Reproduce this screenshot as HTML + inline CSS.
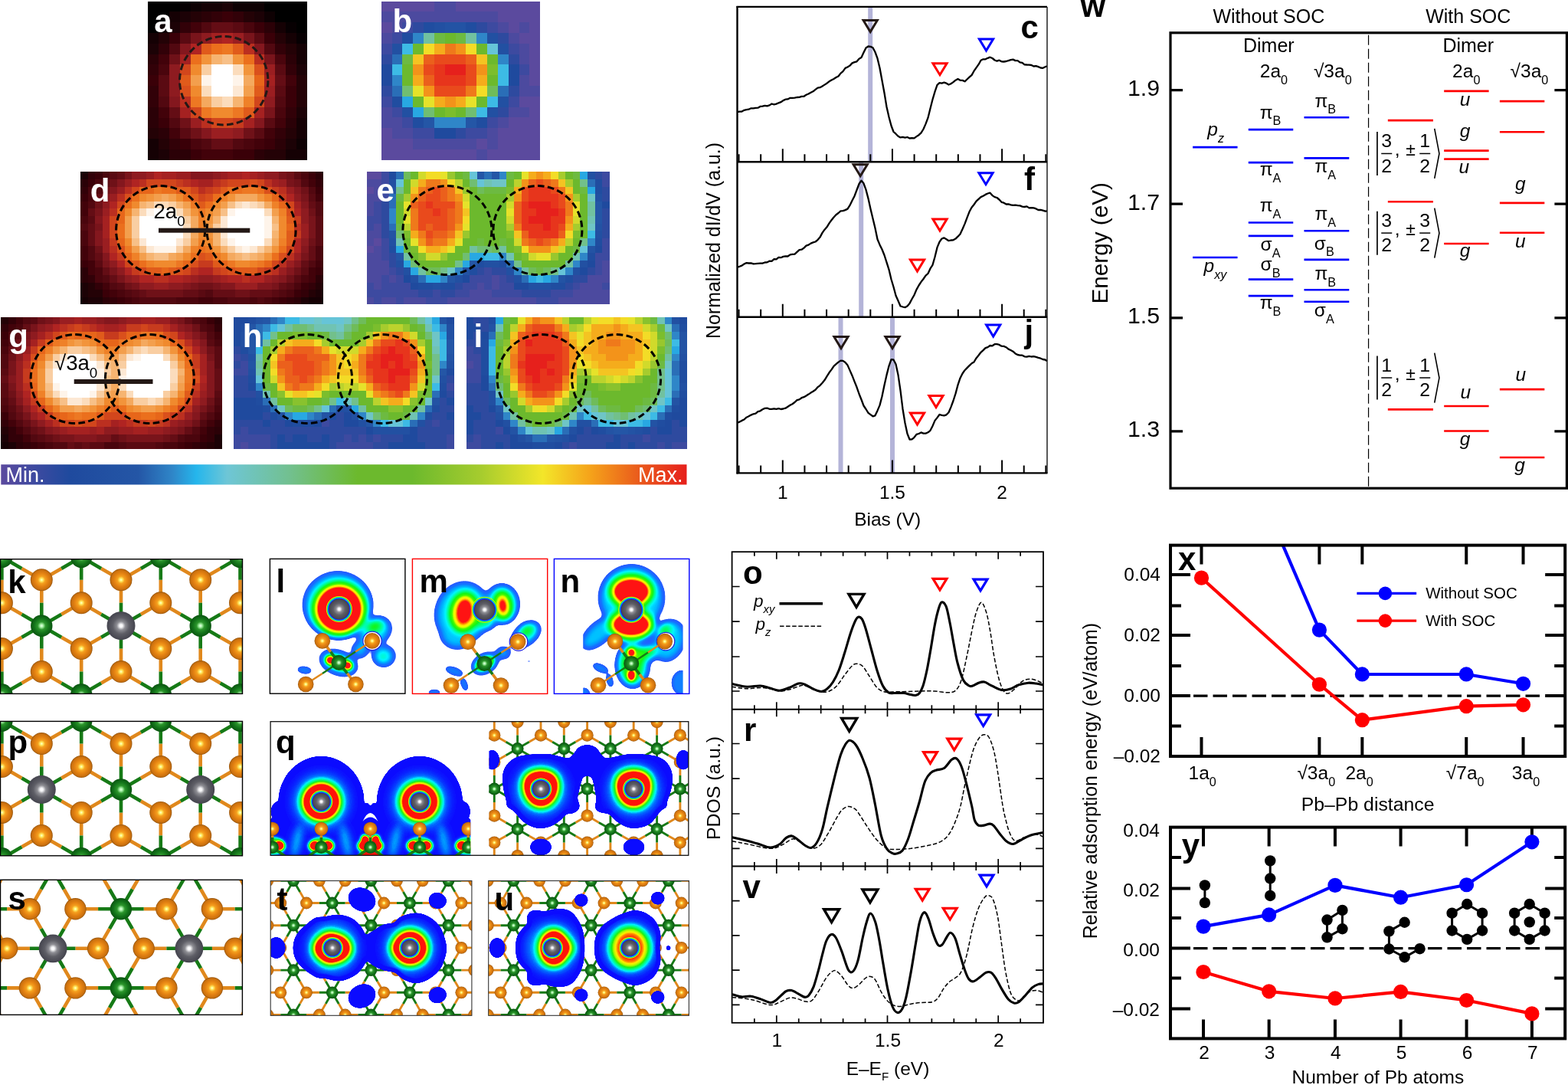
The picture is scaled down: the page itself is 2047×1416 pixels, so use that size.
<!DOCTYPE html>
<html lang="en"><head><meta charset="utf-8"><title>Figure</title>
<style>
html,body{margin:0;padding:0;background:#fff}
body{width:2047px;height:1416px;overflow:hidden}
svg{display:block;font-family:"Liberation Sans",Arial,Helvetica,sans-serif}
</style></head><body>
<svg width="2047" height="1416" viewBox="0 0 2047 1416">
<rect width="2047" height="1416" fill="#fff"/>
<g id="heat">
<g transform="translate(193.4 1.6) scale(13.8267 13.8133)" shape-rendering="crispEdges"><path fill="#000000" d="M0 0h3v1h-3zM11 0h4v1h-4zM0 1h2v1h-2zM12 1h3v1h-3zM0 2h1v1h-1zM14 2h1v1h-1z"/><path fill="#070002" d="M3 0h1v1h-1zM13 2h1v1h-1zM14 3h1v1h-1z"/><path fill="#0e0103" d="M4 0h1v1h-1zM8 0h3v1h-3zM11 1h1v1h-1zM1 2h1v1h-1zM14 13h1v1h-1z"/><path fill="#150104" d="M5 0h2v1h-2zM2 1h1v1h-1zM12 2h1v1h-1zM0 3h1v1h-1zM13 3h1v1h-1zM14 4h1v1h-1zM14 5h1v1h-1zM14 11h1v1h-1zM14 12h1v1h-1zM0 13h1v1h-1zM0 14h1v1h-1zM13 14h2v1h-2z"/><path fill="#1c0206" d="M7 0h1v1h-1zM3 1h1v1h-1zM10 1h1v1h-1zM2 2h1v1h-1zM0 4h1v1h-1zM14 6h1v1h-1zM14 10h1v1h-1zM13 13h1v1h-1zM1 14h1v1h-1z"/><path fill="#240206" d="M4 1h1v1h-1zM9 1h1v1h-1zM1 3h1v1h-1zM12 3h1v1h-1zM13 4h1v1h-1zM14 7h1v1h-1zM14 8h1v1h-1zM14 9h1v1h-1zM0 12h1v1h-1zM13 12h1v1h-1zM1 13h1v1h-1zM11 14h2v1h-2z"/><path fill="#2b0107" d="M5 1h1v1h-1zM11 2h1v1h-1zM0 5h1v1h-1zM13 5h1v1h-1zM0 10h1v1h-1zM0 11h1v1h-1zM13 11h1v1h-1zM1 12h1v1h-1zM12 13h1v1h-1zM2 14h2v1h-2zM10 14h1v1h-1z"/><path fill="#320108" d="M6 1h1v1h-1zM8 1h1v1h-1zM3 2h1v1h-1zM1 4h1v1h-1zM12 4h1v1h-1zM0 6h1v1h-1zM13 6h1v1h-1zM0 8h1v1h-1zM0 9h1v1h-1zM13 10h1v1h-1zM12 12h1v1h-1zM2 13h1v1h-1z"/><path fill="#3a0008" d="M7 1h1v1h-1zM10 2h1v1h-1zM2 3h1v1h-1zM11 3h1v1h-1zM0 7h1v1h-1zM13 8h1v1h-1zM13 9h1v1h-1zM1 11h1v1h-1zM3 13h1v1h-1zM11 13h1v1h-1zM4 14h1v1h-1zM8 14h2v1h-2z"/><path fill="#42020a" d="M4 2h1v1h-1zM1 5h1v1h-1zM13 7h1v1h-1zM1 10h1v1h-1zM12 11h1v1h-1zM2 12h1v1h-1zM11 12h1v1h-1zM10 13h1v1h-1zM5 14h3v1h-3z"/><path fill="#520810" d="M5 2h1v1h-1zM2 4h1v1h-1zM11 4h1v1h-1zM1 9h1v1h-1zM12 9h1v1h-1zM2 11h1v1h-1zM5 13h1v1h-1zM8 13h1v1h-1z"/><path fill="#640d15" d="M6 2h2v1h-2zM12 7h1v1h-1zM2 10h1v1h-1zM6 13h2v1h-2z"/><path fill="#5a0a12" d="M8 2h1v1h-1zM3 3h1v1h-1zM10 3h1v1h-1zM12 6h1v1h-1zM1 7h1v1h-1zM1 8h1v1h-1zM12 8h1v1h-1zM11 11h1v1h-1zM3 12h1v1h-1zM10 12h1v1h-1z"/><path fill="#4a050d" d="M9 2h1v1h-1zM12 5h1v1h-1zM1 6h1v1h-1zM12 10h1v1h-1zM4 13h1v1h-1zM9 13h1v1h-1z"/><path fill="#79141b" d="M4 3h1v1h-1zM9 3h1v1h-1zM11 5h1v1h-1zM11 10h1v1h-1z"/><path fill="#8e1b20" d="M5 3h1v1h-1zM2 6h1v1h-1zM2 7h1v1h-1zM2 8h1v1h-1zM11 9h1v1h-1zM8 12h1v1h-1z"/><path fill="#a52121" d="M6 3h1v1h-1zM3 5h1v1h-1zM11 7h1v1h-1zM3 10h1v1h-1zM10 10h1v1h-1zM9 11h1v1h-1z"/><path fill="#b02422" d="M7 3h1v1h-1zM4 4h1v1h-1z"/><path fill="#9a1e21" d="M8 3h1v1h-1zM11 6h1v1h-1zM11 8h1v1h-1zM4 11h1v1h-1zM6 12h2v1h-2z"/><path fill="#84171e" d="M3 4h1v1h-1zM10 4h1v1h-1zM2 9h1v1h-1zM10 11h1v1h-1zM5 12h1v1h-1z"/><path fill="#e05b1b" d="M5 4h1v1h-1zM8 4h1v1h-1zM3 7h1v1h-1zM10 8h1v1h-1zM9 10h1v1h-1z"/><path fill="#eb6f1d" d="M6 4h1v1h-1zM4 5h1v1h-1zM9 5h1v1h-1z"/><path fill="#ed7823" d="M7 4h1v1h-1zM4 9h1v1h-1zM5 10h1v1h-1zM8 10h1v1h-1z"/><path fill="#bb2f20" d="M9 4h1v1h-1zM10 5h1v1h-1zM3 9h1v1h-1zM5 11h1v1h-1z"/><path fill="#6f1118" d="M2 5h1v1h-1zM3 11h1v1h-1zM4 12h1v1h-1zM9 12h1v1h-1z"/><path fill="#f2943b" d="M5 5h1v1h-1zM8 5h1v1h-1zM9 6h1v1h-1z"/><path fill="#f6b471" d="M6 5h1v1h-1zM8 9h1v1h-1z"/><path fill="#f7c088" d="M7 5h1v1h-1z"/><path fill="#d2461c" d="M3 6h1v1h-1zM10 9h1v1h-1zM4 10h1v1h-1zM6 11h2v1h-2z"/><path fill="#f08a2e" d="M4 6h1v1h-1zM4 8h1v1h-1zM6 10h2v1h-2z"/><path fill="#f9cea2" d="M5 6h1v1h-1zM6 9h1v1h-1z"/><path fill="#ffffff" d="M6 6h2v1h-2zM6 7h2v1h-2zM6 8h2v1h-2z"/><path fill="#fbdcbc" d="M8 6h1v1h-1zM5 8h1v1h-1zM7 9h1v1h-1z"/><path fill="#da501c" d="M10 6h1v1h-1zM3 8h1v1h-1z"/><path fill="#f39f4d" d="M4 7h1v1h-1zM9 8h1v1h-1z"/><path fill="#fef4ea" d="M5 7h1v1h-1zM8 7h1v1h-1z"/><path fill="#f4a95f" d="M9 7h1v1h-1zM5 9h1v1h-1z"/><path fill="#e7661a" d="M10 7h1v1h-1z"/><path fill="#fce8d4" d="M8 8h1v1h-1z"/><path fill="#ef8128" d="M9 9h1v1h-1z"/><path fill="#c73b1e" d="M8 11h1v1h-1z"/></g>
<g transform="translate(497.8 1.6) scale(13.8267 13.8)" shape-rendering="crispEdges"><path fill="#5b4a9e" d="M0 0h5v1h-5zM7 0h8v1h-8zM11 1h4v1h-4zM0 2h1v1h-1zM12 2h1v1h-1zM14 2h1v1h-1zM13 3h2v1h-2zM14 4h1v1h-1zM14 5h1v1h-1zM14 6h1v1h-1zM14 7h1v1h-1zM13 9h2v1h-2zM14 10h1v1h-1zM12 11h3v1h-3zM0 12h1v1h-1zM11 12h4v1h-4zM0 13h3v1h-3zM9 13h1v1h-1zM11 13h4v1h-4zM0 14h9v1h-9zM10 14h5v1h-5z"/><path fill="#4c4a9f" d="M5 0h2v1h-2zM0 1h11v1h-11zM1 2h1v1h-1zM11 2h1v1h-1zM13 2h1v1h-1zM0 3h1v1h-1zM12 3h1v1h-1zM13 4h1v1h-1zM13 5h1v1h-1zM13 7h1v1h-1zM13 8h2v1h-2zM0 10h1v1h-1zM12 10h2v1h-2zM0 11h2v1h-2zM11 11h1v1h-1zM1 12h2v1h-2zM10 12h1v1h-1zM3 13h6v1h-6zM10 13h1v1h-1zM9 14h1v1h-1z"/><path fill="#3d4aa0" d="M2 2h1v1h-1zM10 2h1v1h-1zM1 3h1v1h-1zM0 4h1v1h-1zM12 4h1v1h-1zM13 6h1v1h-1zM0 9h1v1h-1zM12 9h1v1h-1zM1 10h1v1h-1zM2 11h1v1h-1zM10 11h1v1h-1zM3 12h2v1h-2zM8 12h2v1h-2z"/><path fill="#2e4a9f" d="M3 2h1v1h-1zM9 2h1v1h-1zM11 3h1v1h-1zM0 5h1v1h-1zM12 5h1v1h-1zM0 8h1v1h-1zM12 8h1v1h-1zM11 10h1v1h-1zM7 12h1v1h-1z"/><path fill="#204da0" d="M4 2h1v1h-1zM8 2h1v1h-1zM2 3h1v1h-1zM1 9h1v1h-1zM3 11h1v1h-1zM9 11h1v1h-1z"/><path fill="#2250a2" d="M5 2h1v1h-1zM10 3h1v1h-1zM1 4h1v1h-1zM11 4h1v1h-1zM11 9h1v1h-1zM2 10h1v1h-1zM10 10h1v1h-1z"/><path fill="#2353a4" d="M6 2h2v1h-2z"/><path fill="#2f86c8" d="M3 3h1v1h-1zM9 3h1v1h-1zM11 5h1v1h-1zM1 7h1v1h-1zM5 11h3v1h-3z"/><path fill="#71c1a0" d="M4 3h1v1h-1zM8 3h1v1h-1z"/><path fill="#6dba41" d="M5 3h1v1h-1zM7 3h1v1h-1zM2 5h1v1h-1z"/><path fill="#6cb92d" d="M6 3h1v1h-1zM3 4h1v1h-1zM9 4h1v1h-1zM10 5h1v1h-1zM2 6h1v1h-1zM2 7h1v1h-1zM10 7h1v1h-1zM3 9h1v1h-1zM9 9h1v1h-1zM5 10h1v1h-1zM7 10h1v1h-1z"/><path fill="#3dbbe5" d="M2 4h1v1h-1zM1 6h1v1h-1zM11 6h1v1h-1zM11 7h1v1h-1zM10 9h1v1h-1zM9 10h1v1h-1z"/><path fill="#f3dc27" d="M4 4h1v1h-1zM8 4h1v1h-1zM9 8h1v1h-1z"/><path fill="#f5ac1c" d="M5 4h1v1h-1zM3 7h1v1h-1zM9 7h1v1h-1zM5 9h1v1h-1zM7 9h1v1h-1z"/><path fill="#ef791b" d="M6 4h1v1h-1zM8 8h1v1h-1z"/><path fill="#f3931a" d="M7 4h1v1h-1zM3 6h1v1h-1zM9 6h1v1h-1zM4 8h1v1h-1zM6 9h1v1h-1z"/><path fill="#66c4d8" d="M10 4h1v1h-1z"/><path fill="#2a6eb7" d="M1 5h1v1h-1zM1 8h1v1h-1zM11 8h1v1h-1z"/><path fill="#f4c422" d="M3 5h1v1h-1zM9 5h1v1h-1z"/><path fill="#eb601c" d="M4 5h1v1h-1zM8 5h1v1h-1zM4 7h1v1h-1z"/><path fill="#e94a1c" d="M5 5h3v1h-3zM4 6h1v1h-1zM8 6h1v1h-1zM8 7h1v1h-1zM5 8h3v1h-3z"/><path fill="#1f4a9e" d="M0 6h1v1h-1zM12 6h1v1h-1zM0 7h1v1h-1zM12 7h1v1h-1zM5 12h2v1h-2z"/><path fill="#e7351c" d="M5 6h1v1h-1zM5 7h3v1h-3z"/><path fill="#e6201c" d="M6 6h2v1h-2z"/><path fill="#7bbe2d" d="M10 6h1v1h-1zM6 10h1v1h-1z"/><path fill="#70be72" d="M2 8h1v1h-1zM4 10h1v1h-1zM8 10h1v1h-1z"/><path fill="#e6e22a" d="M3 8h1v1h-1zM4 9h1v1h-1zM8 9h1v1h-1z"/><path fill="#6fbc5a" d="M10 8h1v1h-1z"/><path fill="#28a8e2" d="M2 9h1v1h-1zM3 10h1v1h-1z"/><path fill="#2456a6" d="M4 11h1v1h-1zM8 11h1v1h-1z"/></g>
<g transform="translate(105 224.3) scale(9.6061 9.6222)" shape-rendering="crispEdges"><path fill="#1c0206" d="M0 0h1v1h-1zM0 15h1v1h-1zM0 16h1v1h-1zM32 16h1v1h-1zM1 17h2v1h-2zM30 17h1v1h-1z"/><path fill="#320108" d="M1 0h1v1h-1zM32 1h1v1h-1zM0 2h1v1h-1zM1 14h1v1h-1zM2 15h1v1h-1zM31 15h1v1h-1zM30 16h1v1h-1zM4 17h1v1h-1zM28 17h1v1h-1z"/><path fill="#3a0008" d="M2 0h1v1h-1zM31 0h1v1h-1zM1 1h1v1h-1zM32 2h1v1h-1zM0 3h1v1h-1zM0 12h1v1h-1zM32 13h1v1h-1zM30 15h1v1h-1zM3 16h1v1h-1zM29 16h1v1h-1zM5 17h1v1h-1zM27 17h1v1h-1z"/><path fill="#4a050d" d="M3 0h1v1h-1zM30 0h1v1h-1zM2 1h1v1h-1zM1 2h1v1h-1zM1 3h1v1h-1zM0 6h1v1h-1zM0 8h1v1h-1zM0 9h1v1h-1zM32 10h1v1h-1zM32 11h1v1h-1zM2 13h1v1h-1zM2 14h1v1h-1zM30 14h1v1h-1zM29 15h1v1h-1zM5 16h1v1h-1zM28 16h1v1h-1zM7 17h1v1h-1zM13 17h3v1h-3zM18 17h2v1h-2zM23 17h1v1h-1zM25 17h1v1h-1z"/><path fill="#5a0a12" d="M4 0h1v1h-1zM29 0h1v1h-1zM3 1h1v1h-1zM31 3h1v1h-1zM1 6h1v1h-1zM32 6h1v1h-1zM32 7h1v1h-1zM32 8h1v1h-1zM32 9h1v1h-1zM2 12h1v1h-1zM30 13h1v1h-1zM29 14h1v1h-1zM5 15h1v1h-1zM28 15h1v1h-1zM7 16h1v1h-1zM16 16h1v1h-1zM26 16h1v1h-1z"/><path fill="#640d15" d="M5 0h1v1h-1zM2 3h1v1h-1zM31 4h1v1h-1zM1 5h1v1h-1zM1 7h1v1h-1zM1 8h1v1h-1zM1 9h1v1h-1zM31 10h1v1h-1zM2 11h1v1h-1zM31 11h1v1h-1zM30 12h1v1h-1zM3 13h1v1h-1zM4 14h1v1h-1zM27 15h1v1h-1zM8 16h1v1h-1zM14 16h2v1h-2zM18 16h3v1h-3zM23 16h3v1h-3z"/><path fill="#79141b" d="M6 0h1v1h-1zM27 0h1v1h-1zM28 1h1v1h-1zM30 3h1v1h-1zM2 5h1v1h-1zM31 6h1v1h-1zM2 7h1v1h-1zM31 7h1v1h-1zM31 8h1v1h-1zM30 11h1v1h-1zM3 12h1v1h-1zM4 13h1v1h-1zM5 14h1v1h-1zM7 15h1v1h-1zM15 15h1v1h-1zM18 15h1v1h-1zM26 15h1v1h-1z"/><path fill="#8e1b20" d="M7 0h2v1h-2zM18 0h1v1h-1zM25 0h2v1h-2zM29 3h1v1h-1zM3 4h1v1h-1zM30 5h1v1h-1zM30 6h1v1h-1zM30 9h1v1h-1zM4 12h1v1h-1zM5 13h1v1h-1zM6 14h1v1h-1zM16 14h2v1h-2zM26 14h1v1h-1zM8 15h2v1h-2zM12 15h2v1h-2z"/><path fill="#9a1e21" d="M9 0h1v1h-1zM13 0h2v1h-2zM19 0h1v1h-1zM24 0h1v1h-1zM6 1h1v1h-1zM27 1h1v1h-1zM5 2h1v1h-1zM28 2h1v1h-1zM4 3h1v1h-1zM3 5h1v1h-1zM30 7h1v1h-1zM30 8h1v1h-1zM3 9h1v1h-1zM3 10h1v1h-1zM29 11h1v1h-1zM28 12h1v1h-1zM27 13h1v1h-1zM7 14h1v1h-1zM15 14h1v1h-1zM18 14h1v1h-1zM25 14h1v1h-1zM10 15h2v1h-2zM21 15h3v1h-3z"/><path fill="#b02422" d="M10 0h1v1h-1zM22 0h1v1h-1zM7 1h1v1h-1zM15 1h1v1h-1zM28 3h1v1h-1zM4 4h1v1h-1zM29 5h1v1h-1zM29 9h1v1h-1zM29 10h1v1h-1zM4 11h1v1h-1zM5 12h1v1h-1zM6 13h1v1h-1zM16 13h2v1h-2zM8 14h2v1h-2zM12 14h2v1h-2zM20 14h2v1h-2zM23 14h2v1h-2z"/><path fill="#a52121" d="M11 0h2v1h-2zM20 0h2v1h-2zM23 0h1v1h-1zM16 1h2v1h-2zM26 1h1v1h-1zM29 4h1v1h-1zM3 6h1v1h-1zM3 7h1v1h-1zM3 8h1v1h-1zM14 14h1v1h-1zM19 14h1v1h-1z"/><path fill="#84171e" d="M15 0h3v1h-3zM5 1h1v1h-1zM4 2h1v1h-1zM29 2h1v1h-1zM3 3h1v1h-1zM30 4h1v1h-1zM2 6h1v1h-1zM2 8h1v1h-1zM2 9h1v1h-1zM30 10h1v1h-1zM3 11h1v1h-1zM29 12h1v1h-1zM28 13h1v1h-1zM27 14h1v1h-1zM14 15h1v1h-1zM19 15h2v1h-2zM24 15h2v1h-2z"/><path fill="#6f1118" d="M28 0h1v1h-1zM4 1h1v1h-1zM29 1h1v1h-1zM3 2h1v1h-1zM30 2h1v1h-1zM2 4h1v1h-1zM31 5h1v1h-1zM31 9h1v1h-1zM2 10h1v1h-1zM29 13h1v1h-1zM28 14h1v1h-1zM6 15h1v1h-1zM16 15h2v1h-2zM9 16h5v1h-5zM21 16h2v1h-2z"/><path fill="#2b0107" d="M32 0h1v1h-1zM0 1h1v1h-1zM0 13h1v1h-1zM0 14h1v1h-1zM32 14h1v1h-1zM3 17h1v1h-1zM29 17h1v1h-1z"/><path fill="#bb2f20" d="M8 1h1v1h-1zM14 1h1v1h-1zM18 1h1v1h-1zM25 1h1v1h-1zM6 2h1v1h-1zM16 2h1v1h-1zM27 2h1v1h-1zM5 3h1v1h-1zM4 5h1v1h-1zM29 7h1v1h-1zM4 10h1v1h-1zM28 11h1v1h-1zM27 12h1v1h-1zM15 13h1v1h-1zM26 13h1v1h-1zM10 14h2v1h-2zM22 14h1v1h-1z"/><path fill="#d2461c" d="M9 1h4v1h-4zM20 1h3v1h-3zM24 1h1v1h-1zM7 2h1v1h-1zM15 2h1v1h-1zM18 2h1v1h-1zM16 3h1v1h-1zM5 4h1v1h-1zM28 4h1v1h-1zM4 6h1v1h-1zM4 7h1v1h-1zM4 8h1v1h-1zM28 10h1v1h-1zM6 12h1v1h-1zM26 12h1v1h-1zM8 13h1v1h-1zM14 13h1v1h-1zM19 13h1v1h-1zM24 13h1v1h-1z"/><path fill="#c73b1e" d="M13 1h1v1h-1zM19 1h1v1h-1zM17 2h1v1h-1zM26 2h1v1h-1zM27 3h1v1h-1zM29 6h1v1h-1zM29 8h1v1h-1zM4 9h1v1h-1zM5 11h1v1h-1zM16 12h2v1h-2zM7 13h1v1h-1zM18 13h1v1h-1zM25 13h1v1h-1z"/><path fill="#da501c" d="M23 1h1v1h-1zM25 2h1v1h-1zM6 3h1v1h-1zM17 3h1v1h-1zM28 5h1v1h-1zM5 10h1v1h-1zM16 11h1v1h-1zM27 11h1v1h-1zM15 12h1v1h-1zM13 13h1v1h-1zM20 13h1v1h-1z"/><path fill="#520810" d="M30 1h1v1h-1zM2 2h1v1h-1zM31 2h1v1h-1zM1 4h1v1h-1zM32 4h1v1h-1zM32 5h1v1h-1zM0 7h1v1h-1zM1 10h1v1h-1zM1 11h1v1h-1zM31 12h1v1h-1zM3 14h1v1h-1zM4 15h1v1h-1zM6 16h1v1h-1zM17 16h1v1h-1zM27 16h1v1h-1zM8 17h5v1h-5zM20 17h3v1h-3zM24 17h1v1h-1z"/><path fill="#42020a" d="M31 1h1v1h-1zM32 3h1v1h-1zM0 4h1v1h-1zM0 5h1v1h-1zM0 10h1v1h-1zM0 11h1v1h-1zM1 12h1v1h-1zM32 12h1v1h-1zM1 13h1v1h-1zM31 13h1v1h-1zM31 14h1v1h-1zM3 15h1v1h-1zM4 16h1v1h-1zM6 17h1v1h-1zM16 17h2v1h-2zM26 17h1v1h-1z"/><path fill="#e7661a" d="M8 2h2v1h-2zM26 3h1v1h-1zM27 4h1v1h-1zM5 5h1v1h-1zM5 6h1v1h-1zM28 7h1v1h-1zM5 9h1v1h-1zM6 11h1v1h-1zM14 12h1v1h-1zM19 12h1v1h-1zM25 12h1v1h-1zM11 13h1v1h-1z"/><path fill="#ed7823" d="M10 2h1v1h-1zM22 2h2v1h-2zM15 4h1v1h-1zM16 5h1v1h-1zM6 10h1v1h-1zM17 10h1v1h-1zM18 11h1v1h-1zM13 12h1v1h-1zM20 12h1v1h-1zM24 12h1v1h-1z"/><path fill="#eb6f1d" d="M11 2h2v1h-2zM20 2h2v1h-2zM24 2h1v1h-1zM7 3h1v1h-1zM14 3h1v1h-1zM18 3h1v1h-1zM6 4h1v1h-1zM17 4h1v1h-1zM5 7h1v1h-1zM5 8h1v1h-1zM16 10h1v1h-1zM27 10h1v1h-1zM15 11h1v1h-1zM26 11h1v1h-1zM8 12h1v1h-1z"/><path fill="#e05b1b" d="M13 2h2v1h-2zM19 2h1v1h-1zM15 3h1v1h-1zM16 4h1v1h-1zM28 6h1v1h-1zM28 8h1v1h-1zM28 9h1v1h-1zM17 11h1v1h-1zM7 12h1v1h-1zM18 12h1v1h-1zM9 13h2v1h-2zM12 13h1v1h-1zM21 13h3v1h-3z"/><path fill="#f08a2e" d="M8 3h1v1h-1zM13 3h1v1h-1zM7 4h1v1h-1zM18 4h1v1h-1zM6 5h1v1h-1zM17 5h1v1h-1zM27 6h1v1h-1zM27 7h1v1h-1zM16 8h1v1h-1zM27 8h1v1h-1zM6 9h1v1h-1zM17 9h1v1h-1zM14 11h1v1h-1zM19 11h1v1h-1zM10 12h3v1h-3zM21 12h2v1h-2z"/><path fill="#f2943b" d="M9 3h1v1h-1zM20 3h1v1h-1zM24 3h1v1h-1zM15 5h1v1h-1zM17 6h1v1h-1zM17 8h1v1h-1zM18 10h1v1h-1zM26 10h1v1h-1zM25 11h1v1h-1z"/><path fill="#f39f4d" d="M10 3h1v1h-1zM12 3h1v1h-1zM14 4h1v1h-1zM19 4h1v1h-1zM18 5h1v1h-1zM26 5h1v1h-1zM6 6h1v1h-1zM6 7h1v1h-1zM17 7h1v1h-1zM6 8h1v1h-1zM15 9h1v1h-1zM7 10h1v1h-1zM8 11h1v1h-1zM13 11h1v1h-1z"/><path fill="#f4a95f" d="M11 3h1v1h-1zM21 3h3v1h-3zM25 4h1v1h-1zM15 6h1v1h-1zM15 7h1v1h-1zM15 8h1v1h-1zM26 9h1v1h-1zM14 10h1v1h-1zM12 11h1v1h-1zM20 11h1v1h-1zM24 11h1v1h-1z"/><path fill="#ef8128" d="M19 3h1v1h-1zM25 3h1v1h-1zM26 4h1v1h-1zM27 5h1v1h-1zM16 6h1v1h-1zM16 7h1v1h-1zM16 9h1v1h-1zM27 9h1v1h-1zM15 10h1v1h-1zM7 11h1v1h-1zM9 12h1v1h-1zM23 12h1v1h-1z"/><path fill="#f6b471" d="M8 4h1v1h-1zM13 4h1v1h-1zM7 5h1v1h-1zM14 5h1v1h-1zM18 6h1v1h-1zM26 6h1v1h-1zM18 8h1v1h-1zM26 8h1v1h-1zM18 9h1v1h-1zM19 10h1v1h-1zM25 10h1v1h-1zM9 11h1v1h-1zM21 11h1v1h-1zM23 11h1v1h-1z"/><path fill="#f7c088" d="M9 4h1v1h-1zM20 4h1v1h-1zM19 5h1v1h-1zM26 7h1v1h-1zM7 9h1v1h-1zM8 10h1v1h-1zM10 11h2v1h-2zM22 11h1v1h-1z"/><path fill="#fbdcbc" d="M10 4h2v1h-2zM21 4h1v1h-1zM23 4h1v1h-1zM8 5h1v1h-1zM13 5h1v1h-1zM25 5h1v1h-1zM14 7h1v1h-1zM14 8h1v1h-1zM19 9h1v1h-1zM25 9h1v1h-1z"/><path fill="#f9cea2" d="M12 4h1v1h-1zM24 4h1v1h-1zM7 6h1v1h-1zM14 6h1v1h-1zM7 7h1v1h-1zM18 7h1v1h-1zM7 8h1v1h-1zM14 9h1v1h-1zM13 10h1v1h-1zM20 10h1v1h-1zM24 10h1v1h-1z"/><path fill="#fce8d4" d="M22 4h1v1h-1zM19 6h1v1h-1zM19 7h1v1h-1zM19 8h1v1h-1zM8 9h1v1h-1zM13 9h1v1h-1zM9 10h1v1h-1zM21 10h1v1h-1zM23 10h1v1h-1z"/><path fill="#fef4ea" d="M9 5h1v1h-1zM12 5h1v1h-1zM20 5h1v1h-1zM25 6h1v1h-1zM25 7h1v1h-1zM25 8h1v1h-1zM20 9h1v1h-1zM10 10h3v1h-3zM22 10h1v1h-1z"/><path fill="#ffffff" d="M10 5h2v1h-2zM21 5h4v1h-4zM8 6h6v1h-6zM20 6h5v1h-5zM8 7h6v1h-6zM20 7h5v1h-5zM8 8h6v1h-6zM20 8h5v1h-5zM9 9h4v1h-4zM21 9h4v1h-4z"/><path fill="#240206" d="M1 15h1v1h-1zM32 15h1v1h-1zM1 16h2v1h-2zM31 16h1v1h-1z"/><path fill="#150104" d="M0 17h1v1h-1zM31 17h2v1h-2z"/></g>
<g transform="translate(478.8 224.3) scale(9.6061 9.6222)" shape-rendering="crispEdges"><path fill="#5b4a9e" d="M0 0h2v1h-2zM0 2h1v1h-1zM1 9h1v1h-1zM0 10h1v1h-1z"/><path fill="#3d4aa0" d="M2 0h1v1h-1zM32 0h1v1h-1zM2 1h1v1h-1zM32 1h1v1h-1zM2 3h1v1h-1zM1 4h1v1h-1zM1 5h1v1h-1zM0 6h2v1h-2zM0 7h1v1h-1zM2 9h1v1h-1zM32 9h1v1h-1zM2 10h1v1h-1zM32 10h1v1h-1zM2 11h1v1h-1zM31 11h2v1h-2zM31 12h1v1h-1zM3 13h1v1h-1zM16 13h1v1h-1zM31 13h1v1h-1zM2 14h1v1h-1zM4 14h1v1h-1zM14 14h3v1h-3zM18 14h1v1h-1zM0 15h1v1h-1zM2 15h4v1h-4zM13 15h2v1h-2zM16 15h1v1h-1zM18 15h2v1h-2zM28 15h1v1h-1zM32 15h1v1h-1zM0 16h7v1h-7zM9 16h1v1h-1zM12 16h2v1h-2zM17 16h4v1h-4zM25 16h3v1h-3zM1 17h1v1h-1zM4 17h1v1h-1zM8 17h3v1h-3zM23 17h3v1h-3z"/><path fill="#1f4a9e" d="M3 0h1v1h-1zM32 4h1v1h-1zM31 10h1v1h-1zM30 12h1v1h-1zM29 13h1v1h-1zM5 14h1v1h-1zM13 14h1v1h-1zM6 15h1v1h-1zM20 15h2v1h-2z"/><path fill="#2a6eb7" d="M4 0h1v1h-1zM16 0h1v1h-1zM30 1h1v1h-1zM3 3h1v1h-1zM3 4h1v1h-1zM3 7h1v1h-1zM19 12h1v1h-1zM7 14h1v1h-1zM21 14h1v1h-1z"/><path fill="#6fbc5a" d="M5 0h1v1h-1zM15 2h1v1h-1zM17 10h1v1h-1zM8 13h2v1h-2zM22 13h1v1h-1zM24 13h1v1h-1z"/><path fill="#6cb92d" d="M6 0h1v1h-1zM12 0h1v1h-1zM20 0h1v1h-1zM27 0h1v1h-1zM5 1h1v1h-1zM13 1h1v1h-1zM19 1h1v1h-1zM28 1h1v1h-1zM5 2h1v1h-1zM14 2h1v1h-1zM28 2h1v1h-1zM14 3h5v1h-5zM29 3h1v1h-1zM4 4h1v1h-1zM14 4h5v1h-5zM29 4h1v1h-1zM4 5h1v1h-1zM14 5h5v1h-5zM29 5h1v1h-1zM4 6h1v1h-1zM14 6h5v1h-5zM29 6h1v1h-1zM14 7h5v1h-5zM29 7h1v1h-1zM14 8h5v1h-5zM29 8h1v1h-1zM5 9h1v1h-1zM13 9h2v1h-2zM16 9h2v1h-2zM19 9h1v1h-1zM28 9h1v1h-1zM12 10h2v1h-2zM19 10h1v1h-1zM27 10h1v1h-1zM6 11h1v1h-1zM11 11h2v1h-2zM20 11h1v1h-1zM26 11h2v1h-2zM7 12h5v1h-5zM21 12h6v1h-6z"/><path fill="#d1da2b" d="M7 0h1v1h-1zM6 1h1v1h-1zM13 3h1v1h-1zM19 4h1v1h-1zM5 5h1v1h-1zM19 6h1v1h-1zM28 6h1v1h-1zM20 9h1v1h-1zM26 10h1v1h-1zM8 11h2v1h-2zM22 11h1v1h-1z"/><path fill="#f3dc27" d="M8 0h2v1h-2zM25 0h1v1h-1zM11 1h1v1h-1zM13 6h1v1h-1zM27 8h1v1h-1zM7 10h1v1h-1zM21 10h1v1h-1z"/><path fill="#e6e22a" d="M10 0h1v1h-1zM21 0h1v1h-1zM5 4h1v1h-1zM13 4h1v1h-1zM28 4h1v1h-1zM19 5h1v1h-1zM28 5h1v1h-1zM5 6h1v1h-1zM13 7h1v1h-1zM6 9h1v1h-1zM12 9h1v1h-1zM11 10h1v1h-1zM23 11h2v1h-2z"/><path fill="#98c72e" d="M11 0h1v1h-1zM13 2h1v1h-1zM13 8h1v1h-1zM10 11h1v1h-1zM25 11h1v1h-1z"/><path fill="#6dba41" d="M13 0h1v1h-1zM19 0h1v1h-1zM28 0h1v1h-1zM16 2h3v1h-3zM29 2h1v1h-1zM4 3h1v1h-1zM4 7h1v1h-1zM15 9h1v1h-1zM18 9h1v1h-1zM5 10h1v1h-1zM28 10h1v1h-1zM23 13h1v1h-1z"/><path fill="#66c4d8" d="M14 0h1v1h-1zM4 1h1v1h-1zM15 1h1v1h-1zM29 10h1v1h-1zM26 13h1v1h-1z"/><path fill="#2456a6" d="M15 0h1v1h-1zM17 0h1v1h-1zM31 4h1v1h-1zM31 5h1v1h-1zM31 6h1v1h-1zM4 11h1v1h-1zM14 12h1v1h-1zM11 14h1v1h-1z"/><path fill="#2f86c8" d="M18 0h1v1h-1zM3 5h1v1h-1zM3 6h1v1h-1zM30 9h1v1h-1zM18 11h1v1h-1zM29 11h1v1h-1zM28 12h1v1h-1zM12 13h1v1h-1zM20 13h1v1h-1zM27 13h1v1h-1zM10 14h1v1h-1zM25 14h1v1h-1z"/><path fill="#f5ac1c" d="M22 0h1v1h-1zM24 0h1v1h-1zM7 1h1v1h-1zM20 2h1v1h-1zM27 7h1v1h-1zM6 8h1v1h-1zM11 9h1v1h-1zM26 9h1v1h-1zM8 10h2v1h-2z"/><path fill="#f3931a" d="M23 0h1v1h-1zM10 1h1v1h-1zM21 1h1v1h-1zM6 3h1v1h-1zM12 3h1v1h-1zM20 3h1v1h-1zM27 3h1v1h-1zM27 6h1v1h-1zM12 7h1v1h-1zM7 9h1v1h-1zM22 10h3v1h-3z"/><path fill="#a6cc2e" d="M26 0h1v1h-1zM27 1h1v1h-1zM5 3h1v1h-1zM19 3h1v1h-1zM28 3h1v1h-1zM19 7h1v1h-1zM28 7h1v1h-1z"/><path fill="#28a8e2" d="M29 0h1v1h-1zM30 2h1v1h-1zM4 10h1v1h-1zM14 11h2v1h-2zM5 12h1v1h-1zM13 12h1v1h-1zM6 13h1v1h-1zM8 14h2v1h-2zM22 14h1v1h-1zM24 14h1v1h-1z"/><path fill="#2250a2" d="M30 0h1v1h-1zM3 1h1v1h-1zM31 3h1v1h-1zM31 8h1v1h-1zM3 9h1v1h-1zM4 12h1v1h-1zM16 12h2v1h-2zM29 12h1v1h-1zM5 13h1v1h-1zM19 13h1v1h-1zM28 13h1v1h-1zM6 14h1v1h-1zM12 14h1v1h-1zM20 14h1v1h-1zM9 15h1v1h-1zM22 15h3v1h-3z"/><path fill="#2e4a9f" d="M31 0h1v1h-1zM2 2h1v1h-1zM32 2h1v1h-1zM32 3h1v1h-1zM2 4h1v1h-1zM2 5h1v1h-1zM32 5h1v1h-1zM2 6h1v1h-1zM32 6h1v1h-1zM2 7h1v1h-1zM32 7h1v1h-1zM2 8h1v1h-1zM32 8h1v1h-1zM3 11h1v1h-1zM3 12h1v1h-1zM4 13h1v1h-1zM15 13h1v1h-1zM17 13h2v1h-2zM30 13h1v1h-1zM19 14h1v1h-1zM28 14h2v1h-2zM12 15h1v1h-1zM27 15h1v1h-1zM7 16h2v1h-2zM10 16h2v1h-2zM21 16h4v1h-4z"/><path fill="#4c4a9f" d="M0 1h2v1h-2zM1 2h1v1h-1zM0 3h2v1h-2zM0 4h1v1h-1zM0 5h1v1h-1zM1 7h1v1h-1zM0 8h2v1h-2zM0 9h1v1h-1zM1 10h1v1h-1zM0 11h2v1h-2zM0 12h3v1h-3zM32 12h1v1h-1zM0 13h3v1h-3zM32 13h1v1h-1zM0 14h2v1h-2zM3 14h1v1h-1zM17 14h1v1h-1zM30 14h3v1h-3zM1 15h1v1h-1zM15 15h1v1h-1zM17 15h1v1h-1zM29 15h3v1h-3zM14 16h3v1h-3zM28 16h5v1h-5zM0 17h1v1h-1zM2 17h2v1h-2zM5 17h3v1h-3zM11 17h12v1h-12zM26 17h7v1h-7z"/><path fill="#ef791b" d="M8 1h2v1h-2zM25 1h1v1h-1zM7 2h1v1h-1zM11 2h1v1h-1zM26 2h1v1h-1zM11 3h1v1h-1zM12 4h1v1h-1zM27 4h1v1h-1zM6 5h1v1h-1zM12 5h1v1h-1zM27 5h1v1h-1zM6 6h1v1h-1zM12 6h1v1h-1zM6 7h1v1h-1zM20 7h1v1h-1zM7 8h1v1h-1zM11 8h1v1h-1zM9 9h2v1h-2zM21 9h1v1h-1zM25 9h1v1h-1z"/><path fill="#bbd32d" d="M12 1h1v1h-1zM20 1h1v1h-1zM5 7h1v1h-1zM27 9h1v1h-1z"/><path fill="#70be72" d="M14 1h1v1h-1zM4 8h1v1h-1zM15 10h2v1h-2zM13 11h1v1h-1zM6 12h1v1h-1z"/><path fill="#70c3b3" d="M16 1h1v1h-1zM30 6h1v1h-1zM4 9h1v1h-1zM19 11h1v1h-1zM28 11h1v1h-1z"/><path fill="#6fc5c6" d="M17 1h2v1h-2zM30 3h1v1h-1zM30 7h1v1h-1zM11 13h1v1h-1z"/><path fill="#eb601c" d="M22 1h1v1h-1zM24 1h1v1h-1zM8 2h1v1h-1zM10 2h1v1h-1zM7 3h1v1h-1zM10 3h1v1h-1zM6 4h1v1h-1zM20 4h1v1h-1zM11 5h1v1h-1zM20 5h1v1h-1zM11 6h1v1h-1zM20 6h1v1h-1zM8 7h1v1h-1zM11 7h1v1h-1zM9 8h2v1h-2zM21 8h1v1h-1zM26 8h1v1h-1zM8 9h1v1h-1zM22 9h1v1h-1zM24 9h1v1h-1z"/><path fill="#e94a1c" d="M23 1h1v1h-1zM9 2h1v1h-1zM21 2h1v1h-1zM25 2h1v1h-1zM8 3h2v1h-2zM21 3h1v1h-1zM26 3h1v1h-1zM7 4h1v1h-1zM9 4h3v1h-3zM26 4h1v1h-1zM7 5h2v1h-2zM10 5h1v1h-1zM7 6h4v1h-4zM7 7h1v1h-1zM9 7h2v1h-2zM26 7h1v1h-1zM8 8h1v1h-1zM23 9h1v1h-1z"/><path fill="#f4c422" d="M26 1h1v1h-1zM6 2h1v1h-1zM12 2h1v1h-1zM27 2h1v1h-1zM13 5h1v1h-1zM12 8h1v1h-1zM20 8h1v1h-1zM10 10h1v1h-1zM25 10h1v1h-1z"/><path fill="#72c08b" d="M29 1h1v1h-1zM4 2h1v1h-1zM29 9h1v1h-1zM12 12h1v1h-1zM20 12h1v1h-1zM10 13h1v1h-1zM25 13h1v1h-1z"/><path fill="#204da0" d="M31 1h1v1h-1zM31 2h1v1h-1zM31 9h1v1h-1zM3 10h1v1h-1zM30 11h1v1h-1zM15 12h1v1h-1zM18 12h1v1h-1zM14 13h1v1h-1zM27 14h1v1h-1zM7 15h2v1h-2zM10 15h2v1h-2zM25 15h2v1h-2z"/><path fill="#2353a4" d="M3 2h1v1h-1zM31 7h1v1h-1zM3 8h1v1h-1zM30 10h1v1h-1zM13 13h1v1h-1zM26 14h1v1h-1z"/><path fill="#7bbe2d" d="M19 2h1v1h-1zM5 8h1v1h-1zM19 8h1v1h-1zM28 8h1v1h-1zM6 10h1v1h-1zM20 10h1v1h-1zM21 11h1v1h-1z"/><path fill="#e7351c" d="M22 2h3v1h-3zM22 3h4v1h-4zM8 4h1v1h-1zM21 4h1v1h-1zM25 4h1v1h-1zM9 5h1v1h-1zM21 5h2v1h-2zM26 5h1v1h-1zM21 6h1v1h-1zM25 6h2v1h-2zM21 7h3v1h-3zM25 7h1v1h-1zM22 8h4v1h-4z"/><path fill="#e6201c" d="M22 4h3v1h-3zM23 5h3v1h-3zM22 6h3v1h-3zM24 7h1v1h-1z"/><path fill="#71c1a0" d="M30 4h1v1h-1zM30 5h1v1h-1zM14 10h1v1h-1zM18 10h1v1h-1zM5 11h1v1h-1zM27 12h1v1h-1zM7 13h1v1h-1zM21 13h1v1h-1z"/><path fill="#3dbbe5" d="M30 8h1v1h-1zM16 11h2v1h-2zM23 14h1v1h-1z"/><path fill="#89c22e" d="M7 11h1v1h-1z"/></g>
<g transform="translate(1.3 413.8) scale(9.6067 9.5778)" shape-rendering="crispEdges"><path fill="#240206" d="M0 0h1v1h-1zM0 15h1v1h-1zM28 17h1v1h-1z"/><path fill="#320108" d="M1 0h1v1h-1zM0 1h1v1h-1zM29 1h1v1h-1zM0 14h1v1h-1zM29 14h1v1h-1zM1 15h1v1h-1zM28 15h1v1h-1zM1 16h2v1h-2zM28 16h1v1h-1zM3 17h1v1h-1zM26 17h1v1h-1z"/><path fill="#42020a" d="M2 0h1v1h-1zM1 1h1v1h-1zM29 2h1v1h-1zM0 3h1v1h-1zM29 13h1v1h-1zM1 14h1v1h-1zM28 14h1v1h-1zM2 15h1v1h-1zM27 15h1v1h-1zM3 16h1v1h-1zM5 17h1v1h-1zM24 17h1v1h-1z"/><path fill="#520810" d="M3 0h1v1h-1zM26 0h1v1h-1zM27 1h1v1h-1zM1 2h1v1h-1zM28 2h1v1h-1zM1 3h1v1h-1zM0 5h1v1h-1zM0 6h1v1h-1zM0 11h1v1h-1zM29 11h1v1h-1zM1 13h1v1h-1zM28 13h1v1h-1zM2 14h1v1h-1zM27 14h1v1h-1zM3 15h1v1h-1zM26 15h1v1h-1zM4 16h1v1h-1zM24 16h1v1h-1zM7 17h2v1h-2zM16 17h1v1h-1zM21 17h1v1h-1z"/><path fill="#5a0a12" d="M4 0h1v1h-1zM2 2h1v1h-1zM28 3h1v1h-1zM29 4h1v1h-1zM29 5h1v1h-1zM29 6h1v1h-1zM0 7h1v1h-1zM0 9h1v1h-1zM0 10h1v1h-1zM29 10h1v1h-1zM1 12h1v1h-1zM5 16h1v1h-1zM10 17h1v1h-1zM12 17h2v1h-2zM17 17h4v1h-4z"/><path fill="#6f1118" d="M5 0h1v1h-1zM26 1h1v1h-1zM27 2h1v1h-1zM2 3h1v1h-1zM28 4h1v1h-1zM1 5h1v1h-1zM1 10h1v1h-1zM28 11h1v1h-1zM2 12h1v1h-1zM26 14h1v1h-1zM5 15h1v1h-1zM7 16h1v1h-1zM16 16h1v1h-1zM22 16h1v1h-1z"/><path fill="#79141b" d="M6 0h1v1h-1zM24 0h1v1h-1zM4 1h1v1h-1zM3 2h1v1h-1zM2 4h1v1h-1zM28 5h1v1h-1zM1 6h1v1h-1zM1 7h1v1h-1zM1 9h1v1h-1zM27 12h1v1h-1zM3 13h1v1h-1zM4 14h1v1h-1zM24 15h1v1h-1zM8 16h2v1h-2zM13 16h2v1h-2zM17 16h5v1h-5z"/><path fill="#84171e" d="M7 0h1v1h-1zM14 0h2v1h-2zM23 0h1v1h-1zM25 1h1v1h-1zM26 2h1v1h-1zM3 3h1v1h-1zM27 3h1v1h-1zM28 6h1v1h-1zM28 7h1v1h-1zM1 8h1v1h-1zM28 8h1v1h-1zM28 9h1v1h-1zM28 10h1v1h-1zM2 11h1v1h-1zM26 13h1v1h-1zM25 14h1v1h-1zM6 15h1v1h-1zM23 15h1v1h-1zM10 16h3v1h-3z"/><path fill="#9a1e21" d="M8 0h2v1h-2zM11 0h2v1h-2zM17 0h2v1h-2zM21 0h2v1h-2zM6 1h1v1h-1zM25 2h1v1h-1zM26 3h1v1h-1zM3 4h1v1h-1zM2 6h1v1h-1zM2 7h1v1h-1zM2 8h1v1h-1zM2 9h1v1h-1zM27 10h1v1h-1zM4 13h1v1h-1zM25 13h1v1h-1zM23 14h1v1h-1zM8 15h1v1h-1zM12 15h1v1h-1zM16 15h2v1h-2zM20 15h2v1h-2z"/><path fill="#a52121" d="M10 0h1v1h-1zM19 0h2v1h-2zM14 1h2v1h-2zM23 1h1v1h-1zM5 2h1v1h-1zM4 3h1v1h-1zM27 5h1v1h-1zM27 6h1v1h-1zM27 7h1v1h-1zM27 9h1v1h-1zM3 11h1v1h-1zM26 11h1v1h-1zM6 14h1v1h-1zM15 14h1v1h-1zM9 15h3v1h-3zM13 15h1v1h-1zM18 15h2v1h-2z"/><path fill="#8e1b20" d="M13 0h1v1h-1zM16 0h1v1h-1zM5 1h1v1h-1zM24 1h1v1h-1zM4 2h1v1h-1zM27 4h1v1h-1zM2 5h1v1h-1zM2 10h1v1h-1zM27 11h1v1h-1zM3 12h1v1h-1zM26 12h1v1h-1zM5 14h1v1h-1zM24 14h1v1h-1zM7 15h1v1h-1zM14 15h2v1h-2zM22 15h1v1h-1z"/><path fill="#640d15" d="M25 0h1v1h-1zM3 1h1v1h-1zM1 4h1v1h-1zM29 7h1v1h-1zM0 8h1v1h-1zM29 8h1v1h-1zM29 9h1v1h-1zM1 11h1v1h-1zM28 12h1v1h-1zM2 13h1v1h-1zM27 13h1v1h-1zM3 14h1v1h-1zM4 15h1v1h-1zM25 15h1v1h-1zM6 16h1v1h-1zM15 16h1v1h-1zM23 16h1v1h-1zM9 17h1v1h-1zM11 17h1v1h-1z"/><path fill="#4a050d" d="M27 0h1v1h-1zM2 1h1v1h-1zM28 1h1v1h-1zM29 3h1v1h-1zM0 4h1v1h-1zM0 12h1v1h-1zM29 12h1v1h-1zM25 16h2v1h-2zM6 17h1v1h-1zM14 17h2v1h-2zM22 17h2v1h-2z"/><path fill="#3a0008" d="M28 0h1v1h-1zM0 2h1v1h-1zM0 13h1v1h-1zM27 16h1v1h-1zM4 17h1v1h-1zM25 17h1v1h-1z"/><path fill="#2b0107" d="M29 0h1v1h-1zM29 15h1v1h-1zM2 17h1v1h-1zM27 17h1v1h-1z"/><path fill="#b02422" d="M7 1h1v1h-1zM13 1h1v1h-1zM16 1h1v1h-1zM24 2h1v1h-1zM26 4h1v1h-1zM3 5h1v1h-1zM27 8h1v1h-1zM3 10h1v1h-1zM4 12h1v1h-1zM5 13h1v1h-1zM16 14h1v1h-1z"/><path fill="#bb2f20" d="M8 1h1v1h-1zM12 1h1v1h-1zM22 1h1v1h-1zM6 2h1v1h-1zM25 3h1v1h-1zM3 6h1v1h-1zM3 9h1v1h-1zM26 10h1v1h-1zM25 12h1v1h-1zM24 13h1v1h-1zM7 14h1v1h-1zM13 14h2v1h-2zM17 14h1v1h-1zM22 14h1v1h-1z"/><path fill="#c73b1e" d="M9 1h1v1h-1zM11 1h1v1h-1zM17 1h2v1h-2zM20 1h2v1h-2zM14 2h2v1h-2zM5 3h1v1h-1zM4 4h1v1h-1zM26 5h1v1h-1zM26 6h1v1h-1zM3 7h1v1h-1zM3 8h1v1h-1zM26 9h1v1h-1zM4 11h1v1h-1zM5 12h1v1h-1zM6 13h1v1h-1zM23 13h1v1h-1zM18 14h2v1h-2zM21 14h1v1h-1z"/><path fill="#d2461c" d="M10 1h1v1h-1zM19 1h1v1h-1zM7 2h1v1h-1zM23 2h1v1h-1zM25 4h1v1h-1zM26 7h1v1h-1zM25 11h1v1h-1zM24 12h1v1h-1zM14 13h3v1h-3zM8 14h2v1h-2zM11 14h2v1h-2zM20 14h1v1h-1z"/><path fill="#e05b1b" d="M8 2h1v1h-1zM13 2h1v1h-1zM6 3h1v1h-1zM25 10h1v1h-1zM15 12h1v1h-1zM7 13h1v1h-1zM13 13h1v1h-1z"/><path fill="#eb6f1d" d="M9 2h1v1h-1zM21 2h1v1h-1zM13 3h1v1h-1zM24 4h1v1h-1zM25 6h1v1h-1zM4 7h1v1h-1zM4 8h1v1h-1zM25 9h1v1h-1zM24 11h1v1h-1zM14 12h1v1h-1zM16 12h1v1h-1zM23 12h1v1h-1zM9 13h1v1h-1zM11 13h2v1h-2zM19 13h2v1h-2z"/><path fill="#e7661a" d="M10 2h3v1h-3zM17 2h2v1h-2zM14 3h2v1h-2zM23 3h1v1h-1zM5 4h1v1h-1zM25 5h1v1h-1zM4 6h1v1h-1zM4 9h1v1h-1zM5 11h1v1h-1zM6 12h1v1h-1zM8 13h1v1h-1zM17 13h2v1h-2zM21 13h1v1h-1z"/><path fill="#da501c" d="M16 2h1v1h-1zM22 2h1v1h-1zM24 3h1v1h-1zM4 5h1v1h-1zM26 8h1v1h-1zM4 10h1v1h-1zM22 13h1v1h-1zM10 14h1v1h-1z"/><path fill="#ed7823" d="M19 2h2v1h-2zM7 3h1v1h-1zM16 3h1v1h-1zM5 5h1v1h-1zM25 7h1v1h-1zM25 8h1v1h-1zM10 13h1v1h-1z"/><path fill="#ef8128" d="M8 3h1v1h-1zM6 4h1v1h-1zM14 4h2v1h-2zM5 10h1v1h-1zM15 11h1v1h-1zM7 12h1v1h-1zM13 12h1v1h-1zM22 12h1v1h-1z"/><path fill="#f2943b" d="M9 3h1v1h-1zM11 3h1v1h-1zM18 3h1v1h-1zM21 3h1v1h-1zM13 4h1v1h-1zM23 4h1v1h-1zM5 7h1v1h-1zM5 8h1v1h-1zM5 9h1v1h-1zM16 11h1v1h-1zM12 12h1v1h-1zM18 12h1v1h-1zM21 12h1v1h-1z"/><path fill="#f39f4d" d="M10 3h1v1h-1zM20 3h1v1h-1zM7 4h1v1h-1zM16 4h1v1h-1zM6 5h1v1h-1zM14 5h2v1h-2zM24 6h1v1h-1zM24 9h1v1h-1zM15 10h1v1h-1zM8 12h2v1h-2zM11 12h1v1h-1zM19 12h2v1h-2z"/><path fill="#f08a2e" d="M12 3h1v1h-1zM17 3h1v1h-1zM22 3h1v1h-1zM24 5h1v1h-1zM5 6h1v1h-1zM24 10h1v1h-1zM6 11h1v1h-1zM14 11h1v1h-1zM23 11h1v1h-1zM17 12h1v1h-1z"/><path fill="#f4a95f" d="M19 3h1v1h-1zM24 8h1v1h-1zM15 9h1v1h-1zM14 10h1v1h-1zM7 11h1v1h-1zM13 11h1v1h-1zM17 11h1v1h-1zM10 12h1v1h-1z"/><path fill="#f6b471" d="M8 4h1v1h-1zM12 4h1v1h-1zM17 4h1v1h-1zM22 4h1v1h-1zM23 5h1v1h-1zM15 6h1v1h-1zM15 7h1v1h-1zM24 7h1v1h-1zM15 8h1v1h-1zM6 10h1v1h-1zM16 10h1v1h-1zM23 10h1v1h-1zM22 11h1v1h-1z"/><path fill="#f9cea2" d="M9 4h2v1h-2zM18 4h1v1h-1zM20 4h2v1h-2zM7 5h1v1h-1zM16 6h1v1h-1zM23 6h1v1h-1zM6 7h1v1h-1zM14 7h1v1h-1zM6 8h1v1h-1zM23 9h1v1h-1zM13 10h1v1h-1zM22 10h1v1h-1zM18 11h2v1h-2zM21 11h1v1h-1z"/><path fill="#f7c088" d="M11 4h1v1h-1zM13 5h1v1h-1zM16 5h1v1h-1zM6 6h1v1h-1zM14 6h1v1h-1zM14 8h1v1h-1zM6 9h1v1h-1zM14 9h1v1h-1zM8 11h1v1h-1zM12 11h1v1h-1z"/><path fill="#fbdcbc" d="M19 4h1v1h-1zM12 5h1v1h-1zM22 5h1v1h-1zM23 7h1v1h-1zM23 8h1v1h-1zM16 9h1v1h-1zM7 10h1v1h-1zM17 10h1v1h-1zM11 11h1v1h-1zM20 11h1v1h-1z"/><path fill="#fce8d4" d="M8 5h1v1h-1zM17 5h1v1h-1zM7 6h1v1h-1zM13 6h1v1h-1zM16 7h1v1h-1zM13 9h1v1h-1zM9 11h2v1h-2z"/><path fill="#ffffff" d="M9 5h3v1h-3zM19 5h3v1h-3zM8 6h5v1h-5zM17 6h6v1h-6zM7 7h6v1h-6zM17 7h6v1h-6zM7 8h6v1h-6zM17 8h6v1h-6zM8 9h5v1h-5zM17 9h6v1h-6zM9 10h3v1h-3zM18 10h4v1h-4z"/><path fill="#fef4ea" d="M18 5h1v1h-1zM13 7h1v1h-1zM13 8h1v1h-1zM16 8h1v1h-1zM7 9h1v1h-1zM8 10h1v1h-1zM12 10h1v1h-1z"/><path fill="#1c0206" d="M0 16h1v1h-1zM29 16h1v1h-1zM1 17h1v1h-1zM29 17h1v1h-1z"/><path fill="#150104" d="M0 17h1v1h-1z"/></g>
<g transform="translate(304.8 413.8) scale(9.6067 9.5778)" shape-rendering="crispEdges"><path fill="#1f4a9e" d="M0 0h2v1h-2zM29 0h1v1h-1zM0 1h1v1h-1zM0 2h1v1h-1zM0 3h1v1h-1zM29 7h1v1h-1zM2 9h1v1h-1zM28 10h1v1h-1zM0 11h3v1h-3zM29 11h1v1h-1zM0 12h4v1h-4zM0 13h4v1h-4zM15 13h1v1h-1zM29 13h1v1h-1zM4 14h1v1h-1zM7 14h1v1h-1zM11 14h1v1h-1zM15 14h2v1h-2zM18 15h1v1h-1zM24 15h1v1h-1zM6 16h1v1h-1zM8 16h2v1h-2zM12 16h1v1h-1zM23 16h2v1h-2zM6 17h7v1h-7zM21 17h5v1h-5z"/><path fill="#204da0" d="M2 0h1v1h-1zM1 1h1v1h-1zM1 4h1v1h-1zM2 8h1v1h-1zM28 9h1v1h-1zM3 11h1v1h-1zM4 12h1v1h-1zM27 12h1v1h-1zM5 13h1v1h-1zM13 13h1v1h-1zM26 13h1v1h-1zM8 14h3v1h-3z"/><path fill="#2353a4" d="M3 0h1v1h-1zM28 0h1v1h-1zM29 5h1v1h-1zM2 6h1v1h-1zM27 11h1v1h-1zM6 13h1v1h-1zM12 13h1v1h-1z"/><path fill="#2456a6" d="M4 0h1v1h-1zM2 1h1v1h-1zM2 2h1v1h-1zM2 3h1v1h-1zM29 3h1v1h-1zM2 4h1v1h-1zM29 4h1v1h-1zM28 7h1v1h-1zM18 14h1v1h-1z"/><path fill="#2a6eb7" d="M5 0h1v1h-1zM3 1h1v1h-1zM3 2h1v1h-1zM3 3h1v1h-1zM27 10h1v1h-1zM4 11h1v1h-1zM5 12h1v1h-1zM13 12h1v1h-1zM26 12h1v1h-1zM11 13h1v1h-1zM24 14h1v1h-1z"/><path fill="#2f86c8" d="M6 0h1v1h-1zM4 1h1v1h-1zM28 1h1v1h-1zM28 6h1v1h-1zM3 9h1v1h-1zM7 13h1v1h-1zM10 13h1v1h-1zM17 13h1v1h-1zM25 13h1v1h-1zM19 14h1v1h-1z"/><path fill="#3dbbe5" d="M7 0h2v1h-2zM5 1h1v1h-1zM27 1h1v1h-1zM4 2h1v1h-1zM28 3h1v1h-1zM3 4h1v1h-1zM28 4h1v1h-1zM28 5h1v1h-1zM27 9h1v1h-1zM14 11h1v1h-1zM20 14h1v1h-1zM23 14h1v1h-1z"/><path fill="#66c4d8" d="M9 0h2v1h-2zM12 0h3v1h-3zM26 0h1v1h-1zM6 1h1v1h-1zM3 8h1v1h-1zM12 12h1v1h-1zM21 14h2v1h-2z"/><path fill="#6fc5c6" d="M11 0h1v1h-1zM15 0h1v1h-1zM14 1h1v1h-1zM27 2h1v1h-1zM27 3h1v1h-1zM27 8h1v1h-1zM15 11h1v1h-1zM26 11h1v1h-1zM6 12h1v1h-1zM18 13h1v1h-1z"/><path fill="#72c08b" d="M16 0h1v1h-1zM10 1h1v1h-1zM15 1h1v1h-1zM5 2h1v1h-1zM13 2h1v1h-1zM27 5h1v1h-1zM27 6h1v1h-1zM27 7h1v1h-1zM13 11h1v1h-1zM16 11h1v1h-1zM11 12h1v1h-1z"/><path fill="#6fbc5a" d="M17 0h1v1h-1zM24 0h1v1h-1zM16 1h1v1h-1zM15 2h1v1h-1zM7 12h1v1h-1zM10 12h1v1h-1z"/><path fill="#6cb92d" d="M18 0h6v1h-6zM17 1h2v1h-2zM24 1h1v1h-1zM6 2h2v1h-2zM10 2h2v1h-2zM16 2h2v1h-2zM25 2h1v1h-1zM5 3h1v1h-1zM13 3h4v1h-4zM26 3h1v1h-1zM4 4h1v1h-1zM26 4h1v1h-1zM4 5h1v1h-1zM26 5h1v1h-1zM4 6h1v1h-1zM4 7h1v1h-1zM26 7h1v1h-1zM4 8h1v1h-1zM26 8h1v1h-1zM5 9h1v1h-1zM26 9h1v1h-1zM5 10h1v1h-1zM13 10h5v1h-5zM6 11h2v1h-2zM10 11h2v1h-2zM17 11h2v1h-2zM25 11h1v1h-1zM18 12h3v1h-3zM23 12h2v1h-2zM21 13h2v1h-2z"/><path fill="#71c1a0" d="M25 0h1v1h-1zM7 1h1v1h-1zM14 2h1v1h-1zM4 3h1v1h-1zM3 6h1v1h-1zM5 11h1v1h-1zM17 12h1v1h-1zM25 12h1v1h-1z"/><path fill="#28a8e2" d="M27 0h1v1h-1zM28 2h1v1h-1zM16 12h1v1h-1zM8 13h2v1h-2z"/><path fill="#70be72" d="M8 1h2v1h-2zM26 2h1v1h-1zM19 13h1v1h-1z"/><path fill="#70c3b3" d="M11 1h3v1h-3zM26 1h1v1h-1zM27 4h1v1h-1zM3 5h1v1h-1zM3 7h1v1h-1zM4 10h1v1h-1zM24 13h1v1h-1z"/><path fill="#7bbe2d" d="M19 1h1v1h-1zM8 2h2v1h-2zM26 6h1v1h-1zM12 10h1v1h-1zM25 10h1v1h-1z"/><path fill="#a6cc2e" d="M20 1h1v1h-1zM18 2h1v1h-1zM12 3h1v1h-1zM17 3h1v1h-1zM25 3h1v1h-1zM5 4h1v1h-1zM13 9h1v1h-1z"/><path fill="#bbd32d" d="M21 1h2v1h-2zM6 3h1v1h-1zM14 9h1v1h-1zM16 9h1v1h-1zM19 11h1v1h-1z"/><path fill="#98c72e" d="M23 1h1v1h-1z"/><path fill="#6dba41" d="M25 1h1v1h-1zM12 2h1v1h-1zM4 9h1v1h-1zM26 10h1v1h-1zM12 11h1v1h-1zM8 12h2v1h-2zM20 13h1v1h-1zM23 13h1v1h-1z"/><path fill="#2250a2" d="M29 1h1v1h-1zM1 2h1v1h-1zM29 2h1v1h-1zM1 3h1v1h-1zM2 5h1v1h-1zM29 6h1v1h-1zM2 7h1v1h-1zM28 8h1v1h-1zM3 10h1v1h-1zM14 12h2v1h-2zM16 13h1v1h-1zM17 14h1v1h-1zM25 14h1v1h-1zM19 15h5v1h-5z"/><path fill="#f4c422" d="M19 2h1v1h-1zM7 3h1v1h-1zM18 3h1v1h-1zM14 5h1v1h-1zM16 5h1v1h-1zM5 6h1v1h-1zM14 6h1v1h-1zM14 7h3v1h-3zM13 8h1v1h-1zM25 8h1v1h-1zM6 9h1v1h-1zM8 10h2v1h-2zM24 10h1v1h-1zM20 11h1v1h-1z"/><path fill="#f3931a" d="M20 2h1v1h-1zM24 3h1v1h-1zM13 5h1v1h-1zM13 6h1v1h-1zM25 6h1v1h-1zM13 7h1v1h-1zM6 8h1v1h-1zM17 8h1v1h-1zM24 9h1v1h-1zM19 10h1v1h-1z"/><path fill="#ef791b" d="M21 2h2v1h-2zM19 3h1v1h-1zM7 4h1v1h-1zM11 4h1v1h-1zM18 4h1v1h-1zM6 5h1v1h-1zM17 5h1v1h-1zM12 6h1v1h-1zM17 6h1v1h-1zM6 7h1v1h-1zM12 7h1v1h-1zM17 7h1v1h-1zM11 8h1v1h-1zM7 9h1v1h-1zM9 9h2v1h-2zM20 10h1v1h-1zM23 10h1v1h-1z"/><path fill="#f5ac1c" d="M23 2h1v1h-1zM8 3h3v1h-3zM6 4h1v1h-1zM12 4h1v1h-1zM17 4h1v1h-1zM25 5h1v1h-1zM16 6h1v1h-1zM25 7h1v1h-1zM12 8h1v1h-1zM11 9h1v1h-1zM18 9h1v1h-1zM21 11h2v1h-2z"/><path fill="#d1da2b" d="M24 2h1v1h-1zM14 4h3v1h-3zM5 8h1v1h-1zM15 9h1v1h-1zM25 9h1v1h-1z"/><path fill="#f3dc27" d="M11 3h1v1h-1zM25 4h1v1h-1zM5 5h1v1h-1zM15 5h1v1h-1zM15 6h1v1h-1zM5 7h1v1h-1zM14 8h3v1h-3zM12 9h1v1h-1zM10 10h1v1h-1zM23 11h1v1h-1z"/><path fill="#e94a1c" d="M20 3h2v1h-2zM23 3h1v1h-1zM19 4h1v1h-1zM7 5h3v1h-3zM18 5h1v1h-1zM24 5h1v1h-1zM8 6h3v1h-3zM8 7h3v1h-3zM18 7h1v1h-1zM24 7h1v1h-1zM9 8h1v1h-1zM20 9h1v1h-1zM22 10h1v1h-1z"/><path fill="#e7351c" d="M22 3h1v1h-1zM20 4h1v1h-1zM22 4h2v1h-2zM19 5h1v1h-1zM23 5h1v1h-1zM18 6h2v1h-2zM21 6h1v1h-1zM23 6h2v1h-2zM19 7h2v1h-2zM19 8h2v1h-2zM22 8h2v1h-2zM21 9h3v1h-3z"/><path fill="#2e4a9f" d="M0 4h1v1h-1zM1 5h1v1h-1zM0 6h1v1h-1zM0 8h2v1h-2zM29 8h1v1h-1zM0 9h2v1h-2zM0 10h3v1h-3zM29 10h1v1h-1zM28 11h1v1h-1zM28 12h2v1h-2zM4 13h1v1h-1zM14 13h1v1h-1zM27 13h2v1h-2zM0 14h4v1h-4zM5 14h2v1h-2zM13 14h2v1h-2zM26 14h1v1h-1zM28 14h2v1h-2zM0 15h1v1h-1zM2 15h16v1h-16zM25 15h5v1h-5zM5 16h1v1h-1zM7 16h1v1h-1zM10 16h2v1h-2zM13 16h2v1h-2zM16 16h1v1h-1zM18 16h1v1h-1zM20 16h3v1h-3zM25 16h4v1h-4zM5 17h1v1h-1zM13 17h1v1h-1zM19 17h2v1h-2zM26 17h3v1h-3z"/><path fill="#eb601c" d="M8 4h3v1h-3zM24 4h1v1h-1zM10 5h3v1h-3zM6 6h2v1h-2zM11 6h1v1h-1zM7 7h1v1h-1zM11 7h1v1h-1zM7 8h2v1h-2zM10 8h1v1h-1zM18 8h1v1h-1zM24 8h1v1h-1zM8 9h1v1h-1zM19 9h1v1h-1zM21 10h1v1h-1z"/><path fill="#e6e22a" d="M13 4h1v1h-1zM17 9h1v1h-1zM7 10h1v1h-1zM11 10h1v1h-1zM18 10h1v1h-1z"/><path fill="#e6201c" d="M21 4h1v1h-1zM20 5h3v1h-3zM20 6h1v1h-1zM22 6h1v1h-1zM21 7h3v1h-3zM21 8h1v1h-1z"/><path fill="#3d4aa0" d="M0 5h1v1h-1zM1 6h1v1h-1zM0 7h2v1h-2zM29 9h1v1h-1zM12 14h1v1h-1zM27 14h1v1h-1zM1 15h1v1h-1zM0 16h5v1h-5zM15 16h1v1h-1zM17 16h1v1h-1zM19 16h1v1h-1zM29 16h1v1h-1zM0 17h1v1h-1zM2 17h3v1h-3zM14 17h5v1h-5zM29 17h1v1h-1z"/><path fill="#89c22e" d="M6 10h1v1h-1zM8 11h2v1h-2zM24 11h1v1h-1zM21 12h2v1h-2z"/><path fill="#4c4a9f" d="M1 17h1v1h-1z"/></g>
<g transform="translate(608.8 413.8) scale(9.5933 9.5778)" shape-rendering="crispEdges"><path fill="#1f4a9e" d="M0 0h1v1h-1zM29 0h1v1h-1zM0 1h2v1h-2zM0 2h1v1h-1zM2 2h1v1h-1zM2 8h1v1h-1zM2 9h1v1h-1zM29 11h1v1h-1zM0 12h1v1h-1zM3 12h1v1h-1zM29 12h1v1h-1zM0 13h2v1h-2zM28 13h2v1h-2zM0 14h1v1h-1zM4 14h1v1h-1zM27 14h1v1h-1zM29 14h1v1h-1zM0 15h1v1h-1zM5 15h1v1h-1zM15 15h1v1h-1zM17 15h1v1h-1zM26 15h2v1h-2zM6 16h1v1h-1zM14 16h1v1h-1zM20 16h1v1h-1zM4 17h1v1h-1zM6 17h3v1h-3zM12 17h1v1h-1zM19 17h2v1h-2zM22 17h1v1h-1z"/><path fill="#2e4a9f" d="M1 0h2v1h-2zM2 1h1v1h-1zM1 2h1v1h-1zM0 3h2v1h-2zM1 4h1v1h-1zM0 9h2v1h-2zM0 10h3v1h-3zM0 11h3v1h-3zM1 12h2v1h-2zM2 13h2v1h-2zM1 14h3v1h-3zM28 14h1v1h-1zM1 15h3v1h-3zM16 15h1v1h-1zM25 15h1v1h-1zM28 15h2v1h-2zM0 16h1v1h-1zM2 16h4v1h-4zM15 16h5v1h-5zM21 16h3v1h-3zM25 16h5v1h-5zM2 17h2v1h-2zM5 17h1v1h-1zM13 17h1v1h-1zM15 17h4v1h-4zM21 17h1v1h-1zM23 17h3v1h-3zM27 17h1v1h-1z"/><path fill="#204da0" d="M3 0h1v1h-1zM29 1h1v1h-1zM2 3h1v1h-1zM2 4h1v1h-1zM2 5h1v1h-1zM2 6h1v1h-1zM29 6h1v1h-1zM2 7h1v1h-1zM29 7h1v1h-1zM29 8h1v1h-1zM29 10h1v1h-1zM28 12h1v1h-1zM27 13h1v1h-1zM26 14h1v1h-1zM18 15h1v1h-1zM24 15h1v1h-1zM9 17h3v1h-3z"/><path fill="#28a8e2" d="M4 0h1v1h-1zM3 3h1v1h-1zM28 4h1v1h-1zM24 14h1v1h-1zM12 15h1v1h-1z"/><path fill="#6dba41" d="M5 0h1v1h-1zM25 0h1v1h-1zM26 1h1v1h-1zM4 3h1v1h-1zM26 6h1v1h-1zM4 8h1v1h-1zM25 9h1v1h-1zM25 10h1v1h-1zM24 11h1v1h-1zM14 12h1v1h-1zM19 12h2v1h-2zM13 13h1v1h-1zM11 14h1v1h-1z"/><path fill="#6cb92d" d="M6 0h1v1h-1zM14 0h2v1h-2zM5 1h1v1h-1zM5 2h1v1h-1zM4 4h1v1h-1zM4 5h1v1h-1zM26 5h1v1h-1zM4 6h1v1h-1zM4 7h1v1h-1zM25 7h1v1h-1zM16 8h1v1h-1zM24 8h2v1h-2zM5 9h1v1h-1zM15 9h3v1h-3zM21 9h4v1h-4zM5 10h1v1h-1zM15 10h1v1h-1zM17 10h8v1h-8zM6 11h1v1h-1zM14 11h1v1h-1zM18 11h6v1h-6zM6 12h2v1h-2zM13 12h1v1h-1zM21 12h2v1h-2zM7 13h6v1h-6zM9 14h2v1h-2z"/><path fill="#e6e22a" d="M7 0h1v1h-1zM17 0h1v1h-1zM22 0h1v1h-1zM15 2h1v1h-1zM15 6h1v1h-1zM17 7h1v1h-1zM23 7h1v1h-1zM20 8h1v1h-1zM14 9h1v1h-1zM9 12h1v1h-1z"/><path fill="#f5ac1c" d="M8 0h1v1h-1zM7 1h1v1h-1zM13 1h1v1h-1zM17 1h3v1h-3zM21 1h1v1h-1zM17 2h2v1h-2zM21 2h3v1h-3zM6 3h1v1h-1zM14 3h1v1h-1zM17 3h1v1h-1zM23 3h1v1h-1zM16 4h2v1h-2zM23 4h1v1h-1zM17 5h2v1h-2zM22 5h2v1h-2zM18 6h5v1h-5zM14 7h1v1h-1zM6 8h1v1h-1zM7 10h1v1h-1zM8 11h1v1h-1z"/><path fill="#ef791b" d="M9 0h1v1h-1zM12 1h1v1h-1zM13 2h1v1h-1zM19 3h2v1h-2zM6 5h1v1h-1zM6 6h1v1h-1zM13 8h1v1h-1zM7 9h1v1h-1zM8 10h1v1h-1z"/><path fill="#f3931a" d="M10 0h2v1h-2zM20 1h1v1h-1zM19 2h2v1h-2zM18 3h1v1h-1zM21 3h2v1h-2zM6 4h1v1h-1zM14 4h1v1h-1zM18 4h5v1h-5zM14 5h1v1h-1zM19 5h3v1h-3zM14 6h1v1h-1zM6 7h1v1h-1zM13 9h1v1h-1zM12 10h1v1h-1zM9 11h3v1h-3z"/><path fill="#f4c422" d="M12 0h1v1h-1zM20 0h1v1h-1zM22 1h2v1h-2zM6 2h1v1h-1zM14 2h1v1h-1zM16 2h1v1h-1zM16 3h1v1h-1zM24 3h1v1h-1zM15 4h1v1h-1zM16 5h1v1h-1zM17 6h1v1h-1zM18 7h4v1h-4zM14 8h1v1h-1z"/><path fill="#bbd32d" d="M13 0h1v1h-1zM16 0h1v1h-1zM23 0h1v1h-1zM6 1h1v1h-1zM15 1h1v1h-1zM5 5h1v1h-1zM25 5h1v1h-1zM5 6h1v1h-1zM16 7h1v1h-1zM17 8h2v1h-2zM22 8h1v1h-1z"/><path fill="#f3dc27" d="M18 0h2v1h-2zM21 0h1v1h-1zM16 1h1v1h-1zM24 2h1v1h-1zM15 3h1v1h-1zM24 4h1v1h-1zM15 5h1v1h-1zM24 5h1v1h-1zM16 6h1v1h-1zM23 6h1v1h-1zM22 7h1v1h-1zM6 9h1v1h-1zM13 10h1v1h-1zM12 11h1v1h-1zM10 12h1v1h-1z"/><path fill="#89c22e" d="M24 0h1v1h-1zM5 3h1v1h-1zM23 8h1v1h-1zM19 9h2v1h-2zM14 10h1v1h-1zM12 12h1v1h-1z"/><path fill="#70c3b3" d="M26 0h1v1h-1zM4 1h1v1h-1zM14 13h1v1h-1zM23 13h1v1h-1zM9 15h2v1h-2z"/><path fill="#2f86c8" d="M27 0h1v1h-1zM28 2h1v1h-1zM28 5h1v1h-1zM3 8h1v1h-1zM28 8h1v1h-1zM28 9h1v1h-1zM4 11h1v1h-1zM5 13h1v1h-1zM15 13h1v1h-1zM6 14h1v1h-1zM14 14h1v1h-1zM7 15h1v1h-1z"/><path fill="#2250a2" d="M28 0h1v1h-1zM29 5h1v1h-1zM29 9h1v1h-1zM3 10h1v1h-1zM3 11h1v1h-1zM4 13h1v1h-1zM5 14h1v1h-1zM15 14h2v1h-2zM14 15h1v1h-1zM23 15h1v1h-1zM7 16h1v1h-1zM13 16h1v1h-1z"/><path fill="#2353a4" d="M3 1h1v1h-1zM29 2h1v1h-1zM29 3h1v1h-1zM29 4h1v1h-1zM28 11h1v1h-1zM25 14h1v1h-1zM6 15h1v1h-1zM19 15h1v1h-1zM22 15h1v1h-1zM12 16h1v1h-1z"/><path fill="#eb601c" d="M8 1h1v1h-1zM7 2h1v1h-1zM13 3h1v1h-1zM11 10h1v1h-1z"/><path fill="#e94a1c" d="M9 1h3v1h-3zM8 2h1v1h-1zM12 2h1v1h-1zM7 3h1v1h-1zM7 4h1v1h-1zM13 4h1v1h-1zM7 5h1v1h-1zM13 5h1v1h-1zM13 6h1v1h-1zM7 7h1v1h-1zM13 7h1v1h-1zM7 8h1v1h-1zM8 9h1v1h-1zM12 9h1v1h-1zM9 10h2v1h-2z"/><path fill="#a6cc2e" d="M14 1h1v1h-1zM25 1h1v1h-1zM5 4h1v1h-1zM15 7h1v1h-1zM24 7h1v1h-1zM13 11h1v1h-1zM8 12h1v1h-1z"/><path fill="#d1da2b" d="M24 1h1v1h-1zM25 2h1v1h-1zM25 3h1v1h-1zM25 4h1v1h-1zM24 6h1v1h-1zM19 8h1v1h-1zM21 8h1v1h-1zM7 11h1v1h-1zM11 12h1v1h-1z"/><path fill="#6fc5c6" d="M27 1h1v1h-1zM27 6h1v1h-1zM4 10h1v1h-1zM26 11h1v1h-1zM5 12h1v1h-1zM15 12h1v1h-1zM25 12h1v1h-1zM18 13h1v1h-1zM13 14h1v1h-1zM11 15h1v1h-1z"/><path fill="#2a6eb7" d="M28 1h1v1h-1zM3 2h1v1h-1zM28 6h1v1h-1zM28 7h1v1h-1zM3 9h1v1h-1zM28 10h1v1h-1zM27 12h1v1h-1zM26 13h1v1h-1zM17 14h1v1h-1zM13 15h1v1h-1zM9 16h2v1h-2z"/><path fill="#6fbc5a" d="M4 2h1v1h-1zM27 3h1v1h-1zM16 10h1v1h-1zM5 11h1v1h-1zM15 11h1v1h-1zM17 11h1v1h-1zM25 11h1v1h-1zM18 12h1v1h-1zM23 12h1v1h-1zM8 14h1v1h-1z"/><path fill="#e7351c" d="M9 2h3v1h-3zM9 3h4v1h-4zM8 4h5v1h-5zM12 5h1v1h-1zM7 6h1v1h-1zM11 6h2v1h-2zM10 7h1v1h-1zM12 7h1v1h-1zM8 8h1v1h-1zM10 8h3v1h-3zM9 9h3v1h-3z"/><path fill="#7bbe2d" d="M26 2h1v1h-1zM26 4h1v1h-1zM5 8h1v1h-1zM15 8h1v1h-1zM18 9h1v1h-1z"/><path fill="#70be72" d="M27 2h1v1h-1zM27 4h1v1h-1zM4 9h1v1h-1zM24 12h1v1h-1zM21 13h1v1h-1zM12 14h1v1h-1z"/><path fill="#e6201c" d="M8 3h1v1h-1zM8 5h4v1h-4zM8 6h3v1h-3zM8 7h2v1h-2zM11 7h1v1h-1zM9 8h1v1h-1z"/><path fill="#98c72e" d="M26 3h1v1h-1zM25 6h1v1h-1zM5 7h1v1h-1zM6 10h1v1h-1z"/><path fill="#3dbbe5" d="M28 3h1v1h-1zM3 4h1v1h-1zM3 5h1v1h-1zM3 6h1v1h-1zM3 7h1v1h-1zM27 11h1v1h-1zM26 12h1v1h-1zM16 13h1v1h-1zM25 13h1v1h-1zM18 14h2v1h-2zM22 14h2v1h-2z"/><path fill="#3d4aa0" d="M0 4h1v1h-1zM0 5h2v1h-2zM1 6h1v1h-1zM0 7h2v1h-2zM0 8h2v1h-2zM4 15h1v1h-1zM1 16h1v1h-1zM24 16h1v1h-1zM0 17h2v1h-2zM14 17h1v1h-1zM26 17h1v1h-1zM28 17h2v1h-2z"/><path fill="#71c1a0" d="M27 5h1v1h-1zM26 10h1v1h-1zM17 12h1v1h-1zM6 13h1v1h-1zM19 13h1v1h-1zM22 13h1v1h-1zM7 14h1v1h-1z"/><path fill="#4c4a9f" d="M0 6h1v1h-1z"/><path fill="#72c08b" d="M26 7h1v1h-1zM26 8h1v1h-1zM26 9h1v1h-1zM16 11h1v1h-1zM20 13h1v1h-1z"/><path fill="#66c4d8" d="M27 7h1v1h-1zM27 8h1v1h-1zM27 9h1v1h-1zM27 10h1v1h-1zM16 12h1v1h-1zM17 13h1v1h-1zM24 13h1v1h-1zM20 14h2v1h-2zM8 15h1v1h-1z"/><path fill="#2456a6" d="M4 12h1v1h-1zM20 15h2v1h-2zM8 16h1v1h-1zM11 16h1v1h-1z"/></g>
<circle cx="292.2" cy="105.2" r="57.7" fill="none" stroke="#231815" stroke-width="3" stroke-dasharray="8.6 4.4"/>
<circle cx="209.6" cy="300.6" r="58" fill="none" stroke="#000" stroke-width="3" stroke-dasharray="8.6 4.4"/>
<circle cx="328.1" cy="300.6" r="58" fill="none" stroke="#000" stroke-width="3" stroke-dasharray="8.6 4.4"/>
<circle cx="583.9" cy="300.6" r="58" fill="none" stroke="#000" stroke-width="3" stroke-dasharray="8.6 4.4"/>
<circle cx="701.9" cy="300.6" r="58" fill="none" stroke="#000" stroke-width="3" stroke-dasharray="8.6 4.4"/>
<circle cx="98.1" cy="494.5" r="58" fill="none" stroke="#000" stroke-width="3" stroke-dasharray="8.6 4.4"/>
<circle cx="195.4" cy="494.5" r="58" fill="none" stroke="#000" stroke-width="3" stroke-dasharray="8.6 4.4"/>
<circle cx="401.6" cy="494.5" r="58" fill="none" stroke="#000" stroke-width="3" stroke-dasharray="8.6 4.4"/>
<circle cx="499.4" cy="494.5" r="58" fill="none" stroke="#000" stroke-width="3" stroke-dasharray="8.6 4.4"/>
<circle cx="707.1" cy="494.5" r="58" fill="none" stroke="#000" stroke-width="3" stroke-dasharray="8.6 4.4"/>
<circle cx="804.6" cy="494.5" r="58" fill="none" stroke="#000" stroke-width="3" stroke-dasharray="8.6 4.4"/>
<rect x="207" y="297.7" width="119.3" height="6" fill="#231815"/>
<rect x="96.7" y="495" width="102.8" height="6" fill="#231815"/>
<text x="200.5" y="285.2" font-size="27.6">2a<tspan dy="9.94" font-size="18.77">0</tspan><tspan dy="-9.94">​</tspan></text>
<text x="71" y="483.2" font-size="27.6">√3a<tspan dy="9.94" font-size="18.77">0</tspan><tspan dy="-9.94">​</tspan></text>
<text x="201.2" y="41.6" font-size="42" font-weight="bold" fill="#fff">a</text>
<text x="512.6" y="41.6" font-size="42" font-weight="bold" fill="#fff">b</text>
<text x="117.8" y="263.2" font-size="42" font-weight="bold" fill="#fff">d</text>
<text x="491.6" y="263.2" font-size="42" font-weight="bold" fill="#fff">e</text>
<text x="11.2" y="452.8" font-size="42" font-weight="bold" fill="#fff">g</text>
<text x="316.8" y="452.8" font-size="42" font-weight="bold" fill="#fff">h</text>
<text x="618.6" y="452.8" font-size="42" font-weight="bold" fill="#fff">i</text>
<defs><linearGradient id="cb" x1="0" x2="1" y1="0" y2="0"><stop offset="0" stop-color="#5b4a9e"/><stop offset="0.05" stop-color="#3d4aa0"/><stop offset="0.1" stop-color="#1f4a9e"/><stop offset="0.2" stop-color="#2456a6"/><stop offset="0.25" stop-color="#2f86c8"/><stop offset="0.285" stop-color="#25b6ec"/><stop offset="0.33" stop-color="#6ec6d6"/><stop offset="0.42" stop-color="#72c090"/><stop offset="0.52" stop-color="#6cb92d"/><stop offset="0.6" stop-color="#6cb92d"/><stop offset="0.7" stop-color="#a6cc2e"/><stop offset="0.79" stop-color="#f3e629"/><stop offset="0.86" stop-color="#f5a21a"/><stop offset="0.93" stop-color="#ea5b1c"/><stop offset="1" stop-color="#e6201c"/></linearGradient></defs>
<rect x="1.3" y="606.2" width="895.2" height="26.3" fill="url(#cb)"/>
<text x="7.5" y="629.3" font-size="27" fill="#fff">Min.</text>
<text x="891.5" y="629.3" font-size="27" text-anchor="end" fill="#fff">Max.</text>
</g>
<g id="spectra">
<rect x="1133.2" y="8.9" width="6" height="202.4" fill="#b4b4d8"/>
<rect x="1121.2" y="211.3" width="6" height="202.5" fill="#b4b4d8"/>
<rect x="1094.5" y="413.8" width="6" height="203.6" fill="#b4b4d8"/>
<rect x="1162" y="413.8" width="6" height="203.6" fill="#b4b4d8"/>
<path d="M964.54 211.3v-10M993.17 211.3v-10M1021.8 211.3v-17M1050.43 211.3v-10M1079.06 211.3v-10M1107.69 211.3v-10M1136.32 211.3v-10M1164.95 211.3v-17M1193.58 211.3v-10M1222.21 211.3v-10M1250.84 211.3v-10M1279.47 211.3v-10M1308.1 211.3v-17M1336.73 211.3v-10M1365.36 211.3v-10" stroke="#000" stroke-width="2" fill="none"/>
<path d="M964.54 413.8v-10M993.17 413.8v-10M1021.8 413.8v-17M1050.43 413.8v-10M1079.06 413.8v-10M1107.69 413.8v-10M1136.32 413.8v-10M1164.95 413.8v-17M1193.58 413.8v-10M1222.21 413.8v-10M1250.84 413.8v-10M1279.47 413.8v-10M1308.1 413.8v-17M1336.73 413.8v-10M1365.36 413.8v-10" stroke="#000" stroke-width="2" fill="none"/>
<path d="M964.54 617.4v-10M993.17 617.4v-10M1021.8 617.4v-17M1050.43 617.4v-10M1079.06 617.4v-10M1107.69 617.4v-10M1136.32 617.4v-10M1164.95 617.4v-17M1193.58 617.4v-10M1222.21 617.4v-10M1250.84 617.4v-10M1279.47 617.4v-10M1308.1 617.4v-17M1336.73 617.4v-10M1365.36 617.4v-10" stroke="#000" stroke-width="2" fill="none"/>
<path d="M962.5 146.2L965.5 145.6L968.5 145.5L971.5 143.8L974.5 143.1L977.5 142.7L980.5 141.3L983.5 141.3L986.5 140.9L989.5 140.7L992.5 138.9L995.5 138.7L998.5 137.8L1001.5 138.4L1004.5 137.4L1007.5 135.5L1010.5 136.4L1013.5 135.6L1016.5 134.3L1019.5 133.2L1022.5 131.1L1025.5 129.7L1028.5 129.4L1031.5 127.8L1034.5 127.9L1037.5 127.7L1040.5 127L1043.5 126.9L1046.5 125.9L1049.5 125.8L1052.5 123.8L1055.5 122.5L1058.5 120.7L1061.5 119.3L1064.5 116.9L1067.5 114.6L1070.5 114.2L1073.5 112.5L1076.5 110.6L1079.5 108.7L1082.5 106.3L1085.5 104.5L1088.5 103L1091.5 101L1094.5 99.5L1097.5 95.6L1100.5 93.1L1103.5 88.9L1106.5 87.5L1109.5 85.6L1112.5 82.4L1115.5 81.1L1118.5 80.3L1121.5 76.8L1124.5 75.1L1127.5 68.6L1130.5 62.5L1133.5 60.5L1136.5 60.9L1139.5 62.3L1142.5 68L1145.5 76.2L1148.5 88.8L1151.5 105L1154.5 121.3L1157.5 139.5L1160.5 152.8L1163.5 164L1166.5 172L1169.5 174.7L1172.5 177.7L1175.5 179.4L1178.5 178.8L1181.5 179.7L1184.5 179L1187.5 180.5L1190.5 180.2L1193.5 180.4L1196.5 178.1L1199.5 176.2L1202.5 173.3L1205.5 168.5L1208.5 161.6L1211.5 153.7L1214.5 141.5L1217.5 129.8L1220.5 119.6L1223.5 110.9L1226.5 108.2L1229.5 108.6L1232.5 107.7L1235.5 108.7L1238.5 110.5L1241.5 109.2L1244.5 107.1L1247.5 104.7L1250.5 103.1L1253.5 104.8L1256.5 104.9L1259.5 106.3L1262.5 103.5L1265.5 100.7L1268.5 98.1L1271.5 92.7L1274.5 88.4L1277.5 84.2L1280.5 78.7L1283.5 77.3L1286.5 77.3L1289.5 75.8L1292.5 74.7L1295.5 76L1298.5 78.5L1301.5 79.7L1304.5 78.7L1307.5 80.3L1310.5 80.5L1313.5 80L1316.5 79.2L1319.5 78.2L1322.5 77.6L1325.5 79.1L1328.5 79.1L1331.5 81.4L1334.5 81.9L1337.5 84.3L1340.5 84.5L1343.5 84.6L1346.5 85L1349.5 86.5L1352.5 86.1L1355.5 87.1L1358.5 88.5L1361.5 88.8L1364.5 87.3L1367 86.2" fill="none" stroke="#000" stroke-width="2.3" stroke-linejoin="round"/>
<path d="M962.5 348.7L965.5 347.8L968.5 346.6L971.5 344.5L974.5 343.1L977.5 343.5L980.5 343.3L983.5 344.3L986.5 344.1L989.5 343.8L992.5 343.6L995.5 343.6L998.5 342.5L1001.5 342.3L1004.5 340.7L1007.5 340.8L1010.5 338.2L1013.5 338.4L1016.5 335.9L1019.5 336.2L1022.5 334.9L1025.5 334.4L1028.5 334.5L1031.5 332.4L1034.5 331.8L1037.5 331.6L1040.5 328.8L1043.5 326.1L1046.5 325.7L1049.5 323.6L1052.5 320.6L1055.5 319.6L1058.5 317.6L1061.5 316.4L1064.5 315.5L1067.5 313.1L1070.5 309.6L1073.5 303.9L1076.5 299.7L1079.5 296.3L1082.5 291.4L1085.5 287.3L1088.5 283.5L1091.5 280.2L1094.5 278L1097.5 275.4L1100.5 275.2L1103.5 274.1L1106.5 272.6L1109.5 267.9L1112.5 261.8L1115.5 255.9L1118.5 248L1121.5 240L1124.5 235.6L1127.5 239.3L1130.5 247.6L1133.5 259.1L1136.5 272.7L1139.5 285.3L1142.5 297.7L1145.5 312.3L1148.5 319.4L1151.5 325.5L1154.5 333L1157.5 342.4L1160.5 351.8L1163.5 364.5L1166.5 374.5L1169.5 385.8L1172.5 392.5L1175.5 399.5L1178.5 400.5L1181.5 401.2L1184.5 399.5L1187.5 395.9L1190.5 390.3L1193.5 385L1196.5 377.9L1199.5 372.5L1202.5 367.9L1205.5 364L1208.5 359.6L1211.5 357L1214.5 350.4L1217.5 345.8L1220.5 335.3L1223.5 322.9L1226.5 315.7L1229.5 311.5L1232.5 310.4L1235.5 312.3L1238.5 314.2L1241.5 313.5L1244.5 313.3L1247.5 311.6L1250.5 308.7L1253.5 305.4L1256.5 299L1259.5 292.1L1262.5 284.2L1265.5 276.3L1268.5 270.7L1271.5 267L1274.5 262.6L1277.5 259.8L1280.5 257.1L1283.5 255.7L1286.5 253.9L1289.5 252.5L1292.5 251.7L1295.5 255.1L1298.5 257.1L1301.5 258L1304.5 260.5L1307.5 263.8L1310.5 264.7L1313.5 266.5L1316.5 266.3L1319.5 267.3L1322.5 267.9L1325.5 267.6L1328.5 268.1L1331.5 268.4L1334.5 269.6L1337.5 270L1340.5 269.4L1343.5 271.4L1346.5 271.2L1349.5 271.4L1352.5 272.4L1355.5 274L1358.5 273.8L1361.5 274.6L1364.5 275.7L1367 275.5" fill="none" stroke="#000" stroke-width="2.3" stroke-linejoin="round"/>
<path d="M962.5 551.6L965.5 550.6L968.5 548.9L971.5 547.5L974.5 544.7L977.5 543.3L980.5 541.6L983.5 540.3L986.5 539.7L989.5 537.1L992.5 536.3L995.5 534.2L998.5 532.9L1001.5 532.6L1004.5 533.8L1007.5 533.9L1010.5 533.3L1013.5 533.9L1016.5 533.2L1019.5 534L1022.5 533.5L1025.5 532.7L1028.5 530.8L1031.5 528.8L1034.5 527.2L1037.5 525L1040.5 522.1L1043.5 521.4L1046.5 519.2L1049.5 518.2L1052.5 516.4L1055.5 514.6L1058.5 512.6L1061.5 510.8L1064.5 508.7L1067.5 505.2L1070.5 503.1L1073.5 499.7L1076.5 496.1L1079.5 491.1L1082.5 486.3L1085.5 482.4L1088.5 477.8L1091.5 475.2L1094.5 472.6L1097.5 470.6L1100.5 470.9L1103.5 473L1106.5 476.6L1109.5 483.4L1112.5 490.2L1115.5 497.8L1118.5 505.3L1121.5 514L1124.5 521.5L1127.5 529.5L1130.5 534L1133.5 538.8L1136.5 541.1L1139.5 543.3L1142.5 542.3L1145.5 535.9L1148.5 528.9L1151.5 517.3L1154.5 502.7L1157.5 489.4L1160.5 477.6L1163.5 469.2L1166.5 469.4L1169.5 475.3L1172.5 489.2L1175.5 509.7L1178.5 533.7L1181.5 552L1184.5 566L1187.5 573.5L1190.5 573.4L1193.5 570.8L1196.5 566.9L1199.5 566L1202.5 564.4L1205.5 565.6L1208.5 565.6L1211.5 564.3L1214.5 561.8L1217.5 555.9L1220.5 548.9L1223.5 545.1L1226.5 541L1229.5 541.8L1232.5 542.4L1235.5 541.3L1238.5 538.2L1241.5 531.1L1244.5 523L1247.5 513.6L1250.5 502.4L1253.5 493.4L1256.5 487.5L1259.5 483.2L1262.5 480.1L1265.5 477.2L1268.5 474.2L1271.5 472.5L1274.5 467.4L1277.5 463.8L1280.5 459.8L1283.5 457.1L1286.5 454.2L1289.5 453.1L1292.5 451L1295.5 451.3L1298.5 449.2L1301.5 449.2L1304.5 449.9L1307.5 451.7L1310.5 451.9L1313.5 453.2L1316.5 455.6L1319.5 457L1322.5 458.7L1325.5 461.4L1328.5 463L1331.5 463.6L1334.5 463.7L1337.5 465.3L1340.5 465.7L1343.5 464.8L1346.5 465.5L1349.5 465.2L1352.5 465.9L1355.5 466.9L1358.5 467.7L1361.5 469L1364.5 469.5L1367 471.2" fill="none" stroke="#000" stroke-width="2.3" stroke-linejoin="round"/>
<path d="M961.5 8.9H1367" stroke="#000" stroke-width="2.2" fill="none"/>
<path d="M962.5 7.9V618.4" stroke="#000" stroke-width="2.4" fill="none"/>
<path d="M1367 8.9V617.4" stroke="#222" stroke-width="1.5" fill="none"/>
<path d="M962.5 211.3H1367" stroke="#000" stroke-width="2.6" fill="none"/>
<path d="M962.5 413.8H1367" stroke="#000" stroke-width="2.6" fill="none"/>
<path d="M961.5 617.4H1367.5" stroke="#000" stroke-width="2.2" fill="none"/>
<path d="M1127.1 26.5L1145.3 26.5L1136.2 41.5z" fill="none" stroke="#231815" stroke-width="3" stroke-linejoin="miter"/>
<path d="M1217.9 82.7L1236.1 82.7L1227 97.7z" fill="none" stroke="#ff0000" stroke-width="3" stroke-linejoin="miter"/>
<path d="M1278.4 51L1296.6 51L1287.5 66z" fill="none" stroke="#0000ff" stroke-width="3" stroke-linejoin="miter"/>
<path d="M1114.1 214.7L1132.3 214.7L1123.2 229.7z" fill="none" stroke="#231815" stroke-width="3" stroke-linejoin="miter"/>
<path d="M1277.9 225.7L1296.1 225.7L1287 240.7z" fill="none" stroke="#0000ff" stroke-width="3" stroke-linejoin="miter"/>
<path d="M1217.9 286L1236.1 286L1227 301z" fill="none" stroke="#ff0000" stroke-width="3" stroke-linejoin="miter"/>
<path d="M1188.4 339L1206.6 339L1197.5 354z" fill="none" stroke="#ff0000" stroke-width="3" stroke-linejoin="miter"/>
<path d="M1088.9 439.5L1107.1 439.5L1098 454.5z" fill="none" stroke="#231815" stroke-width="3" stroke-linejoin="miter"/>
<path d="M1155.9 439.5L1174.1 439.5L1165 454.5z" fill="none" stroke="#231815" stroke-width="3" stroke-linejoin="miter"/>
<path d="M1287.6 424L1305.8 424L1296.7 439z" fill="none" stroke="#0000ff" stroke-width="3" stroke-linejoin="miter"/>
<path d="M1212.9 516.5L1231.1 516.5L1222 531.5z" fill="none" stroke="#ff0000" stroke-width="3" stroke-linejoin="miter"/>
<path d="M1188.4 539L1206.6 539L1197.5 554z" fill="none" stroke="#ff0000" stroke-width="3" stroke-linejoin="miter"/>
<text x="1332.5" y="49.5" font-size="42" font-weight="bold">c</text>
<text x="1337" y="248" font-size="42" font-weight="bold">f</text>
<text x="1337.5" y="446.5" font-size="42" font-weight="bold">j</text>
<text x="1021.8" y="651.2" font-size="24.5" text-anchor="middle">1</text>
<text x="1164.95" y="651.2" font-size="24.5" text-anchor="middle">1.5</text>
<text x="1308.1" y="651.2" font-size="24.5" text-anchor="middle">2</text>
<text x="1158.7" y="686" font-size="24.5" text-anchor="middle">Bias (V)</text>
<text transform="translate(940.3 314) rotate(-90)" font-size="24.9" text-anchor="middle">Normalized dI/dV (a.u.)</text>
</g>
<g id="levels">
<path d="M1557.09 192.17H1615.56M1557.09 335.98H1615.56M1629.78 169.1H1688.26M1629.78 212.08H1688.26M1629.78 290.47H1688.26M1629.78 307.85H1688.26M1629.78 364.65H1688.26M1629.78 386.15H1688.26M1702.48 153.3H1761.27M1702.48 206.4H1761.27M1702.48 301.22H1761.27M1702.48 338.83H1761.27M1702.48 378.24H1761.27M1702.48 393.73H1761.27" stroke="#0000ff" stroke-width="2.6" fill="none"/>
<path d="M1811.84 157.09H1870.95M1811.84 263.29H1870.95M1811.84 534.38H1870.95M1885.17 118.84H1943.64M1885.17 196.6H1943.64M1885.17 207.66H1943.64M1885.17 317.97H1943.64M1885.17 529.96H1943.64M1885.17 562.51H1943.64M1957.87 132.12H2016.34M1957.87 172.26H2016.34M1957.87 264.87H2016.34M1957.87 303.75H2016.34M1957.87 508.15H2016.34M1957.87 596.97H2016.34" stroke="#ff0000" stroke-width="2.6" fill="none"/>
<path d="M1786.56 45.8V637.2" stroke="#000" stroke-width="1.2" stroke-dasharray="13 5" fill="none"/>
<rect x="1528" y="42.8" width="517.4" height="594.4" fill="none" stroke="#000" stroke-width="3.2"/>
<path d="M1528 117.58h16M2045.4 117.58h-16M1528 266.13h16M2045.4 266.13h-16M1528 414.91h16M2045.4 414.91h-16M1528 562.83h16M2045.4 562.83h-16" stroke="#000" stroke-width="3.2" fill="none"/>
<text x="1514" y="124.98" font-size="30.3" text-anchor="end">1.9</text>
<text x="1514" y="273.53" font-size="30.3" text-anchor="end">1.7</text>
<text x="1514" y="422.31" font-size="30.3" text-anchor="end">1.5</text>
<text x="1514" y="570.23" font-size="30.3" text-anchor="end">1.3</text>
<text transform="translate(1446 317.3) rotate(-90)" font-size="29.7" text-anchor="middle">Energy (eV)</text>
<text x="1656.33" y="29.9" font-size="25" text-anchor="middle">Without SOC</text>
<text x="1916.78" y="29.9" font-size="25" text-anchor="middle">With SOC</text>
<text x="1656.33" y="68.3" font-size="25" text-anchor="middle">Dimer</text>
<text x="1916.78" y="68.3" font-size="25" text-anchor="middle">Dimer</text>
<text x="1662.97" y="101.2" font-size="24.5" text-anchor="middle">2a<tspan dy="8.57" font-size="16.17">0</tspan><tspan dy="-8.57">​</tspan></text>
<text x="1914.25" y="101.2" font-size="24.5" text-anchor="middle">2a<tspan dy="8.57" font-size="16.17">0</tspan><tspan dy="-8.57">​</tspan></text>
<text x="1739.78" y="101.2" font-size="24.5" text-anchor="middle">√3a<tspan dy="8.57" font-size="16.17">0</tspan><tspan dy="-8.57">​</tspan></text>
<text x="1996.43" y="101.2" font-size="24.5" text-anchor="middle">√3a<tspan dy="8.57" font-size="16.17">0</tspan><tspan dy="-8.57">​</tspan></text>
<text x="1410.6" y="22.2" font-size="42" font-weight="bold">w</text>
<text x="1587.11" y="177" font-size="24.5" text-anchor="middle" font-style="italic">p<tspan dy="8.57" font-size="16.17">z</tspan><tspan dy="-8.57">​</tspan></text>
<text x="1586.48" y="355.49" font-size="24.5" text-anchor="middle" font-style="italic">p<tspan dy="8.57" font-size="16.17">xy</tspan><tspan dy="-8.57">​</tspan></text>
<text x="1658.55" y="154.88" font-size="24.5" text-anchor="middle">π<tspan dy="8.57" font-size="16.17">B</tspan><tspan dy="-8.57">​</tspan></text>
<text x="1658.55" y="229.47" font-size="24.5" text-anchor="middle">π<tspan dy="8.57" font-size="16.17">A</tspan><tspan dy="-8.57">​</tspan></text>
<text x="1658.55" y="276.25" font-size="24.5" text-anchor="middle">π<tspan dy="8.57" font-size="16.17">A</tspan><tspan dy="-8.57">​</tspan></text>
<text x="1658.55" y="327.13" font-size="24.5" text-anchor="middle">σ<tspan dy="8.57" font-size="16.17">A</tspan><tspan dy="-8.57">​</tspan></text>
<text x="1658.55" y="353.28" font-size="24.5" text-anchor="middle">σ<tspan dy="8.57" font-size="16.17">B</tspan><tspan dy="-8.57">​</tspan></text>
<text x="1658.55" y="403.21" font-size="24.5" text-anchor="middle">π<tspan dy="8.57" font-size="16.17">B</tspan><tspan dy="-8.57">​</tspan></text>
<text x="1730.3" y="139.7" font-size="24.5" text-anchor="middle">π<tspan dy="8.57" font-size="16.17">B</tspan><tspan dy="-8.57">​</tspan></text>
<text x="1730.3" y="225.36" font-size="24.5" text-anchor="middle">π<tspan dy="8.57" font-size="16.17">A</tspan><tspan dy="-8.57">​</tspan></text>
<text x="1730.3" y="286.99" font-size="24.5" text-anchor="middle">π<tspan dy="8.57" font-size="16.17">A</tspan><tspan dy="-8.57">​</tspan></text>
<text x="1728.72" y="325.55" font-size="24.5" text-anchor="middle">σ<tspan dy="8.57" font-size="16.17">B</tspan><tspan dy="-8.57">​</tspan></text>
<text x="1730.3" y="365.29" font-size="24.5" text-anchor="middle">π<tspan dy="8.57" font-size="16.17">B</tspan><tspan dy="-8.57">​</tspan></text>
<text x="1728.72" y="413.33" font-size="24.5" text-anchor="middle">σ<tspan dy="8.57" font-size="16.17">A</tspan><tspan dy="-8.57">​</tspan></text>
<text x="1912.67" y="138.44" font-size="24.5" text-anchor="middle" font-style="italic">u</text>
<text x="1912.67" y="179.21" font-size="24.5" text-anchor="middle" font-style="italic">g</text>
<text x="1911.4" y="226.31" font-size="24.5" text-anchor="middle" font-style="italic">u</text>
<text x="1912.67" y="335.04" font-size="24.5" text-anchor="middle" font-style="italic">g</text>
<text x="1913.3" y="519.53" font-size="24.5" text-anchor="middle" font-style="italic">u</text>
<text x="1912.67" y="580.85" font-size="24.5" text-anchor="middle" font-style="italic">g</text>
<text x="1984.73" y="248.12" font-size="24.5" text-anchor="middle" font-style="italic">g</text>
<text x="1984.73" y="323.03" font-size="24.5" text-anchor="middle" font-style="italic">u</text>
<text x="1985.37" y="497.4" font-size="24.5" text-anchor="middle" font-style="italic">u</text>
<text x="1984.1" y="614.98" font-size="24.5" text-anchor="middle" font-style="italic">g</text>
<path d="M1797.94 171.95V228.95" stroke="#000" stroke-width="1.7" fill="none"/><text x="1810.24" y="192.25" font-size="24.8" text-anchor="middle">3</text><path d="M1803.24 200.45H1817.24" stroke="#000" stroke-width="1.5"/><text x="1810.24" y="224.65" font-size="24.8" text-anchor="middle">2</text><text x="1820.74" y="202.95" font-size="24.8">,</text><text x="1841.44" y="203.45" font-size="23" text-anchor="middle">±</text><text x="1860.24" y="192.25" font-size="24.8" text-anchor="middle">1</text><path d="M1853.24 200.45H1867.24" stroke="#000" stroke-width="1.5"/><text x="1860.24" y="224.65" font-size="24.8" text-anchor="middle">2</text><path d="M1872.74 167.95L1878.94 200.45L1872.74 232.95" stroke="#000" stroke-width="1.6" fill="none"/>
<path d="M1797.94 275.63V332.63" stroke="#000" stroke-width="1.7" fill="none"/><text x="1810.24" y="295.93" font-size="24.8" text-anchor="middle">3</text><path d="M1803.24 304.13H1817.24" stroke="#000" stroke-width="1.5"/><text x="1810.24" y="328.33" font-size="24.8" text-anchor="middle">2</text><text x="1820.74" y="306.63" font-size="24.8">,</text><text x="1841.44" y="307.13" font-size="23" text-anchor="middle">±</text><text x="1860.24" y="295.93" font-size="24.8" text-anchor="middle">3</text><path d="M1853.24 304.13H1867.24" stroke="#000" stroke-width="1.5"/><text x="1860.24" y="328.33" font-size="24.8" text-anchor="middle">2</text><path d="M1872.74 271.63L1878.94 304.13L1872.74 336.63" stroke="#000" stroke-width="1.6" fill="none"/>
<path d="M1797.94 464.54V521.54" stroke="#000" stroke-width="1.7" fill="none"/><text x="1810.24" y="484.84" font-size="24.8" text-anchor="middle">1</text><path d="M1803.24 493.04H1817.24" stroke="#000" stroke-width="1.5"/><text x="1810.24" y="517.24" font-size="24.8" text-anchor="middle">2</text><text x="1820.74" y="495.54" font-size="24.8">,</text><text x="1841.44" y="496.04" font-size="23" text-anchor="middle">±</text><text x="1860.24" y="484.84" font-size="24.8" text-anchor="middle">1</text><path d="M1853.24 493.04H1867.24" stroke="#000" stroke-width="1.5"/><text x="1860.24" y="517.24" font-size="24.8" text-anchor="middle">2</text><path d="M1872.74 460.54L1878.94 493.04L1872.74 525.54" stroke="#000" stroke-width="1.6" fill="none"/>
</g>
<g id="atoms">
<defs><radialGradient id="gO" cx="0.5" cy="0.5" r="0.5"><stop offset="0" stop-color="#ffffe0"/><stop offset="0.12" stop-color="#fff26a"/><stop offset="0.32" stop-color="#f5a01e"/><stop offset="0.6" stop-color="#e48212"/><stop offset="0.88" stop-color="#ca700e"/><stop offset="1" stop-color="#96540c"/></radialGradient><radialGradient id="gG" cx="0.5" cy="0.5" r="0.5"><stop offset="0" stop-color="#eaffea"/><stop offset="0.13" stop-color="#aef5ae"/><stop offset="0.36" stop-color="#2c962c"/><stop offset="0.68" stop-color="#13741a"/><stop offset="1" stop-color="#0a5410"/></radialGradient><radialGradient id="gP" cx="0.5" cy="0.5" r="0.5"><stop offset="0" stop-color="#ffffff"/><stop offset="0.11" stop-color="#f4f4f6"/><stop offset="0.3" stop-color="#8e8e94"/><stop offset="0.58" stop-color="#5e5e66"/><stop offset="1" stop-color="#44444e"/></radialGradient><filter id="b2" filterUnits="userSpaceOnUse" x="330" y="700" width="600" height="660"><feGaussianBlur stdDeviation="2.2"/></filter><filter id="b3" filterUnits="userSpaceOnUse" x="330" y="700" width="600" height="660"><feGaussianBlur stdDeviation="3.2"/></filter><filter id="b4" filterUnits="userSpaceOnUse" x="330" y="700" width="600" height="660"><feGaussianBlur stdDeviation="4.2"/></filter><filter id="b5" filterUnits="userSpaceOnUse" x="330" y="700" width="600" height="660"><feGaussianBlur stdDeviation="5.5"/></filter><filter id="b6" filterUnits="userSpaceOnUse" x="330" y="700" width="600" height="660"><feGaussianBlur stdDeviation="6.3"/></filter><filter id="m1" filterUnits="userSpaceOnUse" x="330" y="700" width="600" height="660" color-interpolation-filters="sRGB"><feColorMatrix type="matrix" values="0 0 0 1 0 0 0 0 1 0 0 0 0 1 0 0 0 0 1 0"/><feComponentTransfer><feFuncR type="table" tableValues="0.157 0.157 0.157 0.157 0.157 0.157 0.157 0.157 0.157 0.157 0.157 0.149 0.141 0.133 0.125 0.118 0.11 0.102 0.094 0.086 0.078 0.069 0.059 0.049 0.039 0.029 0.02 0.01 0 0 0 0 0 0 0 0 0 0 0 0 0 0 0 0 0 0 0.008 0.016 0.024 0.031 0.039 0.047 0.055 0.063 0.071 0.078 0.098 0.118 0.137 0.157 0.176 0.196 0.216 0.235 0.255 0.275 0.344 0.414 0.484 0.553 0.623 0.693 0.763 0.832 0.902 0.918 0.935 0.951 0.967 0.984 1 1 1 1 1 1 1 1 1 1 1 1 1 1 1 1 1 1 1 1 1"/><feFuncG type="table" tableValues="0.353 0.353 0.353 0.353 0.353 0.353 0.353 0.353 0.353 0.353 0.353 0.363 0.373 0.382 0.392 0.402 0.412 0.422 0.431 0.441 0.451 0.478 0.505 0.532 0.559 0.586 0.613 0.64 0.667 0.709 0.751 0.793 0.835 0.877 0.919 0.961 0.965 0.969 0.973 0.976 0.98 0.984 0.988 0.992 0.996 1 0.996 0.992 0.988 0.984 0.98 0.976 0.973 0.969 0.965 0.961 0.963 0.965 0.967 0.969 0.971 0.973 0.975 0.976 0.978 0.98 0.983 0.985 0.987 0.989 0.991 0.993 0.996 0.998 1 0.987 0.974 0.961 0.948 0.935 0.922 0.831 0.741 0.651 0.561 0.471 0.34 0.209 0.078 0.078 0.078 0.078 0.078 0.078 0.078 0.078 0.078 0.078 0.078 0.078 0.078"/><feFuncB type="table" tableValues="1 1 1 1 1 1 1 1 1 1 1 1 1 1 1 1 1 1 1 1 1 1 1 1 1 1 1 1 1 1 1 1 1 1 1 1 0.951 0.902 0.853 0.804 0.755 0.706 0.657 0.608 0.559 0.51 0.467 0.424 0.38 0.337 0.294 0.251 0.208 0.165 0.122 0.078 0.071 0.063 0.055 0.047 0.039 0.031 0.024 0.016 0.008 0 0 0 0 0 0 0 0 0 0 0 0 0 0 0 0 0 0 0 0 0 0.026 0.052 0.078 0.078 0.078 0.078 0.078 0.078 0.078 0.078 0.078 0.078 0.078 0.078 0.078"/><feFuncA type="table" tableValues="0 0 0 0 0 0 0 0 0 0.5 1 1 1 1 1 1 1 1 1 1 1 1 1 1 1 1 1 1 1 1 1 1 1 1 1 1 1 1 1 1 1 1 1 1 1 1 1 1 1 1 1 1 1 1 1 1 1 1 1 1 1 1 1 1 1 1 1 1 1 1 1 1 1 1 1 1 1 1 1 1 1 1 1 1 1 1 1 1 1 1 1 1 1 1 1 1 1 1 1 1 1"/></feComponentTransfer></filter><filter id="m2" filterUnits="userSpaceOnUse" x="330" y="700" width="600" height="660" color-interpolation-filters="sRGB"><feColorMatrix type="matrix" values="0 0 0 1 0 0 0 0 1 0 0 0 0 1 0 0 0 0 1 0"/><feComponentTransfer><feFuncR type="table" tableValues="0.047 0.047 0.047 0.047 0.047 0.047 0.047 0.047 0.047 0.047 0.047 0.047 0.047 0.047 0.047 0.047 0.047 0.047 0.047 0.047 0.047 0.047 0.047 0.047 0.047 0.047 0.047 0.047 0.047 0.047 0.047 0.047 0.047 0.047 0.047 0.047 0.047 0.047 0.047 0.047 0.047 0.039 0.031 0.024 0.016 0.008 0.005 0.002 0 0 0 0 0 0 0 0.02 0.039 0.059 0.078 0.098 0.118 0.227 0.337 0.447 0.557 0.667 0.733 0.8 0.867 0.933 1 1 1 1 1 1 1 1 1 1 1 1 1 1 1 1 1 1 1 1 1 1 1 1 1 1 1 1 1 1 1"/><feFuncG type="table" tableValues="0.047 0.047 0.047 0.047 0.047 0.047 0.047 0.047 0.047 0.047 0.047 0.047 0.047 0.047 0.047 0.047 0.047 0.047 0.047 0.047 0.047 0.047 0.047 0.047 0.047 0.047 0.047 0.047 0.047 0.047 0.047 0.047 0.047 0.047 0.047 0.047 0.047 0.047 0.047 0.047 0.047 0.11 0.173 0.251 0.329 0.408 0.527 0.646 0.784 0.941 0.953 0.965 0.976 0.988 1 0.99 0.98 0.971 0.961 0.951 0.941 0.949 0.957 0.965 0.973 0.98 0.973 0.965 0.957 0.949 0.941 0.797 0.654 0.51 0.366 0.222 0.078 0.078 0.078 0.078 0.078 0.078 0.078 0.078 0.078 0.078 0.078 0.078 0.078 0.078 0.078 0.078 0.078 0.078 0.078 0.078 0.078 0.078 0.078 0.078 0.078"/><feFuncB type="table" tableValues="1 1 1 1 1 1 1 1 1 1 1 1 1 1 1 1 1 1 1 1 1 1 1 1 1 1 1 1 1 1 1 1 1 1 1 1 1 1 1 1 1 1 1 1 1 1 1 1 1 1 0.91 0.82 0.729 0.639 0.549 0.471 0.392 0.314 0.235 0.157 0.078 0.063 0.047 0.031 0.016 0 0 0 0 0 0 0 0 0 0.013 0.026 0.039 0.039 0.039 0.039 0.039 0.039 0.039 0.039 0.039 0.039 0.039 0.039 0.039 0.039 0.039 0.039 0.039 0.039 0.039 0.039 0.039 0.039 0.039 0.039 0.039"/><feFuncA type="table" tableValues="0 0 0 0 0 0 0 0 0 0.5 1 1 1 1 1 1 1 1 1 1 1 1 1 1 1 1 1 1 1 1 1 1 1 1 1 1 1 1 1 1 1 1 1 1 1 1 1 1 1 1 1 1 1 1 1 1 1 1 1 1 1 1 1 1 1 1 1 1 1 1 1 1 1 1 1 1 1 1 1 1 1 1 1 1 1 1 1 1 1 1 1 1 1 1 1 1 1 1 1 1 1"/></feComponentTransfer></filter></defs>
<clipPath id="cp1"><rect x="0.5" y="729.7" width="316" height="175.7"/></clipPath><g clip-path="url(#cp1)"><path d="M-23.5 831.7L2.4 846.6M-23.5 801.7L2.4 786.8M2.4 876.6L2.4 846.6M28.4 891.5L54.3 876.6M2.4 756.8L2.4 786.8M28.4 741.9L54.3 756.8M54.3 786.8L54.3 756.8M54.3 846.6L54.3 876.6M80.2 831.7L106.2 846.6M28.4 831.7L2.4 846.6M80.2 801.7L106.2 786.8M28.4 801.7L2.4 786.8M106.2 876.6L106.2 846.6M132.1 891.5L158 876.6M80.2 891.5L54.3 876.6M106.2 756.8L106.2 786.8M132.1 741.9L158 756.8M80.2 741.9L54.3 756.8M158 786.8L158 756.8M158 846.6L158 876.6M183.9 831.7L209.8 846.6M132.1 831.7L106.2 846.6M183.9 801.7L209.8 786.8M132.1 801.7L106.2 786.8M209.8 876.6L209.8 846.6M235.8 891.5L261.7 876.6M183.9 891.5L158 876.6M209.8 756.8L209.8 786.8M235.8 741.9L261.7 756.8M183.9 741.9L158 756.8M261.7 786.8L261.7 756.8M261.7 846.6L261.7 876.6M287.6 831.7L313.6 846.6M235.8 831.7L209.8 846.6M287.6 801.7L313.6 786.8M235.8 801.7L209.8 786.8M313.6 876.6L313.6 846.6M287.6 891.5L261.7 876.6M313.5 756.8L313.5 786.8M287.6 741.9L261.7 756.8M339.5 831.7L313.5 846.6M339.5 801.7L313.5 786.8" stroke="#e0881c" stroke-width="4.6" fill="none"/><path d="M2.4 906.5L2.4 876.6M2.4 906.5L2.4 936.4M2.4 906.5L28.4 921.5M2.4 906.5L-23.5 921.5M2.4 906.5L28.4 891.5M2.4 906.5L-23.5 891.5M2.4 726.9L2.4 697M2.4 726.9L2.4 756.8M2.4 726.9L28.4 741.9M2.4 726.9L-23.5 741.9M2.4 726.9L28.4 711.9M2.4 726.9L-23.5 711.9M54.3 816.7L54.3 786.8M54.3 816.7L54.3 846.6M54.3 816.7L80.2 831.7M54.3 816.7L28.4 831.7M54.3 816.7L80.2 801.7M54.3 816.7L28.4 801.7M106.2 906.5L106.2 876.6M106.2 906.5L106.2 936.4M106.2 906.5L132.1 921.5M106.2 906.5L80.2 921.5M106.2 906.5L132.1 891.5M106.2 906.5L80.2 891.5M106.2 726.9L106.2 697M106.2 726.9L106.2 756.8M106.2 726.9L132.1 741.9M106.2 726.9L80.2 741.9M106.2 726.9L132.1 711.9M106.2 726.9L80.2 711.9M158 816.7L158 786.8M158 816.7L158 846.6M158 816.7L183.9 831.7M158 816.7L132.1 831.7M158 816.7L183.9 801.7M158 816.7L132.1 801.7M209.8 906.5L209.8 876.6M209.8 906.5L209.8 936.4M209.8 906.5L235.8 921.5M209.8 906.5L183.9 921.5M209.8 906.5L235.8 891.5M209.8 906.5L183.9 891.5M209.8 726.9L209.8 697M209.8 726.9L209.8 756.8M209.8 726.9L235.8 741.9M209.8 726.9L183.9 741.9M209.8 726.9L235.8 711.9M209.8 726.9L183.9 711.9M261.7 816.7L261.7 786.8M261.7 816.7L261.7 846.6M261.7 816.7L287.6 831.7M261.7 816.7L235.8 831.7M261.7 816.7L287.6 801.7M261.7 816.7L235.8 801.7M313.6 906.5L313.6 876.6M313.6 906.5L313.6 936.4M313.6 906.5L339.5 921.5M313.6 906.5L287.6 921.5M313.6 906.5L339.5 891.5M313.6 906.5L287.6 891.5M313.5 726.9L313.5 697M313.5 726.9L313.5 756.8M313.5 726.9L339.5 741.9M313.5 726.9L287.6 741.9M313.5 726.9L339.5 711.9M313.5 726.9L287.6 711.9" stroke="#167a16" stroke-width="4.6" fill="none"/><circle cx="2.4" cy="786.8" r="14.5" fill="url(#gO)"/><circle cx="2.4" cy="846.6" r="14.5" fill="url(#gO)"/><circle cx="54.3" cy="756.8" r="14.5" fill="url(#gO)"/><circle cx="54.3" cy="876.6" r="14.5" fill="url(#gO)"/><circle cx="106.2" cy="786.8" r="14.5" fill="url(#gO)"/><circle cx="106.2" cy="846.6" r="14.5" fill="url(#gO)"/><circle cx="158" cy="756.8" r="14.5" fill="url(#gO)"/><circle cx="158" cy="876.6" r="14.5" fill="url(#gO)"/><circle cx="209.8" cy="786.8" r="14.5" fill="url(#gO)"/><circle cx="209.8" cy="846.6" r="14.5" fill="url(#gO)"/><circle cx="261.7" cy="756.8" r="14.5" fill="url(#gO)"/><circle cx="261.7" cy="876.6" r="14.5" fill="url(#gO)"/><circle cx="313.5" cy="786.8" r="14.5" fill="url(#gO)"/><circle cx="313.6" cy="846.6" r="14.5" fill="url(#gO)"/><circle cx="2.4" cy="906.5" r="14.2" fill="url(#gG)"/><circle cx="2.4" cy="726.9" r="14.2" fill="url(#gG)"/><circle cx="54.3" cy="816.7" r="14.2" fill="url(#gG)"/><circle cx="106.2" cy="906.5" r="14.2" fill="url(#gG)"/><circle cx="106.2" cy="726.9" r="14.2" fill="url(#gG)"/><circle cx="209.8" cy="906.5" r="14.2" fill="url(#gG)"/><circle cx="209.8" cy="726.9" r="14.2" fill="url(#gG)"/><circle cx="261.7" cy="816.7" r="14.2" fill="url(#gG)"/><circle cx="313.6" cy="906.5" r="14.2" fill="url(#gG)"/><circle cx="313.5" cy="726.9" r="14.2" fill="url(#gG)"/><circle cx="158" cy="816.7" r="18.5" fill="url(#gP)"/></g><rect x="0.5" y="729.7" width="316" height="175.7" fill="none" stroke="#000" stroke-width="1.4"/><text x="10.2" y="773.8" font-size="42" font-weight="bold">k</text>
<clipPath id="cp2"><rect x="0.5" y="941.4" width="316" height="175.4"/></clipPath><g clip-path="url(#cp2)"><path d="M-23.5 1045.5L2.4 1060.4M-23.5 1015.5L2.4 1000.6M2.4 1090.4L2.4 1060.4M28.4 1105.3L54.3 1090.4M2.4 970.6L2.4 1000.6M28.4 955.7L54.3 970.6M54.3 1000.6L54.3 970.6M54.3 1060.4L54.3 1090.4M80.2 1045.5L106.2 1060.4M28.4 1045.5L2.4 1060.4M80.2 1015.5L106.2 1000.6M28.4 1015.5L2.4 1000.6M106.2 1090.4L106.2 1060.4M132.1 1105.3L158 1090.4M80.2 1105.3L54.3 1090.4M106.2 970.6L106.2 1000.6M132.1 955.7L158 970.6M80.2 955.7L54.3 970.6M158 1000.6L158 970.6M158 1060.4L158 1090.4M183.9 1045.5L209.8 1060.4M132.1 1045.5L106.2 1060.4M183.9 1015.5L209.8 1000.6M132.1 1015.5L106.2 1000.6M209.8 1090.4L209.8 1060.4M235.8 1105.3L261.7 1090.4M183.9 1105.3L158 1090.4M209.8 970.6L209.8 1000.6M235.8 955.7L261.7 970.6M183.9 955.7L158 970.6M261.7 1000.6L261.7 970.6M261.7 1060.4L261.7 1090.4M287.6 1045.5L313.6 1060.4M235.8 1045.5L209.8 1060.4M287.6 1015.5L313.6 1000.6M235.8 1015.5L209.8 1000.6M313.6 1090.4L313.6 1060.4M287.6 1105.3L261.7 1090.4M313.5 970.6L313.5 1000.6M287.6 955.7L261.7 970.6M339.5 1045.5L313.5 1060.4M339.5 1015.5L313.5 1000.6" stroke="#e0881c" stroke-width="4.6" fill="none"/><path d="M2.4 1120.3L2.4 1090.4M2.4 1120.3L2.4 1150.2M2.4 1120.3L28.4 1135.3M2.4 1120.3L-23.5 1135.3M2.4 1120.3L28.4 1105.3M2.4 1120.3L-23.5 1105.3M2.4 940.7L2.4 910.8M2.4 940.7L2.4 970.6M2.4 940.7L28.4 955.7M2.4 940.7L-23.5 955.7M2.4 940.7L28.4 925.7M2.4 940.7L-23.5 925.7M54.3 1030.5L54.3 1000.6M54.3 1030.5L54.3 1060.4M54.3 1030.5L80.2 1045.5M54.3 1030.5L28.4 1045.5M54.3 1030.5L80.2 1015.5M54.3 1030.5L28.4 1015.5M106.2 1120.3L106.2 1090.4M106.2 1120.3L106.2 1150.2M106.2 1120.3L132.1 1135.3M106.2 1120.3L80.2 1135.3M106.2 1120.3L132.1 1105.3M106.2 1120.3L80.2 1105.3M106.2 940.7L106.2 910.8M106.2 940.7L106.2 970.6M106.2 940.7L132.1 955.7M106.2 940.7L80.2 955.7M106.2 940.7L132.1 925.7M106.2 940.7L80.2 925.7M158 1030.5L158 1000.6M158 1030.5L158 1060.4M158 1030.5L183.9 1045.5M158 1030.5L132.1 1045.5M158 1030.5L183.9 1015.5M158 1030.5L132.1 1015.5M209.8 1120.3L209.8 1090.4M209.8 1120.3L209.8 1150.2M209.8 1120.3L235.8 1135.3M209.8 1120.3L183.9 1135.3M209.8 1120.3L235.8 1105.3M209.8 1120.3L183.9 1105.3M209.8 940.7L209.8 910.8M209.8 940.7L209.8 970.6M209.8 940.7L235.8 955.7M209.8 940.7L183.9 955.7M209.8 940.7L235.8 925.7M209.8 940.7L183.9 925.7M261.7 1030.5L261.7 1000.6M261.7 1030.5L261.7 1060.4M261.7 1030.5L287.6 1045.5M261.7 1030.5L235.8 1045.5M261.7 1030.5L287.6 1015.5M261.7 1030.5L235.8 1015.5M313.6 1120.3L313.6 1090.4M313.6 1120.3L313.6 1150.2M313.6 1120.3L339.5 1135.3M313.6 1120.3L287.6 1135.3M313.6 1120.3L339.5 1105.3M313.6 1120.3L287.6 1105.3M313.5 940.7L313.5 910.8M313.5 940.7L313.5 970.6M313.5 940.7L339.5 955.7M313.5 940.7L287.6 955.7M313.5 940.7L339.5 925.7M313.5 940.7L287.6 925.7" stroke="#167a16" stroke-width="4.6" fill="none"/><circle cx="2.4" cy="1000.6" r="14.5" fill="url(#gO)"/><circle cx="2.4" cy="1060.4" r="14.5" fill="url(#gO)"/><circle cx="54.3" cy="970.6" r="14.5" fill="url(#gO)"/><circle cx="54.3" cy="1090.4" r="14.5" fill="url(#gO)"/><circle cx="106.2" cy="1000.6" r="14.5" fill="url(#gO)"/><circle cx="106.2" cy="1060.4" r="14.5" fill="url(#gO)"/><circle cx="158" cy="970.6" r="14.5" fill="url(#gO)"/><circle cx="158" cy="1090.4" r="14.5" fill="url(#gO)"/><circle cx="209.8" cy="1000.6" r="14.5" fill="url(#gO)"/><circle cx="209.8" cy="1060.4" r="14.5" fill="url(#gO)"/><circle cx="261.7" cy="970.6" r="14.5" fill="url(#gO)"/><circle cx="261.7" cy="1090.4" r="14.5" fill="url(#gO)"/><circle cx="313.5" cy="1000.6" r="14.5" fill="url(#gO)"/><circle cx="313.6" cy="1060.4" r="14.5" fill="url(#gO)"/><circle cx="2.4" cy="1120.3" r="14.2" fill="url(#gG)"/><circle cx="2.4" cy="940.7" r="14.2" fill="url(#gG)"/><circle cx="106.2" cy="1120.3" r="14.2" fill="url(#gG)"/><circle cx="106.2" cy="940.7" r="14.2" fill="url(#gG)"/><circle cx="158" cy="1030.5" r="14.2" fill="url(#gG)"/><circle cx="209.8" cy="1120.3" r="14.2" fill="url(#gG)"/><circle cx="209.8" cy="940.7" r="14.2" fill="url(#gG)"/><circle cx="313.6" cy="1120.3" r="14.2" fill="url(#gG)"/><circle cx="313.5" cy="940.7" r="14.2" fill="url(#gG)"/><circle cx="54.3" cy="1030.5" r="18.5" fill="url(#gP)"/><circle cx="261.7" cy="1030.5" r="18.5" fill="url(#gP)"/></g><rect x="0.5" y="941.4" width="316" height="175.4" fill="none" stroke="#000" stroke-width="1.4"/><text x="10.5" y="983" font-size="42" font-weight="bold">p</text>
<clipPath id="cp3"><rect x="0.5" y="1148.3" width="315.9" height="176.1"/></clipPath><g clip-path="url(#cp3)"><path d="M262.1 1160.5L276.9 1186.3M232.3 1160.5L217.4 1186.3M306.7 1186.3L276.9 1186.3M321.6 1212.1L306.7 1237.8M321.6 1160.5L306.7 1134.8M83.5 1160.5L98.4 1186.3M53.7 1160.5L38.9 1186.3M128.1 1186.3L98.4 1186.3M187.7 1186.3L217.4 1186.3M172.8 1212.1L187.7 1237.8M143 1212.1L128.1 1237.8M172.8 1160.5L187.7 1134.8M143 1160.5L128.1 1134.8M217.4 1237.8L187.7 1237.8M276.9 1237.8L306.7 1237.8M262.1 1263.6L276.9 1289.4M232.3 1263.6L217.4 1289.4M262.1 1212.1L276.9 1186.3M232.3 1212.1L217.4 1186.3M306.7 1289.4L276.9 1289.4M321.6 1315.2L306.7 1340.9M321.6 1263.6L306.7 1237.8M9.1 1186.3L38.9 1186.3M-5.8 1212.1L9.1 1237.8M-5.8 1160.5L9.1 1134.8M38.9 1237.8L9.1 1237.8M98.4 1237.8L128.1 1237.8M83.5 1263.6L98.4 1289.4M53.7 1263.6L38.9 1289.4M83.5 1212.1L98.4 1186.3M53.7 1212.1L38.9 1186.3M128.1 1289.4L98.4 1289.4M187.7 1289.4L217.4 1289.4M172.8 1315.2L187.7 1340.9M143 1315.2L128.1 1340.9M172.8 1263.6L187.7 1237.8M143 1263.6L128.1 1237.8M262.1 1315.2L276.9 1289.4M232.3 1315.2L217.4 1289.4M9.1 1289.4L38.9 1289.4M-5.8 1315.2L9.1 1341M-5.8 1263.6L9.1 1237.9M83.5 1315.2L98.4 1289.4M53.7 1315.2L38.9 1289.4" stroke="#e0881c" stroke-width="4.6" fill="none"/><path d="M247.2 1134.8L262.1 1160.5M247.2 1134.8L232.3 1160.5M336.5 1186.3L306.7 1186.3M68.6 1134.8L83.5 1160.5M68.6 1134.8L53.7 1160.5M157.9 1186.3L128.1 1186.3M157.9 1186.3L187.7 1186.3M157.9 1186.3L172.8 1212.1M157.9 1186.3L143 1212.1M157.9 1186.3L172.8 1160.5M157.9 1186.3L143 1160.5M247.2 1237.8L217.4 1237.8M247.2 1237.8L276.9 1237.8M247.2 1237.8L262.1 1263.6M247.2 1237.8L232.3 1263.6M247.2 1237.8L262.1 1212.1M247.2 1237.8L232.3 1212.1M336.5 1289.4L306.7 1289.4M-20.7 1186.3L9.1 1186.3M68.6 1237.8L38.9 1237.8M68.6 1237.8L98.4 1237.8M68.6 1237.8L83.5 1263.6M68.6 1237.8L53.7 1263.6M68.6 1237.8L83.5 1212.1M68.6 1237.8L53.7 1212.1M157.9 1289.4L128.1 1289.4M157.9 1289.4L187.7 1289.4M157.9 1289.4L172.8 1315.2M157.9 1289.4L143 1315.2M157.9 1289.4L172.8 1263.6M157.9 1289.4L143 1263.6M247.2 1340.9L262.1 1315.2M247.2 1340.9L232.3 1315.2M-20.7 1289.4L9.1 1289.4M68.6 1341L83.5 1315.2M68.6 1341L53.7 1315.2" stroke="#167a16" stroke-width="4.6" fill="none"/><circle cx="9.1" cy="1134.8" r="14.2" fill="url(#gO)"/><circle cx="9.1" cy="1237.8" r="14.2" fill="url(#gO)"/><circle cx="38.9" cy="1186.3" r="14.2" fill="url(#gO)"/><circle cx="38.9" cy="1289.4" r="14.2" fill="url(#gO)"/><circle cx="98.4" cy="1186.3" r="14.2" fill="url(#gO)"/><circle cx="98.4" cy="1289.4" r="14.2" fill="url(#gO)"/><circle cx="128.1" cy="1134.8" r="14.2" fill="url(#gO)"/><circle cx="128.1" cy="1237.8" r="14.2" fill="url(#gO)"/><circle cx="187.7" cy="1134.8" r="14.2" fill="url(#gO)"/><circle cx="187.7" cy="1237.8" r="14.2" fill="url(#gO)"/><circle cx="217.4" cy="1186.3" r="14.2" fill="url(#gO)"/><circle cx="217.4" cy="1289.4" r="14.2" fill="url(#gO)"/><circle cx="276.9" cy="1186.3" r="14.2" fill="url(#gO)"/><circle cx="276.9" cy="1289.4" r="14.2" fill="url(#gO)"/><circle cx="306.7" cy="1134.8" r="14.2" fill="url(#gO)"/><circle cx="306.7" cy="1237.8" r="14.2" fill="url(#gO)"/><circle cx="247.2" cy="1134.8" r="14.2" fill="url(#gG)"/><circle cx="68.6" cy="1134.8" r="14.2" fill="url(#gG)"/><circle cx="157.9" cy="1186.3" r="14.2" fill="url(#gG)"/><circle cx="157.9" cy="1289.4" r="14.2" fill="url(#gG)"/><circle cx="69.1" cy="1237.9" r="18.4" fill="url(#gP)"/><circle cx="246.9" cy="1237.9" r="18.4" fill="url(#gP)"/></g><rect x="0.5" y="1148.3" width="315.9" height="176.1" fill="none" stroke="#000" stroke-width="1.4"/><text x="10.5" y="1186.5" font-size="42" font-weight="bold">s</text>
<clipPath id="cp4"><rect x="352.4" y="729.4" width="176.5" height="175.8"/></clipPath><g clip-path="url(#cp4)"><g filter="url(#m1)" fill="#fff"><g filter="url(#b4)" opacity="0.3"><ellipse cx="441" cy="789.5" rx="44.5" ry="42.5"/><ellipse cx="489" cy="825" rx="23" ry="17" transform="rotate(-35 489 825)"/><ellipse cx="501" cy="856" rx="14" ry="13"/><ellipse cx="442" cy="865" rx="25" ry="15" transform="rotate(20 442 865)"/><ellipse cx="470" cy="848" rx="10" ry="10"/></g><g filter="url(#b5)"><ellipse cx="442.8" cy="794.5" rx="33" ry="33"/><ellipse cx="489" cy="818" rx="11" ry="6.5" transform="rotate(-20 489 818)" opacity="0.5"/><ellipse cx="500" cy="857" rx="7" ry="6" opacity="0.22"/></g><g filter="url(#b2)"><ellipse cx="430.5" cy="861.5" rx="5.5" ry="5.5"/><ellipse cx="454.5" cy="868.5" rx="5.5" ry="5.5"/><ellipse cx="442" cy="865" rx="18" ry="9" transform="rotate(20 442 865)" opacity="0.5"/><ellipse cx="397.5" cy="874.5" rx="9.5" ry="4.5" transform="rotate(8 397.5 874.5)" opacity="0.22"/></g></g><circle cx="486" cy="836.4" r="12.2" fill="#fff" stroke="#2020e0" stroke-width="1.2"/><path d="M442.4 864.8L464.1 850.6" stroke="#167a16" stroke-width="2.4"/><path d="M464.1 850.6L485.9 836.4" stroke="#e0881c" stroke-width="2.4"/><path d="M442.4 864.8L420.8 878.9" stroke="#167a16" stroke-width="2.4"/><path d="M420.8 878.9L399.2 893" stroke="#e0881c" stroke-width="2.4"/><path d="M442.4 864.8L431.6 850.6" stroke="#167a16" stroke-width="3.6"/><path d="M431.6 850.6L420.8 836.4" stroke="#e0881c" stroke-width="3.6"/><path d="M442.4 864.8L453.4 878.9" stroke="#167a16" stroke-width="3.6"/><path d="M453.4 878.9L464.4 893" stroke="#e0881c" stroke-width="3.6"/><circle cx="420.8" cy="836.4" r="10.3" fill="url(#gO)"/><circle cx="485.9" cy="836.4" r="10.3" fill="url(#gO)"/><circle cx="399.2" cy="893" r="10.3" fill="url(#gO)"/><circle cx="464.4" cy="893" r="10.3" fill="url(#gO)"/><circle cx="442.4" cy="864.8" r="10" fill="url(#gG)"/><circle cx="442.8" cy="795" r="17" fill="#f4f000"/><circle cx="442.8" cy="795" r="16.2" fill="#28e628"/><circle cx="442.8" cy="795" r="15.4" fill="#00d4ff"/><circle cx="442.8" cy="795" r="14.6" fill="#1428ff"/><circle cx="442.8" cy="795" r="13.4" fill="url(#gP)"/></g><rect x="352.4" y="729.4" width="176.5" height="175.8" fill="none" stroke="#000" stroke-width="1.4"/><text x="360.5" y="773" font-size="42" font-weight="bold">l</text>
<clipPath id="cp5"><rect x="538.4" y="729.4" width="176.3" height="176"/></clipPath><g clip-path="url(#cp5)"><g filter="url(#m1)" fill="#fff"><g filter="url(#b4)" opacity="0.3"><ellipse cx="604" cy="800" rx="35" ry="40" transform="rotate(15 604 800)"/><ellipse cx="655" cy="788" rx="22" ry="25"/><ellipse cx="597" cy="826" rx="22" ry="20"/><ellipse cx="630" cy="800" rx="20" ry="22"/><ellipse cx="686" cy="829" rx="22" ry="12.5" transform="rotate(-38 686 829)"/><ellipse cx="657" cy="852" rx="9" ry="7"/><ellipse cx="633" cy="866" rx="18" ry="12" transform="rotate(-30 633 866)"/></g><g filter="url(#b5)"><ellipse cx="606" cy="799" rx="18" ry="25" transform="rotate(8 606 799)" opacity="0.78"/><ellipse cx="606" cy="797.5" rx="6.5" ry="15" transform="rotate(5 606 797.5)"/><ellipse cx="656.5" cy="790" rx="11" ry="18" transform="rotate(-5 656.5 790)" opacity="0.75"/><ellipse cx="656" cy="791" rx="5.5" ry="12" transform="rotate(-8 656 791)"/><ellipse cx="632" cy="812" rx="12" ry="6" opacity="0.35"/><ellipse cx="688" cy="823" rx="10" ry="6" transform="rotate(-35 688 823)" opacity="0.5"/></g><g filter="url(#b2)"><ellipse cx="633" cy="866" rx="13" ry="8" transform="rotate(-30 633 866)" opacity="0.55"/><ellipse cx="593" cy="876" rx="12" ry="5" transform="rotate(20 593 876)" opacity="0.22"/><ellipse cx="606" cy="893" rx="4" ry="9" transform="rotate(-20 606 893)" opacity="0.22"/><ellipse cx="567" cy="904" rx="8" ry="4" opacity="0.22"/><ellipse cx="690.5" cy="863" rx="2.5" ry="1.5" transform="rotate(-20 690.5 863)" opacity="0.3"/></g></g><circle cx="677" cy="837.6" r="11.8" fill="#fff" stroke="#2020e0" stroke-width="1.2"/><path d="M632.5 865.9L654.3 851.8" stroke="#167a16" stroke-width="2.4"/><path d="M654.3 851.8L676.1 837.6" stroke="#e0881c" stroke-width="2.4"/><path d="M632.5 865.9L610.8 880.2" stroke="#167a16" stroke-width="2.4"/><path d="M610.8 880.2L589 894.6" stroke="#e0881c" stroke-width="2.4"/><path d="M632.5 865.9L621.6 851.8" stroke="#167a16" stroke-width="3.6"/><path d="M621.6 851.8L610.8 837.6" stroke="#e0881c" stroke-width="3.6"/><path d="M632.5 865.9L643.2 880.2" stroke="#167a16" stroke-width="3.6"/><path d="M643.2 880.2L654 894.6" stroke="#e0881c" stroke-width="3.6"/><circle cx="610.8" cy="837.6" r="10.3" fill="url(#gO)"/><circle cx="676.1" cy="837.6" r="10.3" fill="url(#gO)"/><circle cx="589" cy="894.6" r="10.3" fill="url(#gO)"/><circle cx="654" cy="894.6" r="10.3" fill="url(#gO)"/><circle cx="632.5" cy="865.9" r="10" fill="url(#gG)"/><circle cx="632.7" cy="795.7" r="17" fill="#f4f000"/><circle cx="632.7" cy="795.7" r="16.2" fill="#28e628"/><circle cx="632.7" cy="795.7" r="15.4" fill="#00d4ff"/><circle cx="632.7" cy="795.7" r="14.6" fill="#1428ff"/><circle cx="632.7" cy="795.7" r="13.4" fill="url(#gP)"/></g><rect x="538.4" y="729.4" width="176.3" height="176" fill="none" stroke="#ff0000" stroke-width="1.4"/><text x="547.5" y="773" font-size="42" font-weight="bold">m</text>
<clipPath id="cp6"><rect x="761.2" y="729.4" width="130.4" height="176"/></clipPath><g clip-path="url(#cp6)"><g filter="url(#m1)" fill="#fff"><g filter="url(#b4)" opacity="0.3"><ellipse cx="824.5" cy="780" rx="42" ry="42"/><ellipse cx="823" cy="812" rx="32" ry="26"/><ellipse cx="782" cy="826" rx="28" ry="13" transform="rotate(-42 782 826)"/><ellipse cx="873" cy="836" rx="20" ry="27" transform="rotate(20 873 836)"/><ellipse cx="826" cy="868" rx="21" ry="29"/><ellipse cx="848" cy="852" rx="16" ry="9" transform="rotate(-20 848 852)"/></g><g filter="url(#b5)"><ellipse cx="824.2" cy="772" rx="27" ry="20"/><ellipse cx="824" cy="815" rx="28" ry="18"/><ellipse cx="824.2" cy="795" rx="14" ry="30" opacity="0.6"/><ellipse cx="868" cy="822" rx="8" ry="8" opacity="0.4"/><ellipse cx="842" cy="852" rx="14" ry="8" transform="rotate(-20 842 852)" opacity="0.4"/><ellipse cx="825" cy="867" rx="14" ry="23" opacity="0.45"/></g><g filter="url(#b2)"><ellipse cx="824.2" cy="851.5" rx="5" ry="5.5"/><ellipse cx="824.2" cy="881.5" rx="5.5" ry="7.5"/><ellipse cx="784" cy="872" rx="11" ry="5" transform="rotate(25 784 872)" opacity="0.22"/><ellipse cx="796" cy="888" rx="4" ry="9" transform="rotate(-15 796 888)" opacity="0.22"/><ellipse cx="890" cy="891" rx="13" ry="16" opacity="0.22"/><ellipse cx="764" cy="905" rx="6" ry="8" transform="rotate(-30 764 905)" opacity="0.22"/></g></g><circle cx="869" cy="837.1" r="11.8" fill="#fff" stroke="#2020e0" stroke-width="1.2"/><path d="M824.2 865.9L846 851.5" stroke="#167a16" stroke-width="2.4"/><path d="M846 851.5L867.8 837.1" stroke="#e0881c" stroke-width="2.4"/><path d="M824.2 865.9L802.6 880.1" stroke="#167a16" stroke-width="2.4"/><path d="M802.6 880.1L781 894.3" stroke="#e0881c" stroke-width="2.4"/><path d="M824.2 865.9L813.5 851.5" stroke="#167a16" stroke-width="3.6"/><path d="M813.5 851.5L802.9 837.1" stroke="#e0881c" stroke-width="3.6"/><path d="M824.2 865.9L835.1 880.1" stroke="#167a16" stroke-width="3.6"/><path d="M835.1 880.1L846 894.3" stroke="#e0881c" stroke-width="3.6"/><circle cx="802.9" cy="837.1" r="10.3" fill="url(#gO)"/><circle cx="867.8" cy="837.1" r="10.3" fill="url(#gO)"/><circle cx="781" cy="894.3" r="10.3" fill="url(#gO)"/><circle cx="846" cy="894.3" r="10.3" fill="url(#gO)"/><circle cx="824.2" cy="865.9" r="10" fill="url(#gG)"/><circle cx="824.2" cy="795.7" r="17" fill="#f4f000"/><circle cx="824.2" cy="795.7" r="16.2" fill="#28e628"/><circle cx="824.2" cy="795.7" r="15.4" fill="#00d4ff"/><circle cx="824.2" cy="795.7" r="14.6" fill="#1428ff"/><circle cx="824.2" cy="795.7" r="13.4" fill="url(#gP)"/></g><rect x="723.4" y="729.4" width="176.4" height="176" fill="none" stroke="#0000ff" stroke-width="1.4"/><text x="731.5" y="773" font-size="42" font-weight="bold">n</text>
<clipPath id="cp7"><rect x="353.1" y="941.7" width="261.2" height="174.6"/></clipPath><g clip-path="url(#cp7)"><g filter="url(#m2)" fill="#fff"><g filter="url(#b2)" opacity="0.4"><ellipse cx="419.4" cy="1046.5" rx="54.5" ry="58"/><ellipse cx="547.9" cy="1046.5" rx="54.5" ry="58"/><path d="M340 1130V1076Q368 1068 372 1050H595Q598 1068 626 1076V1130z"/><ellipse cx="364" cy="1059" rx="9" ry="12"/><ellipse cx="603.5" cy="1059" rx="9" ry="12"/></g><g filter="url(#b6)" opacity="0.11"><ellipse cx="419.4" cy="1046.2" rx="38" ry="38"/><ellipse cx="547.9" cy="1046.2" rx="38" ry="38"/></g><g filter="url(#b5)"><ellipse cx="419.4" cy="1046.2" rx="23.6" ry="23.6"/><ellipse cx="547.9" cy="1046.2" rx="23.6" ry="23.6"/></g><g filter="url(#b4)"><ellipse cx="387.5" cy="1098" rx="7" ry="22" transform="rotate(12 387.5 1098)" opacity="0.12"/><ellipse cx="451.5" cy="1098" rx="7" ry="22" transform="rotate(-12 451.5 1098)" opacity="0.12"/><ellipse cx="515.7" cy="1098" rx="7" ry="22" transform="rotate(12 515.7 1098)" opacity="0.12"/><ellipse cx="579.6" cy="1098" rx="7" ry="22" transform="rotate(-12 579.6 1098)" opacity="0.12"/></g><g filter="url(#b2)"><ellipse cx="346.6" cy="1103.5" rx="5.5" ry="5"/><ellipse cx="364.6" cy="1103.5" rx="5.5" ry="5"/><ellipse cx="355.6" cy="1104" rx="17" ry="11" opacity="0.35"/><ellipse cx="410.4" cy="1103.5" rx="5.5" ry="5"/><ellipse cx="428.4" cy="1103.5" rx="5.5" ry="5"/><ellipse cx="419.4" cy="1104" rx="17" ry="11" opacity="0.35"/><ellipse cx="474.5" cy="1103.5" rx="5.5" ry="5"/><ellipse cx="492.5" cy="1103.5" rx="5.5" ry="5"/><ellipse cx="483.5" cy="1104" rx="17" ry="11" opacity="0.35"/><ellipse cx="538.9" cy="1103.5" rx="5.5" ry="5"/><ellipse cx="556.9" cy="1103.5" rx="5.5" ry="5"/><ellipse cx="547.9" cy="1104" rx="17" ry="11" opacity="0.35"/><ellipse cx="602.3" cy="1103.5" rx="5.5" ry="5"/><ellipse cx="620.3" cy="1103.5" rx="5.5" ry="5"/><ellipse cx="611.3" cy="1104" rx="17" ry="11" opacity="0.35"/><ellipse cx="476.5" cy="1095" rx="4.5" ry="4.5"/><ellipse cx="490.5" cy="1095" rx="4.5" ry="4.5"/><ellipse cx="483.5" cy="1116" rx="13" ry="4"/></g></g><path d="M473.5 1072Q483.5 1050 493.5 1072Q483.5 1061 473.5 1072z" fill="#fff"/><path d="M477.5 1040Q483.6 1062 489.7 1040z" fill="#fff"/><path d="M355.6 1081.6V1105.7" stroke="#e0881c" stroke-width="3.4"/><path d="M355.6 1105.7l-17 12M355.6 1105.7l17 12M355.6 1093V1105.7" stroke="#167a16" stroke-width="3.6" fill="none"/><circle cx="355.6" cy="1081.6" r="8.9" fill="url(#gO)"/><circle cx="355.6" cy="1105.7" r="8.3" fill="url(#gG)"/><path d="M419.4 1081.6V1105.7" stroke="#e0881c" stroke-width="3.4"/><path d="M419.4 1105.7l-17 12M419.4 1105.7l17 12M419.4 1093V1105.7" stroke="#167a16" stroke-width="3.6" fill="none"/><circle cx="419.4" cy="1081.6" r="8.9" fill="url(#gO)"/><circle cx="419.4" cy="1105.7" r="8.3" fill="url(#gG)"/><path d="M483.5 1081.6V1105.7" stroke="#e0881c" stroke-width="3.4"/><path d="M483.5 1105.7l-17 12M483.5 1105.7l17 12M483.5 1093V1105.7" stroke="#167a16" stroke-width="3.6" fill="none"/><circle cx="483.5" cy="1081.6" r="8.9" fill="url(#gO)"/><circle cx="483.5" cy="1105.7" r="8.3" fill="url(#gG)"/><path d="M547.9 1081.6V1105.7" stroke="#e0881c" stroke-width="3.4"/><path d="M547.9 1105.7l-17 12M547.9 1105.7l17 12M547.9 1093V1105.7" stroke="#167a16" stroke-width="3.6" fill="none"/><circle cx="547.9" cy="1081.6" r="8.9" fill="url(#gO)"/><circle cx="547.9" cy="1105.7" r="8.3" fill="url(#gG)"/><path d="M611.3 1081.6V1105.7" stroke="#e0881c" stroke-width="3.4"/><path d="M611.3 1105.7l-17 12M611.3 1105.7l17 12M611.3 1093V1105.7" stroke="#167a16" stroke-width="3.6" fill="none"/><circle cx="611.3" cy="1081.6" r="8.9" fill="url(#gO)"/><circle cx="611.3" cy="1105.7" r="8.3" fill="url(#gG)"/><circle cx="419.4" cy="1046.2" r="14.9" fill="#f4f000"/><circle cx="419.4" cy="1046.2" r="14.1" fill="#28e628"/><circle cx="419.4" cy="1046.2" r="13.3" fill="#00d4ff"/><circle cx="419.4" cy="1046.2" r="12.5" fill="#1428ff"/><circle cx="419.4" cy="1046.2" r="11.3" fill="url(#gP)"/><circle cx="547.9" cy="1046.2" r="14.9" fill="#f4f000"/><circle cx="547.9" cy="1046.2" r="14.1" fill="#28e628"/><circle cx="547.9" cy="1046.2" r="13.3" fill="#00d4ff"/><circle cx="547.9" cy="1046.2" r="12.5" fill="#1428ff"/><circle cx="547.9" cy="1046.2" r="11.3" fill="url(#gP)"/></g><clipPath id="cp8"><rect x="638.4" y="941.7" width="260.4" height="174.6"/></clipPath><g clip-path="url(#cp8)"><path d="M630.1 1090.9L645.3 1099.6M630.1 1073.4L645.3 1064.6M645.3 1117.1L645.3 1099.6M660.5 1125.9L675.6 1117.1M630.1 985.8L645.3 994.6M630.1 968.3L645.3 959.6M645.3 1012.1L645.3 994.6M645.3 1047.1L645.3 1064.6M660.5 1038.4L675.6 1047.1M660.5 1020.8L675.6 1012.1M675.6 1064.6L675.6 1047.1M675.6 1099.6L675.6 1117.1M690.8 1090.9L706 1099.6M660.5 1090.9L645.3 1099.6M690.8 1073.4L706 1064.6M660.5 1073.4L645.3 1064.6M706 1117.1L706 1099.6M721.1 1125.9L736.3 1117.1M690.8 1125.9L675.6 1117.1M645.3 942.1L645.3 959.6M660.5 933.3L675.6 942.1M675.6 959.6L675.6 942.1M675.6 994.6L675.6 1012.1M690.8 985.8L706 994.6M660.5 985.8L645.3 994.6M690.8 968.3L706 959.6M660.5 968.3L645.3 959.6M706 1012.1L706 994.6M706 1047.1L706 1064.6M721.1 1038.4L736.3 1047.1M690.8 1038.4L675.6 1047.1M721.1 1020.8L736.3 1012.1M690.8 1020.8L675.6 1012.1M736.3 1064.6L736.3 1047.1M736.3 1099.6L736.3 1117.1M751.4 1090.9L766.6 1099.6M721.1 1090.9L706 1099.6M751.4 1073.4L766.6 1064.6M721.1 1073.4L706 1064.6M766.6 1117.1L766.6 1099.6M781.8 1125.9L796.9 1117.1M751.4 1125.9L736.3 1117.1M706 942.1L706 959.6M721.1 933.3L736.3 942.1M690.8 933.3L675.6 942.1M736.3 959.6L736.3 942.1M736.3 994.6L736.3 1012.1M751.4 985.8L766.6 994.6M721.1 985.8L705.9 994.6M751.4 968.3L766.6 959.6M721.1 968.3L705.9 959.6M766.6 1012.1L766.6 994.6M766.6 1047.1L766.6 1064.6M781.8 1038.4L796.9 1047.1M751.4 1038.4L736.3 1047.1M781.8 1020.8L796.9 1012.1M751.4 1020.8L736.3 1012.1M796.9 1064.6L796.9 1047.1M796.9 1099.6L796.9 1117.1M812.1 1090.9L827.3 1099.6M781.8 1090.9L766.6 1099.6M812.1 1073.4L827.3 1064.6M781.8 1073.4L766.6 1064.6M827.2 1117.1L827.2 1099.6M842.4 1125.9L857.6 1117.1M812.1 1125.9L796.9 1117.1M766.6 942.1L766.6 959.6M781.8 933.3L796.9 942.1M751.4 933.3L736.3 942.1M796.9 959.6L796.9 942.1M796.9 994.6L796.9 1012.1M812.1 985.8L827.2 994.6M781.8 985.8L766.6 994.6M812.1 968.3L827.2 959.6M781.8 968.3L766.6 959.6M827.2 1012.1L827.2 994.6M827.2 1047.1L827.2 1064.6M842.4 1038.4L857.6 1047.1M812.1 1038.4L796.9 1047.1M842.4 1020.8L857.6 1012.1M812.1 1020.8L796.9 1012.1M857.6 1064.6L857.6 1047.1M857.6 1099.6L857.6 1117.1M872.7 1090.9L887.9 1099.6M842.4 1090.9L827.2 1099.6M872.7 1073.4L887.9 1064.6M842.4 1073.4L827.2 1064.6M887.9 1117.1L887.9 1099.6M872.7 1125.9L857.6 1117.1M827.2 942.1L827.2 959.6M842.4 933.3L857.6 942.1M812.1 933.3L796.9 942.1M857.6 959.6L857.6 942.1M857.6 994.6L857.6 1012.1M872.7 985.8L887.9 994.6M842.4 985.8L827.2 994.6M872.7 968.3L887.9 959.6M842.4 968.3L827.2 959.6M887.9 1012.1L887.9 994.6M887.9 1047.1L887.9 1064.6M872.7 1038.4L857.6 1047.1M872.7 1020.8L857.6 1012.1M903.1 1090.9L887.9 1099.6M903.1 1073.4L887.9 1064.6M887.9 942.1L887.9 959.6M872.7 933.3L857.6 942.1M903.1 985.8L887.9 994.6M903.1 968.3L887.9 959.6" stroke="#e0881c" stroke-width="2.9" fill="none"/><path d="M645.3 1134.6L645.3 1117.1M645.3 1029.6L645.3 1012.1M645.3 1029.6L645.3 1047.1M645.3 1029.6L660.5 1038.4M645.3 1029.6L630.1 1038.4M645.3 1029.6L660.5 1020.8M645.3 1029.6L630.1 1020.8M675.6 1082.1L675.6 1064.6M675.6 1082.1L675.6 1099.6M675.6 1082.1L690.8 1090.9M675.6 1082.1L660.5 1090.9M675.6 1082.1L690.8 1073.4M675.6 1082.1L660.5 1073.4M706 1134.6L706 1117.1M645.3 924.6L645.3 942.1M675.6 977.1L675.6 959.6M675.6 977.1L675.6 994.6M675.6 977.1L690.8 985.8M675.6 977.1L660.5 985.8M675.6 977.1L690.8 968.3M675.6 977.1L660.5 968.3M706 1029.6L706 1012.1M706 1029.6L706 1047.1M706 1029.6L721.1 1038.4M706 1029.6L690.8 1038.4M706 1029.6L721.1 1020.8M706 1029.6L690.8 1020.8M736.3 1082.1L736.3 1064.6M736.3 1082.1L736.3 1099.6M736.3 1082.1L751.4 1090.9M736.3 1082.1L721.1 1090.9M736.3 1082.1L751.4 1073.4M736.3 1082.1L721.1 1073.4M766.6 1134.6L766.6 1117.1M706 924.6L706 942.1M736.3 977.1L736.3 959.6M736.3 977.1L736.3 994.6M736.3 977.1L751.4 985.8M736.3 977.1L721.1 985.8M736.3 977.1L751.4 968.3M736.3 977.1L721.1 968.3M766.6 1029.6L766.6 1012.1M766.6 1029.6L766.6 1047.1M766.6 1029.6L781.8 1038.4M766.6 1029.6L751.4 1038.4M766.6 1029.6L781.8 1020.8M766.6 1029.6L751.4 1020.8M796.9 1082.1L796.9 1064.6M796.9 1082.1L796.9 1099.6M796.9 1082.1L812.1 1090.9M796.9 1082.1L781.8 1090.9M796.9 1082.1L812.1 1073.4M796.9 1082.1L781.8 1073.4M827.2 1134.6L827.2 1117.1M766.6 924.6L766.6 942.1M796.9 977.1L796.9 959.6M796.9 977.1L796.9 994.6M796.9 977.1L812.1 985.8M796.9 977.1L781.8 985.8M796.9 977.1L812.1 968.3M796.9 977.1L781.8 968.3M827.2 1029.6L827.2 1012.1M827.2 1029.6L827.2 1047.1M827.2 1029.6L842.4 1038.4M827.2 1029.6L812.1 1038.4M827.2 1029.6L842.4 1020.8M827.2 1029.6L812.1 1020.8M857.6 1082.1L857.6 1064.6M857.6 1082.1L857.6 1099.6M857.6 1082.1L872.7 1090.9M857.6 1082.1L842.4 1090.9M857.6 1082.1L872.7 1073.4M857.6 1082.1L842.4 1073.4M887.9 1134.6L887.9 1117.1M827.2 924.6L827.2 942.1M857.6 977.1L857.6 959.6M857.6 977.1L857.6 994.6M857.6 977.1L872.7 985.8M857.6 977.1L842.4 985.8M857.6 977.1L872.7 968.3M857.6 977.1L842.4 968.3M887.9 1029.6L887.9 1012.1M887.9 1029.6L887.9 1047.1M887.9 1029.6L903.1 1038.4M887.9 1029.6L872.7 1038.4M887.9 1029.6L903.1 1020.8M887.9 1029.6L872.7 1020.8M887.9 924.6L887.9 942.1" stroke="#167a16" stroke-width="2.9" fill="none"/><circle cx="645.3" cy="959.6" r="8.1" fill="url(#gO)"/><circle cx="645.3" cy="994.6" r="8.1" fill="url(#gO)"/><circle cx="645.3" cy="1064.6" r="8.1" fill="url(#gO)"/><circle cx="645.3" cy="1099.6" r="8.1" fill="url(#gO)"/><circle cx="675.6" cy="942.1" r="8.1" fill="url(#gO)"/><circle cx="675.6" cy="1012.1" r="8.1" fill="url(#gO)"/><circle cx="675.6" cy="1047.1" r="8.1" fill="url(#gO)"/><circle cx="675.6" cy="1117.1" r="8.1" fill="url(#gO)"/><circle cx="706" cy="959.6" r="8.1" fill="url(#gO)"/><circle cx="706" cy="994.6" r="8.1" fill="url(#gO)"/><circle cx="706" cy="1064.6" r="8.1" fill="url(#gO)"/><circle cx="706" cy="1099.6" r="8.1" fill="url(#gO)"/><circle cx="736.3" cy="942.1" r="8.1" fill="url(#gO)"/><circle cx="736.3" cy="1012.1" r="8.1" fill="url(#gO)"/><circle cx="736.3" cy="1047.1" r="8.1" fill="url(#gO)"/><circle cx="736.3" cy="1117.1" r="8.1" fill="url(#gO)"/><circle cx="766.6" cy="959.6" r="8.1" fill="url(#gO)"/><circle cx="766.6" cy="994.6" r="8.1" fill="url(#gO)"/><circle cx="766.6" cy="1064.6" r="8.1" fill="url(#gO)"/><circle cx="766.6" cy="1099.6" r="8.1" fill="url(#gO)"/><circle cx="796.9" cy="942.1" r="8.1" fill="url(#gO)"/><circle cx="796.9" cy="1012.1" r="8.1" fill="url(#gO)"/><circle cx="796.9" cy="1047.1" r="8.1" fill="url(#gO)"/><circle cx="796.9" cy="1117.1" r="8.1" fill="url(#gO)"/><circle cx="827.2" cy="959.6" r="8.1" fill="url(#gO)"/><circle cx="827.2" cy="994.6" r="8.1" fill="url(#gO)"/><circle cx="827.2" cy="1064.6" r="8.1" fill="url(#gO)"/><circle cx="827.2" cy="1099.6" r="8.1" fill="url(#gO)"/><circle cx="857.6" cy="942.1" r="8.1" fill="url(#gO)"/><circle cx="857.6" cy="1012.1" r="8.1" fill="url(#gO)"/><circle cx="857.6" cy="1047.1" r="8.1" fill="url(#gO)"/><circle cx="857.6" cy="1117.1" r="8.1" fill="url(#gO)"/><circle cx="887.9" cy="959.6" r="8.1" fill="url(#gO)"/><circle cx="887.9" cy="994.6" r="8.1" fill="url(#gO)"/><circle cx="887.9" cy="1064.6" r="8.1" fill="url(#gO)"/><circle cx="887.9" cy="1099.6" r="8.1" fill="url(#gO)"/><circle cx="645.3" cy="1029.6" r="8" fill="url(#gG)"/><circle cx="675.6" cy="1082.1" r="8" fill="url(#gG)"/><circle cx="675.6" cy="977.1" r="8" fill="url(#gG)"/><circle cx="736.3" cy="1082.1" r="8" fill="url(#gG)"/><circle cx="736.3" cy="977.1" r="8" fill="url(#gG)"/><circle cx="766.6" cy="1029.6" r="8" fill="url(#gG)"/><circle cx="796.9" cy="1082.1" r="8" fill="url(#gG)"/><circle cx="796.9" cy="977.1" r="8" fill="url(#gG)"/><circle cx="857.6" cy="1082.1" r="8" fill="url(#gG)"/><circle cx="857.6" cy="977.1" r="8" fill="url(#gG)"/><circle cx="887.9" cy="1029.6" r="8" fill="url(#gG)"/><g filter="url(#m2)" fill="#fff"><g filter="url(#b2)" opacity="0.4"><path d="M657.5 1020C657.4 1015.3 657.4 1010.1 659 1005.8C660.5 1001.6 663.3 997.5 666.8 994.5C670.2 991.6 674.1 989.6 679.5 988.1C684.9 986.7 692.7 986.1 699.3 985.7C705.9 985.4 713.5 985.4 719.2 986C724.8 986.6 729.3 988.7 733.3 989.5C737.4 990.4 740.4 991.8 743.3 991C746.1 990.1 748.2 986.9 750.3 984.6C752.5 982.2 753.3 978.6 756 976.8C758.7 975 763.1 973.5 766.6 973.5C770.2 973.5 774.5 975 777.3 976.8C780 978.6 780.8 982.2 782.9 984.6C785 986.9 786.9 990.1 790 991C793.1 991.8 796.6 990.4 801.3 989.5C806.1 988.7 812.7 986.6 818.3 986C824 985.4 829.2 985.4 835.3 985.7C841.5 986.1 849.7 986.7 855.2 988.1C860.6 989.6 864.6 991.6 867.9 994.5C871.2 997.5 873.6 1001.6 875 1005.8C876.4 1010.1 876.7 1015.3 876.4 1020C876.2 1024.7 874.8 1029.7 873.6 1034.2C872.4 1038.7 870 1043.9 869.3 1046.9C868.6 1050 870.3 1051.2 869.3 1052.6C868.4 1054 865.3 1054.2 863.7 1055.4C862 1056.6 861.8 1056.8 859.4 1059.7C857.1 1062.5 853 1069.4 849.5 1072.4C846 1075.5 842 1076.9 838.2 1078.1C834.4 1079.3 830.6 1079.7 826.8 1079.5C823.1 1079.3 819.3 1078.3 815.5 1076.7C811.7 1075 807.5 1072.2 804.2 1069.6C800.9 1067 798.5 1062.7 795.7 1061.1C792.8 1059.4 789.8 1060.4 787.2 1059.7C784.6 1059 781.6 1058.3 780.1 1056.8C778.6 1055.4 778 1053.1 778 1051.2C778 1049.3 780 1048.3 780.1 1045.5C780.2 1042.7 779.4 1038.4 778.7 1034.2C778 1029.9 776.8 1023.5 775.8 1020C774.9 1016.5 774.5 1014.3 773 1012.9C771.5 1011.5 768.8 1011.5 766.6 1011.5C764.5 1011.5 761.9 1011 760.3 1012.9C758.6 1014.8 757.8 1019.3 756.7 1022.8C755.7 1026.4 754.6 1030.9 753.9 1034.2C753.2 1037.5 752.2 1039.8 752.5 1042.7C752.7 1045.5 755.2 1048.8 755.3 1051.2C755.4 1053.5 754.7 1055.3 753.2 1056.8C751.6 1058.4 748.4 1059.7 746.1 1060.4C743.7 1061.1 741.6 1059.6 739 1061.1C736.4 1062.6 733.8 1067 730.5 1069.6C727.2 1072.2 723.2 1075 719.2 1076.7C715.2 1078.3 710.4 1079.4 706.4 1079.5C702.4 1079.6 698.9 1078.8 695.1 1077.4C691.3 1076 687.3 1074 683.8 1071C680.2 1068.1 676.4 1062.4 673.8 1059.7C671.2 1057 669.9 1055.9 668.2 1054.7C666.4 1053.5 664.2 1054.1 663.2 1052.6C662.3 1051.1 663.1 1048.6 662.5 1045.5C661.9 1042.4 660.5 1038.4 659.7 1034.2C658.8 1029.9 657.7 1024.7 657.5 1020z"/><ellipse cx="642.5" cy="991.7" rx="8" ry="11.5"/><ellipse cx="892" cy="991.7" rx="8" ry="11.5"/><ellipse cx="706" cy="1105.5" rx="12.5" ry="9.5"/><ellipse cx="827.5" cy="1105.5" rx="12.5" ry="9.5"/></g><g filter="url(#b6)" opacity="0.11"><ellipse cx="706.1" cy="1030.6" rx="36" ry="36"/><ellipse cx="827.3" cy="1030.6" rx="36" ry="36"/></g><g filter="url(#b5)"><path d="M684.1 1027.1q-1 -20.5 22 -20.5q23 0 22 20.5q-1 13 -9.5 21q-12.5 9 -25 0q-8.5 -8 -9.5 -21z"/><path d="M805.3 1027.1q-1 -20.5 22 -20.5q23 0 22 20.5q-1 13 -9.5 21q-12.5 9 -25 0q-8.5 -8 -9.5 -21z"/></g></g><circle cx="706.1" cy="1029.6" r="14.3" fill="#f4f000"/><circle cx="706.1" cy="1029.6" r="13.5" fill="#28e628"/><circle cx="706.1" cy="1029.6" r="12.7" fill="#00d4ff"/><circle cx="706.1" cy="1029.6" r="11.9" fill="#1428ff"/><circle cx="706.1" cy="1029.6" r="10.7" fill="url(#gP)"/><circle cx="827.3" cy="1029.6" r="14.3" fill="#f4f000"/><circle cx="827.3" cy="1029.6" r="13.5" fill="#28e628"/><circle cx="827.3" cy="1029.6" r="12.7" fill="#00d4ff"/><circle cx="827.3" cy="1029.6" r="11.9" fill="#1428ff"/><circle cx="827.3" cy="1029.6" r="10.7" fill="url(#gP)"/></g><rect x="353.1" y="941.7" width="545.7" height="174.6" fill="none" stroke="#111" stroke-width="1.3"/><text x="360" y="983" font-size="42" font-weight="bold">q</text>
<clipPath id="cp9"><rect x="353.2" y="1149.5" width="262.7" height="175.8"/></clipPath><g clip-path="url(#cp9)"><path d="M543.3 1134.7L551.7 1149.3M526.4 1134.7L518 1149.3M568.6 1149.3L551.7 1149.3M602.3 1149.3L619.2 1149.3M593.9 1163.9L602.3 1178.5M577 1163.9L568.6 1178.5M619.2 1178.5L602.3 1178.5M442.2 1134.7L450.6 1149.3M425.3 1134.7L416.9 1149.3M467.4 1149.3L450.6 1149.3M501.2 1149.3L518 1149.3M492.7 1163.9L501.2 1178.5M475.9 1163.9L467.4 1178.5M518 1178.5L501.2 1178.5M551.7 1178.5L568.6 1178.5M543.3 1193.1L551.7 1207.7M526.4 1193.1L518 1207.7M543.3 1163.9L551.7 1149.3M526.4 1163.9L518 1149.3M568.6 1207.7L551.7 1207.7M602.3 1207.7L619.2 1207.7M593.9 1222.3L602.3 1236.9M577 1222.3L568.6 1236.9M593.9 1193.1L602.3 1178.5M577 1193.1L568.6 1178.5M619.2 1236.9L602.3 1236.9M366.3 1149.3L349.4 1149.3M400 1149.3L416.9 1149.3M391.6 1163.9L400 1178.5M374.7 1163.9L366.3 1178.5M416.9 1178.5L400 1178.5M450.6 1178.5L467.4 1178.5M442.2 1193.1L450.6 1207.7M425.3 1193.1L416.9 1207.7M442.2 1163.9L450.6 1149.3M425.3 1163.9L416.9 1149.3M467.4 1207.7L450.6 1207.7M501.2 1207.7L518 1207.7M492.7 1222.3L501.2 1236.9M475.9 1222.3L467.4 1236.9M492.7 1193.1L501.2 1178.5M475.9 1193.1L467.4 1178.5M518 1236.9L501.2 1236.9M551.7 1236.9L568.6 1236.9M543.3 1251.5L551.7 1266.1M526.4 1251.5L518 1266.1M543.3 1222.3L551.7 1207.7M526.4 1222.3L518 1207.7M568.6 1266.1L551.7 1266.1M602.3 1266.1L619.2 1266.1M593.9 1280.7L602.3 1295.3M577 1280.7L568.6 1295.3M593.9 1251.5L602.3 1236.9M577 1251.5L568.6 1236.9M619.2 1295.3L602.3 1295.3M349.4 1178.5L366.3 1178.5M366.3 1207.7L349.4 1207.7M400 1207.7L416.9 1207.7M391.6 1222.3L400 1236.9M374.7 1222.3L366.3 1236.9M391.6 1193.1L400 1178.5M374.7 1193.1L366.3 1178.5M416.9 1236.9L400 1236.9M450.6 1236.9L467.4 1236.9M442.2 1251.5L450.6 1266.1M425.3 1251.5L416.9 1266.1M442.2 1222.3L450.6 1207.7M425.3 1222.3L416.9 1207.7M467.4 1266.1L450.6 1266.1M501.2 1266.1L518 1266.1M492.7 1280.7L501.2 1295.3M475.9 1280.7L467.4 1295.3M492.7 1251.5L501.2 1236.9M475.9 1251.5L467.4 1236.9M518 1295.3L501.2 1295.3M551.7 1295.3L568.6 1295.3M543.3 1309.9L551.7 1324.5M526.4 1309.9L518 1324.5M543.3 1280.7L551.7 1266.1M526.4 1280.7L518 1266.1M568.6 1324.5L551.7 1324.5M602.3 1324.5L619.2 1324.5M593.9 1309.9L602.3 1295.3M577 1309.9L568.6 1295.3M349.4 1236.9L366.3 1236.9M366.3 1266.1L349.4 1266.1M400 1266.1L416.9 1266.1M391.6 1280.7L400 1295.3M374.7 1280.7L366.3 1295.3M391.6 1251.5L400 1236.9M374.7 1251.5L366.3 1236.9M416.9 1295.3L400 1295.3M450.6 1295.3L467.4 1295.3M442.2 1309.9L450.6 1324.5M425.3 1309.9L416.9 1324.5M442.2 1280.7L450.6 1266.1M425.3 1280.7L416.9 1266.1M467.4 1324.5L450.6 1324.5M501.2 1324.5L518 1324.5M492.7 1309.9L501.2 1295.3M475.9 1309.9L467.4 1295.3M543.3 1339.1L551.7 1324.5M526.4 1339.1L518 1324.5M349.4 1295.3L366.3 1295.3M366.3 1324.5L349.4 1324.5M400 1324.5L416.9 1324.5M391.6 1309.9L400 1295.3M374.7 1309.9L366.3 1295.3M442.2 1339.1L450.6 1324.5M425.3 1339.1L416.9 1324.5" stroke="#e0881c" stroke-width="2.9" fill="none"/><path d="M585.5 1149.3L568.6 1149.3M585.5 1149.3L602.3 1149.3M585.5 1149.3L593.9 1163.9M585.5 1149.3L577 1163.9M585.5 1149.3L593.9 1134.7M585.5 1149.3L577 1134.7M484.3 1149.3L467.4 1149.3M484.3 1149.3L501.2 1149.3M484.3 1149.3L492.7 1163.9M484.3 1149.3L475.9 1163.9M484.3 1149.3L492.7 1134.7M484.3 1149.3L475.9 1134.7M534.9 1178.5L518 1178.5M534.9 1178.5L551.7 1178.5M534.9 1178.5L543.3 1193.1M534.9 1178.5L526.4 1193.1M534.9 1178.5L543.3 1163.9M534.9 1178.5L526.4 1163.9M585.5 1207.7L568.6 1207.7M585.5 1207.7L602.3 1207.7M585.5 1207.7L593.9 1222.3M585.5 1207.7L577 1222.3M585.5 1207.7L593.9 1193.1M585.5 1207.7L577 1193.1M383.1 1149.3L366.3 1149.3M383.1 1149.3L400 1149.3M383.1 1149.3L391.6 1163.9M383.1 1149.3L374.7 1163.9M383.1 1149.3L391.6 1134.7M383.1 1149.3L374.7 1134.7M433.7 1178.5L416.9 1178.5M433.7 1178.5L450.6 1178.5M433.7 1178.5L442.2 1193.1M433.7 1178.5L425.3 1193.1M433.7 1178.5L442.2 1163.9M433.7 1178.5L425.3 1163.9M484.3 1207.7L467.4 1207.7M484.3 1207.7L501.2 1207.7M484.3 1207.7L492.7 1222.3M484.3 1207.7L475.9 1222.3M484.3 1207.7L492.7 1193.1M484.3 1207.7L475.9 1193.1M534.9 1236.9L518 1236.9M534.9 1236.9L551.7 1236.9M534.9 1236.9L543.3 1251.5M534.9 1236.9L526.4 1251.5M534.9 1236.9L543.3 1222.3M534.9 1236.9L526.4 1222.3M585.5 1266.1L568.6 1266.1M585.5 1266.1L602.3 1266.1M585.5 1266.1L593.9 1280.7M585.5 1266.1L577 1280.7M585.5 1266.1L593.9 1251.5M585.5 1266.1L577 1251.5M383.1 1207.7L366.3 1207.7M383.1 1207.7L400 1207.7M383.1 1207.7L391.6 1222.3M383.1 1207.7L374.7 1222.3M383.1 1207.7L391.6 1193.1M383.1 1207.7L374.7 1193.1M433.7 1236.9L416.9 1236.9M433.7 1236.9L450.6 1236.9M433.7 1236.9L442.2 1251.5M433.7 1236.9L425.3 1251.5M433.7 1236.9L442.2 1222.3M433.7 1236.9L425.3 1222.3M484.3 1266.1L467.4 1266.1M484.3 1266.1L501.2 1266.1M484.3 1266.1L492.7 1280.7M484.3 1266.1L475.9 1280.7M484.3 1266.1L492.7 1251.5M484.3 1266.1L475.9 1251.5M534.9 1295.3L518 1295.3M534.9 1295.3L551.7 1295.3M534.9 1295.3L543.3 1309.9M534.9 1295.3L526.4 1309.9M534.9 1295.3L543.3 1280.7M534.9 1295.3L526.4 1280.7M585.5 1324.5L568.6 1324.5M585.5 1324.5L602.3 1324.5M585.5 1324.5L593.9 1339.1M585.5 1324.5L577 1339.1M585.5 1324.5L593.9 1309.9M585.5 1324.5L577 1309.9M383.1 1266.1L366.3 1266.1M383.1 1266.1L400 1266.1M383.1 1266.1L391.6 1280.7M383.1 1266.1L374.7 1280.7M383.1 1266.1L391.6 1251.5M383.1 1266.1L374.7 1251.5M433.7 1295.3L416.9 1295.3M433.7 1295.3L450.6 1295.3M433.7 1295.3L442.2 1309.9M433.7 1295.3L425.3 1309.9M433.7 1295.3L442.2 1280.7M433.7 1295.3L425.3 1280.7M484.3 1324.5L467.4 1324.5M484.3 1324.5L501.2 1324.5M484.3 1324.5L492.7 1339.1M484.3 1324.5L475.9 1339.1M484.3 1324.5L492.7 1309.9M484.3 1324.5L475.9 1309.9M383.1 1324.5L366.3 1324.5M383.1 1324.5L400 1324.5M383.1 1324.5L391.6 1339.1M383.1 1324.5L374.7 1339.1M383.1 1324.5L391.6 1309.9M383.1 1324.5L374.7 1309.9" stroke="#167a16" stroke-width="2.9" fill="none"/><circle cx="349.4" cy="1149.3" r="7.9" fill="url(#gO)"/><circle cx="349.4" cy="1207.7" r="7.9" fill="url(#gO)"/><circle cx="349.4" cy="1266.1" r="7.9" fill="url(#gO)"/><circle cx="349.4" cy="1324.5" r="7.9" fill="url(#gO)"/><circle cx="366.3" cy="1178.5" r="7.9" fill="url(#gO)"/><circle cx="366.3" cy="1236.9" r="7.9" fill="url(#gO)"/><circle cx="366.3" cy="1295.3" r="7.9" fill="url(#gO)"/><circle cx="400" cy="1178.5" r="7.9" fill="url(#gO)"/><circle cx="400" cy="1236.9" r="7.9" fill="url(#gO)"/><circle cx="400" cy="1295.3" r="7.9" fill="url(#gO)"/><circle cx="416.9" cy="1149.3" r="7.9" fill="url(#gO)"/><circle cx="416.9" cy="1207.7" r="7.9" fill="url(#gO)"/><circle cx="416.9" cy="1266.1" r="7.9" fill="url(#gO)"/><circle cx="416.9" cy="1324.5" r="7.9" fill="url(#gO)"/><circle cx="450.6" cy="1149.3" r="7.9" fill="url(#gO)"/><circle cx="450.6" cy="1207.7" r="7.9" fill="url(#gO)"/><circle cx="450.6" cy="1266.1" r="7.9" fill="url(#gO)"/><circle cx="450.6" cy="1324.5" r="7.9" fill="url(#gO)"/><circle cx="467.4" cy="1178.5" r="7.9" fill="url(#gO)"/><circle cx="467.4" cy="1236.9" r="7.9" fill="url(#gO)"/><circle cx="467.4" cy="1295.3" r="7.9" fill="url(#gO)"/><circle cx="501.2" cy="1178.5" r="7.9" fill="url(#gO)"/><circle cx="501.2" cy="1236.9" r="7.9" fill="url(#gO)"/><circle cx="501.2" cy="1295.3" r="7.9" fill="url(#gO)"/><circle cx="518" cy="1149.3" r="7.9" fill="url(#gO)"/><circle cx="518" cy="1207.7" r="7.9" fill="url(#gO)"/><circle cx="518" cy="1266.1" r="7.9" fill="url(#gO)"/><circle cx="518" cy="1324.5" r="7.9" fill="url(#gO)"/><circle cx="551.7" cy="1149.3" r="7.9" fill="url(#gO)"/><circle cx="551.7" cy="1207.7" r="7.9" fill="url(#gO)"/><circle cx="551.7" cy="1266.1" r="7.9" fill="url(#gO)"/><circle cx="551.7" cy="1324.5" r="7.9" fill="url(#gO)"/><circle cx="568.6" cy="1178.5" r="7.9" fill="url(#gO)"/><circle cx="568.6" cy="1236.9" r="7.9" fill="url(#gO)"/><circle cx="568.6" cy="1295.3" r="7.9" fill="url(#gO)"/><circle cx="602.3" cy="1178.5" r="7.9" fill="url(#gO)"/><circle cx="602.3" cy="1236.9" r="7.9" fill="url(#gO)"/><circle cx="602.3" cy="1295.3" r="7.9" fill="url(#gO)"/><circle cx="619.2" cy="1149.3" r="7.9" fill="url(#gO)"/><circle cx="619.2" cy="1207.7" r="7.9" fill="url(#gO)"/><circle cx="619.2" cy="1266.1" r="7.9" fill="url(#gO)"/><circle cx="619.2" cy="1324.5" r="7.9" fill="url(#gO)"/><circle cx="585.5" cy="1149.3" r="7.9" fill="url(#gG)"/><circle cx="484.3" cy="1149.3" r="7.9" fill="url(#gG)"/><circle cx="534.9" cy="1178.5" r="7.9" fill="url(#gG)"/><circle cx="585.5" cy="1207.7" r="7.9" fill="url(#gG)"/><circle cx="383.1" cy="1149.3" r="7.9" fill="url(#gG)"/><circle cx="433.7" cy="1178.5" r="7.9" fill="url(#gG)"/><circle cx="484.3" cy="1207.7" r="7.9" fill="url(#gG)"/><circle cx="585.5" cy="1266.1" r="7.9" fill="url(#gG)"/><circle cx="383.1" cy="1207.7" r="7.9" fill="url(#gG)"/><circle cx="484.3" cy="1266.1" r="7.9" fill="url(#gG)"/><circle cx="534.9" cy="1295.3" r="7.9" fill="url(#gG)"/><circle cx="585.5" cy="1324.5" r="7.9" fill="url(#gG)"/><circle cx="383.1" cy="1266.1" r="7.9" fill="url(#gG)"/><circle cx="433.7" cy="1295.3" r="7.9" fill="url(#gG)"/><circle cx="484.3" cy="1324.5" r="7.9" fill="url(#gG)"/><circle cx="383.1" cy="1324.5" r="7.9" fill="url(#gG)"/><g filter="url(#m2)" fill="#fff"><g filter="url(#b2)" opacity="0.4"><path d="M384 1237C384 1232.1 385.3 1226.5 387.5 1222.2C389.7 1217.8 393.4 1214.6 397.4 1210.8C401.4 1207.1 407.1 1201.6 411.6 1199.5C416.1 1197.4 419.4 1198.8 424.3 1198.1C429.3 1197.4 435.7 1195 441.3 1195.3C447 1195.5 453.6 1197.1 458.3 1199.5C463.1 1201.9 466.8 1206.1 469.7 1209.4C472.5 1212.7 473.8 1217.3 475.3 1219.3C476.9 1221.3 476.5 1222.2 478.9 1221.5C481.2 1220.8 485.8 1217.3 489.5 1215.1C493.2 1212.8 496.6 1209.5 500.8 1208C505.1 1206.5 511.2 1207.5 515 1205.9C518.8 1204.2 519 1200.2 523.5 1198.1C528 1196 536.3 1193.4 541.9 1193.1C547.6 1192.9 552.8 1194.4 557.5 1196.7C562.2 1198.9 567 1202.8 570.3 1206.6C573.6 1210.4 575.5 1214.1 577.3 1219.3C579.2 1224.5 581.6 1231.6 581.6 1237.8C581.6 1243.9 579.2 1251.2 577.3 1256.2C575.5 1261.1 573.6 1264 570.3 1267.5C567 1271 562.2 1275.1 557.5 1277.4C552.8 1279.8 547.1 1281.9 541.9 1281.7C536.7 1281.4 530.6 1278.4 526.3 1276C522.1 1273.6 520.7 1269.4 516.4 1267.5C512.2 1265.6 505.6 1266.1 500.8 1264.7C496.1 1263.3 491.7 1261 488.1 1259C484.4 1257 481.5 1252.2 478.9 1252.6C476.3 1253.1 475.2 1258.6 472.5 1261.8C469.8 1265 467.3 1268.9 462.6 1271.8C457.9 1274.6 450.5 1278.2 444.2 1278.8C437.8 1279.4 429.5 1276.1 424.3 1275.3C419.1 1274.5 417.5 1275.9 413 1273.9C408.5 1271.9 401.7 1266.9 397.4 1263.3C393.2 1259.6 389.7 1256.3 387.5 1251.9C385.3 1247.6 384 1242 384 1237z"/><ellipse cx="472.5" cy="1174" rx="17" ry="13.5" transform="rotate(25 472.5 1174)"/><ellipse cx="571.2" cy="1175.4" rx="10.5" ry="9" transform="rotate(15 571.2 1175.4)"/><ellipse cx="360.6" cy="1237" rx="10.5" ry="12.5"/><ellipse cx="472.5" cy="1300" rx="17" ry="13.5" transform="rotate(-25 472.5 1300)"/><ellipse cx="571.2" cy="1298.7" rx="10.5" ry="9" transform="rotate(-15 571.2 1298.7)"/></g><g filter="url(#b6)" opacity="0.11"><ellipse cx="434" cy="1237" rx="35" ry="35"/><ellipse cx="534.8" cy="1237" rx="35" ry="35"/></g><g filter="url(#b5)"><ellipse cx="434" cy="1237.5" rx="23.5" ry="18.5"/><ellipse cx="430" cy="1237.5" rx="15" ry="21" opacity="0.5"/><ellipse cx="535.5" cy="1237" rx="21.5" ry="21.5"/><ellipse cx="526" cy="1237" rx="14" ry="11"/></g></g><circle cx="434" cy="1237" r="13.9" fill="#f4f000"/><circle cx="434" cy="1237" r="13.1" fill="#28e628"/><circle cx="434" cy="1237" r="12.3" fill="#00d4ff"/><circle cx="434" cy="1237" r="11.5" fill="#1428ff"/><circle cx="434" cy="1237" r="10.3" fill="url(#gP)"/><circle cx="534.8" cy="1237" r="13.9" fill="#f4f000"/><circle cx="534.8" cy="1237" r="13.1" fill="#28e628"/><circle cx="534.8" cy="1237" r="12.3" fill="#00d4ff"/><circle cx="534.8" cy="1237" r="11.5" fill="#1428ff"/><circle cx="534.8" cy="1237" r="10.3" fill="url(#gP)"/></g><rect x="353.2" y="1149.5" width="262.7" height="175.8" fill="none" stroke="#333" stroke-width="1.1"/><text x="361.5" y="1187.5" font-size="42" font-weight="bold">t</text>
<clipPath id="cp10"><rect x="637.7" y="1149.5" width="261.7" height="175.8"/></clipPath><g clip-path="url(#cp10)"><path d="M830.6 1134.7L839 1149.3M813.7 1134.7L805.3 1149.3M855.9 1149.3L839 1149.3M889.6 1149.3L906.5 1149.3M881.2 1163.9L889.6 1178.5M864.3 1163.9L855.9 1178.5M906.5 1178.5L889.6 1178.5M729.5 1134.7L737.9 1149.3M712.6 1134.7L704.2 1149.3M754.7 1149.3L737.9 1149.3M788.5 1149.3L805.3 1149.3M780 1163.9L788.5 1178.5M763.2 1163.9L754.7 1178.5M805.3 1178.5L788.5 1178.5M839 1178.5L855.9 1178.5M830.6 1193.1L839 1207.7M813.7 1193.1L805.3 1207.7M830.6 1163.9L839 1149.3M813.7 1163.9L805.3 1149.3M855.9 1207.7L839 1207.7M889.6 1207.7L906.5 1207.7M881.2 1222.3L889.6 1236.9M864.3 1222.3L855.9 1236.9M881.2 1193.1L889.6 1178.5M864.3 1193.1L855.9 1178.5M906.5 1236.9L889.6 1236.9M628.3 1134.7L636.7 1149.3M653.6 1149.3L636.7 1149.3M687.3 1149.3L704.2 1149.3M678.9 1163.9L687.3 1178.5M662 1163.9L653.6 1178.5M704.2 1178.5L687.3 1178.5M737.9 1178.5L754.7 1178.5M729.5 1193.1L737.9 1207.7M712.6 1193.1L704.2 1207.7M729.5 1163.9L737.9 1149.3M712.6 1163.9L704.2 1149.3M754.7 1207.7L737.9 1207.7M788.5 1207.7L805.3 1207.7M780 1222.3L788.5 1236.9M763.2 1222.3L754.7 1236.9M780 1193.1L788.5 1178.5M763.2 1193.1L754.7 1178.5M805.3 1236.9L788.5 1236.9M839 1236.9L855.9 1236.9M830.6 1251.5L839 1266.1M813.7 1251.5L805.3 1266.1M830.6 1222.3L839 1207.7M813.7 1222.3L805.3 1207.7M855.9 1266.1L839 1266.1M889.6 1266.1L906.5 1266.1M881.2 1280.7L889.6 1295.3M864.3 1280.7L855.9 1295.3M881.2 1251.5L889.6 1236.9M864.3 1251.5L855.9 1236.9M906.5 1295.3L889.6 1295.3M636.7 1178.5L653.6 1178.5M628.3 1193.1L636.7 1207.7M628.3 1163.9L636.7 1149.3M653.6 1207.7L636.7 1207.7M687.3 1207.7L704.2 1207.7M678.9 1222.3L687.3 1236.9M662 1222.3L653.6 1236.9M678.9 1193.1L687.3 1178.5M662 1193.1L653.6 1178.5M704.2 1236.9L687.3 1236.9M737.9 1236.9L754.7 1236.9M729.5 1251.5L737.9 1266.1M712.6 1251.5L704.2 1266.1M729.5 1222.3L737.9 1207.7M712.6 1222.3L704.2 1207.7M754.7 1266.1L737.9 1266.1M788.5 1266.1L805.3 1266.1M780 1280.7L788.5 1295.3M763.2 1280.7L754.7 1295.3M780 1251.5L788.5 1236.9M763.2 1251.5L754.7 1236.9M805.3 1295.3L788.5 1295.3M839 1295.3L855.9 1295.3M830.6 1309.9L839 1324.5M813.7 1309.9L805.3 1324.5M830.6 1280.7L839 1266.1M813.7 1280.7L805.3 1266.1M855.9 1324.5L839 1324.5M889.6 1324.5L906.5 1324.5M881.2 1309.9L889.6 1295.3M864.3 1309.9L855.9 1295.3M636.7 1236.9L653.6 1236.9M628.3 1251.5L636.7 1266.1M628.3 1222.3L636.7 1207.7M653.6 1266.1L636.7 1266.1M687.3 1266.1L704.2 1266.1M678.9 1280.7L687.3 1295.3M662 1280.7L653.6 1295.3M678.9 1251.5L687.3 1236.9M662 1251.5L653.6 1236.9M704.2 1295.3L687.3 1295.3M737.9 1295.3L754.7 1295.3M729.5 1309.9L737.9 1324.5M712.6 1309.9L704.2 1324.5M729.5 1280.7L737.9 1266.1M712.6 1280.7L704.2 1266.1M754.7 1324.5L737.9 1324.5M788.5 1324.5L805.3 1324.5M780 1309.9L788.5 1295.3M763.2 1309.9L754.7 1295.3M830.6 1339.1L839 1324.5M813.7 1339.1L805.3 1324.5M636.7 1295.3L653.6 1295.3M628.3 1309.9L636.7 1324.5M628.3 1280.7L636.7 1266.1M653.6 1324.5L636.7 1324.5M687.3 1324.5L704.2 1324.5M678.9 1309.9L687.3 1295.3M662 1309.9L653.6 1295.3M729.5 1339.1L737.9 1324.5M712.6 1339.1L704.2 1324.5M628.3 1339.1L636.7 1324.5" stroke="#e0881c" stroke-width="2.9" fill="none"/><path d="M872.8 1149.3L855.9 1149.3M872.8 1149.3L889.6 1149.3M872.8 1149.3L881.2 1163.9M872.8 1149.3L864.3 1163.9M872.8 1149.3L881.2 1134.7M872.8 1149.3L864.3 1134.7M771.6 1149.3L754.7 1149.3M771.6 1149.3L788.5 1149.3M771.6 1149.3L780 1163.9M771.6 1149.3L763.2 1163.9M771.6 1149.3L780 1134.7M771.6 1149.3L763.2 1134.7M822.2 1178.5L805.3 1178.5M822.2 1178.5L839 1178.5M822.2 1178.5L830.6 1193.1M822.2 1178.5L813.7 1193.1M822.2 1178.5L830.6 1163.9M822.2 1178.5L813.7 1163.9M872.8 1207.7L855.9 1207.7M872.8 1207.7L889.6 1207.7M872.8 1207.7L881.2 1222.3M872.8 1207.7L864.3 1222.3M872.8 1207.7L881.2 1193.1M872.8 1207.7L864.3 1193.1M670.4 1149.3L653.6 1149.3M670.4 1149.3L687.3 1149.3M670.4 1149.3L678.9 1163.9M670.4 1149.3L662 1163.9M670.4 1149.3L678.9 1134.7M670.4 1149.3L662 1134.7M721 1178.5L704.2 1178.5M721 1178.5L737.9 1178.5M721 1178.5L729.5 1193.1M721 1178.5L712.6 1193.1M721 1178.5L729.5 1163.9M721 1178.5L712.6 1163.9M771.6 1207.7L754.7 1207.7M771.6 1207.7L788.5 1207.7M771.6 1207.7L780 1222.3M771.6 1207.7L763.2 1222.3M771.6 1207.7L780 1193.1M771.6 1207.7L763.2 1193.1M822.2 1236.9L805.3 1236.9M822.2 1236.9L839 1236.9M822.2 1236.9L830.6 1251.5M822.2 1236.9L813.7 1251.5M822.2 1236.9L830.6 1222.3M822.2 1236.9L813.7 1222.3M872.8 1266.1L855.9 1266.1M872.8 1266.1L889.6 1266.1M872.8 1266.1L881.2 1280.7M872.8 1266.1L864.3 1280.7M872.8 1266.1L881.2 1251.5M872.8 1266.1L864.3 1251.5M619.9 1178.5L636.7 1178.5M670.4 1207.7L653.6 1207.7M670.4 1207.7L687.3 1207.7M670.4 1207.7L678.9 1222.3M670.4 1207.7L662 1222.3M670.4 1207.7L678.9 1193.1M670.4 1207.7L662 1193.1M721 1236.9L704.2 1236.9M721 1236.9L737.9 1236.9M721 1236.9L729.5 1251.5M721 1236.9L712.6 1251.5M721 1236.9L729.5 1222.3M721 1236.9L712.6 1222.3M771.6 1266.1L754.7 1266.1M771.6 1266.1L788.5 1266.1M771.6 1266.1L780 1280.7M771.6 1266.1L763.2 1280.7M771.6 1266.1L780 1251.5M771.6 1266.1L763.2 1251.5M822.2 1295.3L805.3 1295.3M822.2 1295.3L839 1295.3M822.2 1295.3L830.6 1309.9M822.2 1295.3L813.7 1309.9M822.2 1295.3L830.6 1280.7M822.2 1295.3L813.7 1280.7M872.8 1324.5L855.9 1324.5M872.8 1324.5L889.6 1324.5M872.8 1324.5L881.2 1339.1M872.8 1324.5L864.3 1339.1M872.8 1324.5L881.2 1309.9M872.8 1324.5L864.3 1309.9M619.9 1236.9L636.7 1236.9M670.4 1266.1L653.6 1266.1M670.4 1266.1L687.3 1266.1M670.4 1266.1L678.9 1280.7M670.4 1266.1L662 1280.7M670.4 1266.1L678.9 1251.5M670.4 1266.1L662 1251.5M721 1295.3L704.2 1295.3M721 1295.3L737.9 1295.3M721 1295.3L729.5 1309.9M721 1295.3L712.6 1309.9M721 1295.3L729.5 1280.7M721 1295.3L712.6 1280.7M771.6 1324.5L754.7 1324.5M771.6 1324.5L788.5 1324.5M771.6 1324.5L780 1339.1M771.6 1324.5L763.2 1339.1M771.6 1324.5L780 1309.9M771.6 1324.5L763.2 1309.9M619.9 1295.3L636.7 1295.3M670.4 1324.5L653.6 1324.5M670.4 1324.5L687.3 1324.5M670.4 1324.5L678.9 1339.1M670.4 1324.5L662 1339.1M670.4 1324.5L678.9 1309.9M670.4 1324.5L662 1309.9" stroke="#167a16" stroke-width="2.9" fill="none"/><circle cx="636.7" cy="1149.3" r="7.9" fill="url(#gO)"/><circle cx="636.7" cy="1207.7" r="7.9" fill="url(#gO)"/><circle cx="636.7" cy="1266.1" r="7.9" fill="url(#gO)"/><circle cx="636.7" cy="1324.5" r="7.9" fill="url(#gO)"/><circle cx="653.6" cy="1178.5" r="7.9" fill="url(#gO)"/><circle cx="653.6" cy="1236.9" r="7.9" fill="url(#gO)"/><circle cx="653.6" cy="1295.3" r="7.9" fill="url(#gO)"/><circle cx="687.3" cy="1178.5" r="7.9" fill="url(#gO)"/><circle cx="687.3" cy="1236.9" r="7.9" fill="url(#gO)"/><circle cx="687.3" cy="1295.3" r="7.9" fill="url(#gO)"/><circle cx="704.2" cy="1149.3" r="7.9" fill="url(#gO)"/><circle cx="704.2" cy="1207.7" r="7.9" fill="url(#gO)"/><circle cx="704.2" cy="1266.1" r="7.9" fill="url(#gO)"/><circle cx="704.2" cy="1324.5" r="7.9" fill="url(#gO)"/><circle cx="737.9" cy="1149.3" r="7.9" fill="url(#gO)"/><circle cx="737.9" cy="1207.7" r="7.9" fill="url(#gO)"/><circle cx="737.9" cy="1266.1" r="7.9" fill="url(#gO)"/><circle cx="737.9" cy="1324.5" r="7.9" fill="url(#gO)"/><circle cx="754.7" cy="1178.5" r="7.9" fill="url(#gO)"/><circle cx="754.7" cy="1236.9" r="7.9" fill="url(#gO)"/><circle cx="754.7" cy="1295.3" r="7.9" fill="url(#gO)"/><circle cx="788.5" cy="1178.5" r="7.9" fill="url(#gO)"/><circle cx="788.5" cy="1236.9" r="7.9" fill="url(#gO)"/><circle cx="788.5" cy="1295.3" r="7.9" fill="url(#gO)"/><circle cx="805.3" cy="1149.3" r="7.9" fill="url(#gO)"/><circle cx="805.3" cy="1207.7" r="7.9" fill="url(#gO)"/><circle cx="805.3" cy="1266.1" r="7.9" fill="url(#gO)"/><circle cx="805.3" cy="1324.5" r="7.9" fill="url(#gO)"/><circle cx="839" cy="1149.3" r="7.9" fill="url(#gO)"/><circle cx="839" cy="1207.7" r="7.9" fill="url(#gO)"/><circle cx="839" cy="1266.1" r="7.9" fill="url(#gO)"/><circle cx="839" cy="1324.5" r="7.9" fill="url(#gO)"/><circle cx="855.9" cy="1178.5" r="7.9" fill="url(#gO)"/><circle cx="855.9" cy="1236.9" r="7.9" fill="url(#gO)"/><circle cx="855.9" cy="1295.3" r="7.9" fill="url(#gO)"/><circle cx="889.6" cy="1178.5" r="7.9" fill="url(#gO)"/><circle cx="889.6" cy="1236.9" r="7.9" fill="url(#gO)"/><circle cx="889.6" cy="1295.3" r="7.9" fill="url(#gO)"/><circle cx="906.5" cy="1149.3" r="7.9" fill="url(#gO)"/><circle cx="906.5" cy="1207.7" r="7.9" fill="url(#gO)"/><circle cx="906.5" cy="1266.1" r="7.9" fill="url(#gO)"/><circle cx="906.5" cy="1324.5" r="7.9" fill="url(#gO)"/><circle cx="872.8" cy="1149.3" r="7.9" fill="url(#gG)"/><circle cx="771.6" cy="1149.3" r="7.9" fill="url(#gG)"/><circle cx="822.2" cy="1178.5" r="7.9" fill="url(#gG)"/><circle cx="872.8" cy="1207.7" r="7.9" fill="url(#gG)"/><circle cx="670.4" cy="1149.3" r="7.9" fill="url(#gG)"/><circle cx="721" cy="1178.5" r="7.9" fill="url(#gG)"/><circle cx="771.6" cy="1207.7" r="7.9" fill="url(#gG)"/><circle cx="872.8" cy="1266.1" r="7.9" fill="url(#gG)"/><circle cx="670.4" cy="1207.7" r="7.9" fill="url(#gG)"/><circle cx="771.6" cy="1266.1" r="7.9" fill="url(#gG)"/><circle cx="822.2" cy="1295.3" r="7.9" fill="url(#gG)"/><circle cx="872.8" cy="1324.5" r="7.9" fill="url(#gG)"/><circle cx="670.4" cy="1266.1" r="7.9" fill="url(#gG)"/><circle cx="721" cy="1295.3" r="7.9" fill="url(#gG)"/><circle cx="771.6" cy="1324.5" r="7.9" fill="url(#gG)"/><circle cx="670.4" cy="1324.5" r="7.9" fill="url(#gG)"/><g filter="url(#m2)" fill="#fff"><g filter="url(#b2)" opacity="0.4"><path d="M674.5 1237C674.5 1232.1 675.1 1226.3 676.7 1222.2C678.2 1218 681.6 1214.8 683.8 1212.3C685.9 1209.7 688.5 1209.2 689.4 1206.6C690.4 1204 688.7 1199.4 689.4 1196.7C690.1 1194 691.5 1191.5 693.7 1190.3C695.8 1189.1 699.3 1189.5 702.2 1189.6C705 1189.7 707.4 1191.2 710.7 1191C714 1190.8 718.2 1188.8 722 1188.2C725.8 1187.6 729.6 1187 733.3 1187.5C737.1 1187.9 741.4 1188.8 744.7 1191C748 1193.2 750.7 1196.9 753.2 1200.9C755.7 1204.9 758.1 1209.1 759.5 1215.1C761 1221.1 761.7 1229.7 761.7 1237C761.7 1244.4 761 1253 759.5 1259C758.1 1265 755.7 1269.2 753.2 1273.2C750.7 1277.2 748 1280.8 744.7 1283.1C741.4 1285.3 737.1 1286.2 733.3 1286.6C729.6 1287.1 725.8 1286.5 722 1285.9C718.2 1285.3 714 1283.3 710.7 1283.1C707.4 1282.9 705 1284.4 702.2 1284.5C699.3 1284.6 695.8 1285 693.7 1283.8C691.5 1282.6 690.1 1280.1 689.4 1277.4C688.7 1274.7 690.4 1270.1 689.4 1267.5C688.5 1264.9 685.9 1264.4 683.8 1261.8C681.6 1259.2 678.2 1256.1 676.7 1251.9C675.1 1247.8 674.5 1242 674.5 1237z"/><path d="M777.3 1237C777.3 1232.1 777.7 1226.8 779.4 1222.2C781 1217.6 783.5 1213.2 787.2 1209.4C790.8 1205.6 796.6 1202.2 801.3 1199.5C806.1 1196.8 810.8 1194.8 815.5 1193.1C820.2 1191.5 825 1189.5 829.7 1189.6C834.4 1189.7 839.6 1191.5 843.8 1193.8C848.1 1196.2 852.3 1199.5 855.2 1203.8C858 1208 860.1 1213.8 860.8 1219.3C861.5 1224.9 859.4 1231.1 859.4 1237C859.4 1242.9 861.5 1249.2 860.8 1254.8C860.1 1260.3 858 1266.1 855.2 1270.3C852.3 1274.6 848.1 1277.9 843.8 1280.3C839.6 1282.6 834.4 1284.4 829.7 1284.5C825 1284.6 820.2 1282.6 815.5 1281C810.8 1279.3 806.1 1277.3 801.3 1274.6C796.6 1271.9 790.8 1268.4 787.2 1264.7C783.5 1260.9 781 1256.5 779.4 1251.9C777.7 1247.3 777.3 1242 777.3 1237z"/><ellipse cx="758.8" cy="1174.7" rx="7.5" ry="7"/><ellipse cx="858.7" cy="1172.3" rx="7.5" ry="7"/><ellipse cx="649" cy="1237" rx="9" ry="11.5"/><ellipse cx="758.8" cy="1298.7" rx="7.5" ry="7"/><ellipse cx="858.7" cy="1301.5" rx="7.5" ry="7"/><ellipse cx="872.6" cy="1237.2" rx="2.2" ry="2.6"/></g><g filter="url(#b6)" opacity="0.11"><ellipse cx="721" cy="1237" rx="35" ry="35"/><ellipse cx="822.2" cy="1237" rx="35" ry="35"/></g><g filter="url(#b5)"><ellipse cx="723" cy="1237" rx="18" ry="22.5"/><ellipse cx="727" cy="1237" rx="22" ry="14" opacity="0.45"/><ellipse cx="822.5" cy="1237" rx="24" ry="26" opacity="0.54"/></g></g><circle cx="721" cy="1237" r="13.9" fill="#f4f000"/><circle cx="721" cy="1237" r="13.1" fill="#28e628"/><circle cx="721" cy="1237" r="12.3" fill="#00d4ff"/><circle cx="721" cy="1237" r="11.5" fill="#1428ff"/><circle cx="721" cy="1237" r="10.3" fill="url(#gP)"/><circle cx="822.2" cy="1237" r="13.9" fill="#f4f000"/><circle cx="822.2" cy="1237" r="13.1" fill="#28e628"/><circle cx="822.2" cy="1237" r="12.3" fill="#00d4ff"/><circle cx="822.2" cy="1237" r="11.5" fill="#1428ff"/><circle cx="822.2" cy="1237" r="10.3" fill="url(#gP)"/></g><rect x="637.7" y="1149.5" width="261.7" height="175.8" fill="none" stroke="#333" stroke-width="1.1"/><text x="645.5" y="1187.5" font-size="42" font-weight="bold">u</text>
</g>
<g id="pdos">
<path d="M984.86 720.2v5.5M1013.8 720.2v9.5M1042.74 720.2v5.5M1071.68 720.2v5.5M1100.62 720.2v5.5M1129.56 720.2v5.5M1158.5 720.2v9.5M1187.44 720.2v5.5M1216.38 720.2v5.5M1245.32 720.2v5.5M1274.26 720.2v5.5M1303.2 720.2v9.5M1332.14 720.2v5.5M984.86 925.8v-5.5M984.86 925.8v5.5M1013.8 925.8v-9.5M1013.8 925.8v9.5M1042.74 925.8v-5.5M1042.74 925.8v5.5M1071.68 925.8v-5.5M1071.68 925.8v5.5M1100.62 925.8v-5.5M1100.62 925.8v5.5M1129.56 925.8v-5.5M1129.56 925.8v5.5M1158.5 925.8v-9.5M1158.5 925.8v9.5M1187.44 925.8v-5.5M1187.44 925.8v5.5M1216.38 925.8v-5.5M1216.38 925.8v5.5M1245.32 925.8v-5.5M1245.32 925.8v5.5M1274.26 925.8v-5.5M1274.26 925.8v5.5M1303.2 925.8v-9.5M1303.2 925.8v9.5M1332.14 925.8v-5.5M1332.14 925.8v5.5M984.86 1130.5v-5.5M984.86 1130.5v5.5M1013.8 1130.5v-9.5M1013.8 1130.5v9.5M1042.74 1130.5v-5.5M1042.74 1130.5v5.5M1071.68 1130.5v-5.5M1071.68 1130.5v5.5M1100.62 1130.5v-5.5M1100.62 1130.5v5.5M1129.56 1130.5v-5.5M1129.56 1130.5v5.5M1158.5 1130.5v-9.5M1158.5 1130.5v9.5M1187.44 1130.5v-5.5M1187.44 1130.5v5.5M1216.38 1130.5v-5.5M1216.38 1130.5v5.5M1245.32 1130.5v-5.5M1245.32 1130.5v5.5M1274.26 1130.5v-5.5M1274.26 1130.5v5.5M1303.2 1130.5v-9.5M1303.2 1130.5v9.5M1332.14 1130.5v-5.5M1332.14 1130.5v5.5M984.86 1334.8v-5.5M1013.8 1334.8v-9.5M1042.74 1334.8v-5.5M1071.68 1334.8v-5.5M1100.62 1334.8v-5.5M1129.56 1334.8v-5.5M1158.5 1334.8v-9.5M1187.44 1334.8v-5.5M1216.38 1334.8v-5.5M1245.32 1334.8v-5.5M1274.26 1334.8v-5.5M1303.2 1334.8v-9.5M1332.14 1334.8v-5.5M955.6 765.5h10M1362 765.5h-10M955.6 811.2h10M1362 811.2h-10M955.6 857h10M1362 857h-10M955.6 902h10M1362 902h-10M955.6 970.5h10M1362 970.5h-10M955.6 1016.2h10M1362 1016.2h-10M955.6 1062h10M1362 1062h-10M955.6 1107.3h10M1362 1107.3h-10M955.6 1175.7h10M1362 1175.7h-10M955.6 1220.9h10M1362 1220.9h-10M955.6 1266.2h10M1362 1266.2h-10M955.6 1311.4h10M1362 1311.4h-10" stroke="#000" stroke-width="1.7" fill="none"/>
<path d="M955.5 896.25C958.8 896.7 968.8 898.5 975 898.8C981.2 899 987.5 897.5 992.5 897.5C997.5 897.5 1000.8 898 1005 898.8C1009.2 899.5 1013.3 901.8 1017.5 902C1021.7 902.2 1025.8 901 1030 900C1034.2 899 1039.2 896.7 1042.5 895.8C1045.8 894.8 1046.7 893.8 1050 894.5C1053.3 895.2 1058.8 898.6 1062.5 900C1066.2 901.4 1069.2 902.7 1072.5 903C1075.8 903.3 1079.2 903.3 1082.5 902C1085.8 900.7 1089.2 898.5 1092.5 895C1095.8 891.5 1099.2 885.6 1102.5 881.2C1105.8 876.9 1109.8 871.2 1112.5 868.8C1115.2 866.2 1116.5 866.1 1118.8 866.2C1121 866.4 1123.5 866.8 1126.2 869.5C1129 872.2 1131.9 877.8 1135 882.5C1138.1 887.2 1141.7 894.1 1145 897.5C1148.3 900.9 1151.7 902.1 1155 903C1158.3 903.9 1157.5 903.2 1165 903C1172.5 902.8 1190.8 902.2 1200 902C1209.2 901.8 1213.8 901.7 1220 902C1226.2 902.3 1232.9 903.9 1237.5 903.8C1242.1 903.6 1244.6 904 1247.5 901.2C1250.4 898.5 1252.5 895.2 1255 887.5C1257.5 879.8 1260 866.7 1262.5 855C1265 843.3 1267.9 827.1 1270 817.5C1272.1 807.9 1273.1 802.7 1275 797.5C1276.9 792.3 1279.2 786 1281.2 786.2C1283.3 786.5 1285.6 792.7 1287.5 798.8C1289.4 804.8 1290.8 813.1 1292.5 822.5C1294.2 831.9 1295.6 844.6 1297.5 855C1299.4 865.4 1301.7 877.3 1303.8 885C1305.8 892.7 1307.9 897.9 1310 901.2C1312.1 904.6 1313.8 905.4 1316.2 905C1318.8 904.6 1321.9 901.5 1325 898.8C1328.1 896 1331.7 890.8 1335 888.8C1338.3 886.7 1341.7 886.2 1345 886.2C1348.3 886.2 1352.2 887.7 1355 888.8C1357.8 889.8 1360.8 891.9 1362 892.5" fill="none" stroke="#000" stroke-width="1.5" stroke-dasharray="5.5 2.6"/>
<path d="M955.83 1097.72C959.1 1098.3 967.1 1099.9 975.4 1101.5C983.7 1103.1 998.1 1107.1 1005.6 1107.3C1013.2 1107.5 1016.1 1104.8 1020.7 1102.8C1025.3 1100.7 1029.9 1096.3 1033.3 1095.2C1036.6 1094.2 1037.9 1095.1 1040.8 1096.5C1043.8 1097.8 1047.5 1101.5 1050.9 1103.3C1054.2 1105.1 1057.6 1107.4 1060.9 1107.3C1064.3 1107.2 1067.6 1106 1071 1102.8C1074.4 1099.5 1077.3 1093.9 1081.1 1087.7C1084.8 1081.4 1090.5 1070.3 1093.6 1065C1096.8 1059.8 1097.7 1058.3 1100 1056.2C1102.3 1054.2 1105 1052.7 1107.5 1052.5C1110 1052.3 1112.9 1053.8 1115 1055C1117.1 1056.2 1117.3 1056.2 1120 1060C1122.8 1063.8 1127.4 1071.7 1131.4 1077.6C1135.3 1083.5 1139.7 1090.4 1143.9 1095.2C1148.1 1100 1152.7 1104.3 1156.5 1106.5C1160.3 1108.7 1161.1 1108.4 1166.6 1108.5C1172 1108.7 1181.2 1108.2 1189.2 1107.3C1197.2 1106.3 1207.6 1104.3 1214.3 1102.8C1221 1101.2 1225.2 1100.2 1229.4 1097.7C1233.6 1095.2 1236.6 1091.9 1239.5 1087.7C1242.4 1083.5 1244.7 1078.4 1247 1072.6C1249.4 1066.7 1251.6 1060.8 1253.8 1052.5C1255.9 1044.2 1257.7 1032.9 1260 1022.5C1262.3 1012.1 1265.4 998.1 1267.5 990C1269.6 981.9 1270.6 978.3 1272.5 973.8C1274.4 969.2 1276.7 965 1278.8 962.5C1280.8 960 1282.9 958.8 1285 958.8C1287.1 958.8 1289.2 959 1291.2 962.5C1293.3 966 1295.6 972.5 1297.5 980C1299.4 987.5 1300.6 995.8 1302.5 1007.5C1304.4 1019.2 1307.1 1040 1308.8 1050C1310.4 1060 1311 1061.7 1312.4 1067.5C1313.9 1073.4 1315.4 1080.2 1317.4 1085.1C1319.5 1090.1 1321.6 1096 1325 1097.2C1328.3 1098.5 1333 1094.1 1337.6 1092.7C1342.2 1091.3 1348.6 1089 1352.7 1088.9C1356.7 1088.8 1360.2 1091.6 1361.7 1092.2" fill="none" stroke="#000" stroke-width="1.5" stroke-dasharray="5.5 2.6"/>
<path d="M955.83 1301.41C959.9 1301.9 972.2 1302.8 980.5 1304.4C988.8 1306.1 999.3 1310.9 1005.6 1311.5C1011.9 1312 1014 1309.3 1018.2 1307.7C1022.4 1306.2 1027 1302.9 1030.8 1302.2C1034.5 1301.5 1037.5 1302.6 1040.8 1303.4C1044.2 1304.2 1047.7 1306.5 1050.9 1306.9C1054 1307.4 1056.8 1308.1 1059.7 1305.9C1062.6 1303.8 1065.3 1298.8 1068.5 1293.9C1071.6 1288.9 1075.6 1280.5 1078.5 1276.3C1081.5 1272 1084 1269.8 1086.1 1268.2C1088.2 1266.7 1089 1266 1091.1 1267C1093.2 1267.9 1095.9 1270.5 1098.7 1273.8C1101.4 1277 1105 1283.7 1107.5 1286.3C1110 1289 1111.4 1289.8 1113.8 1289.6C1116.1 1289.4 1118.6 1287.3 1121.3 1285.1C1124 1282.8 1127.6 1278 1130.1 1276.3C1132.6 1274.5 1134.3 1274.1 1136.4 1274.5C1138.5 1274.9 1140.2 1275.1 1142.7 1278.8C1145.2 1282.4 1148.3 1291.4 1151.5 1296.4C1154.6 1301.4 1157.8 1306.1 1161.5 1309C1165.3 1311.8 1169.5 1313.3 1174.1 1313.5C1178.7 1313.7 1184.6 1311.1 1189.2 1310.2C1193.8 1309.4 1197.2 1308.9 1201.8 1308.5C1206.4 1308 1213.1 1308.7 1216.9 1307.7C1220.6 1306.7 1221.9 1305.6 1224.4 1302.7C1226.9 1299.7 1229.4 1293.7 1231.9 1290.1C1234.5 1286.5 1237 1283.6 1239.5 1281.3C1242 1279 1244.5 1278.4 1247 1276.3C1249.5 1274.2 1252.1 1273.8 1254.6 1268.7C1257.1 1263.7 1259.6 1255.7 1262.1 1246.1C1264.6 1236.5 1267.2 1220.9 1269.7 1210.9C1272.2 1200.8 1274.7 1192.2 1277.2 1185.7C1279.7 1179.2 1282.7 1174.8 1284.8 1171.9C1286.9 1169.1 1287.9 1168.4 1289.8 1168.6C1291.7 1168.8 1294 1168.6 1296.1 1173.2C1298.2 1177.7 1300.5 1186.2 1302.4 1195.8C1304.2 1205.4 1305.7 1219.3 1307.4 1231C1309.1 1242.7 1310.5 1255.7 1312.4 1266.2C1314.3 1276.7 1316.6 1287.6 1318.7 1293.9C1320.8 1300.2 1322.7 1302 1325 1303.9C1327.3 1305.8 1329.6 1306.7 1332.5 1305.2C1335.5 1303.7 1339.2 1297.2 1342.6 1295.1C1345.9 1293 1349.5 1292.6 1352.7 1292.6C1355.8 1292.6 1360.2 1294.7 1361.7 1295.1" fill="none" stroke="#000" stroke-width="1.5" stroke-dasharray="5.5 2.6"/>
<path d="M955.5 892.5C958.8 893.1 968.8 895.8 975 896.2C981.2 896.7 987.5 894.7 992.5 895C997.5 895.3 1000.8 897 1005 898C1009.2 899 1013.3 901.3 1017.5 901.2C1021.7 901.2 1025.8 899 1030 897.5C1034.2 896 1039.2 892.8 1042.5 892C1045.8 891.2 1046.7 891.8 1050 893C1053.3 894.2 1058.8 897.9 1062.5 899.5C1066.2 901.1 1069.6 902.6 1072.5 902.5C1075.4 902.4 1077.5 900.8 1080 898.8C1082.5 896.7 1085 894 1087.5 890C1090 886 1092.5 881.2 1095 875C1097.5 868.8 1100 860.4 1102.5 852.5C1105 844.6 1107.9 834 1110 827.5C1112.1 821 1113.4 817.4 1115 813.8C1116.6 810.1 1117.8 806.8 1119.5 805.8C1121.2 804.7 1123.2 805.1 1125 807.5C1126.8 809.9 1127.9 813.3 1130 820C1132.1 826.7 1135 838.3 1137.5 847.5C1140 856.7 1142.5 867.1 1145 875C1147.5 882.9 1150 890.2 1152.5 895C1155 899.8 1157.5 902.2 1160 903.8C1162.5 905.3 1164.2 904.4 1167.5 904.5C1170.8 904.6 1176.7 904.2 1180 904.5C1183.3 904.8 1185 905.8 1187.5 906.2C1190 906.8 1192.9 907.7 1195 907.5C1197.1 907.3 1198.3 907.1 1200 905C1201.7 902.9 1203.3 900 1205 895C1206.7 890 1208.3 882.9 1210 875C1211.7 867.1 1213.3 857.1 1215 847.5C1216.7 837.9 1218.5 825.4 1220 817.5C1221.5 809.6 1222.3 805.2 1223.8 800C1225.2 794.8 1226.9 787.7 1228.8 786.2C1230.6 784.8 1233.1 786.9 1235 791.2C1236.9 795.6 1238.3 804.4 1240 812.5C1241.7 820.6 1243.3 831.2 1245 840C1246.7 848.8 1247.9 857.1 1250 865C1252.1 872.9 1255 882.5 1257.5 887.5C1260 892.5 1262.9 893.8 1265 895C1267.1 896.2 1267.9 895.6 1270 895C1272.1 894.4 1275 892.1 1277.5 891.2C1280 890.4 1282.5 889.6 1285 890C1287.5 890.4 1289.6 892.3 1292.5 893.8C1295.4 895.2 1299.6 897.6 1302.5 898.8C1305.4 899.9 1307.1 900.8 1310 900.8C1312.9 900.8 1316.7 899.9 1320 898.8C1323.3 897.6 1326.2 895 1330 893.8C1333.8 892.5 1338.8 891.5 1342.5 891.2C1346.2 891 1349.2 891.6 1352.5 892C1355.8 892.4 1360.4 893.5 1362 893.8" fill="none" stroke="#000" stroke-width="3.1" stroke-linejoin="round"/>
<path d="M955.83 1092.69C959.1 1093.4 969.7 1095.8 975.4 1097.2C981.2 1098.7 985.5 1100 990.5 1101.5C995.6 1103 1001 1106 1005.6 1106C1010.2 1106 1014.8 1103.5 1018.2 1101.5C1021.5 1099.5 1023.2 1095.7 1025.7 1093.9C1028.3 1092.2 1030.8 1090.7 1033.3 1090.9C1035.8 1091.1 1037.9 1093.2 1040.8 1095.2C1043.8 1097.3 1048 1101.4 1050.9 1103.3C1053.8 1105.1 1055.9 1107 1058.4 1106.5C1060.9 1106 1063.5 1104.2 1066 1100.2C1068.5 1096.3 1071.2 1090.4 1073.5 1082.6C1075.9 1074.9 1077.3 1065.4 1080 1053.8C1082.7 1042.1 1087.1 1024 1090 1012.5C1092.9 1001 1095.2 991.9 1097.5 985C1099.8 978.1 1101.8 974.4 1103.8 971.2C1105.8 968.1 1107.2 966 1109.5 966.2C1111.8 966.5 1114.7 968.5 1117.5 972.5C1120.3 976.5 1123.3 982.9 1126.2 990C1129.2 997.1 1132.3 1005 1135 1015C1137.7 1025 1140 1037.5 1142.5 1050C1145 1062.5 1147.7 1080.5 1150.2 1090.2C1152.8 1099.8 1155.2 1103.9 1157.8 1107.8C1160.3 1111.7 1163.2 1112.5 1165.3 1113.6C1167.4 1114.6 1168.2 1114.6 1170.3 1114.1C1172.4 1113.5 1175.4 1113.4 1177.9 1110.3C1180.4 1107.2 1183.1 1101.1 1185.4 1095.2C1187.7 1089.3 1189.3 1083 1191.7 1075.1C1194.1 1067.1 1197.4 1056.7 1200 1047.5C1202.6 1038.3 1205 1026.5 1207.5 1020C1210 1013.5 1212.5 1011.2 1215 1008.8C1217.5 1006.2 1219.6 1006 1222.5 1005C1225.4 1004 1229.2 1004.8 1232.5 1002.5C1235.8 1000.2 1239.8 993.3 1242.5 991.2C1245.2 989.2 1246.7 988.5 1248.8 990C1250.8 991.5 1252.9 994.8 1255 1000C1257.1 1005.2 1259 1012.5 1261.2 1021.2C1263.5 1030 1266.9 1044.4 1268.8 1052.5C1270.6 1060.6 1270.8 1066 1272.2 1070.1C1273.6 1074.2 1275.1 1075.9 1277.2 1077.1C1279.3 1078.3 1282.2 1077.4 1284.8 1077.1C1287.3 1076.8 1290.2 1075 1292.3 1075.1C1294.4 1075.2 1295.2 1075.5 1297.3 1077.6C1299.4 1079.7 1302.1 1084.3 1304.9 1087.7C1307.6 1091 1310.7 1095.4 1313.7 1097.7C1316.6 1100 1319.3 1101.7 1322.5 1101.5C1325.6 1101.3 1328.8 1098.3 1332.5 1096.5C1336.3 1094.6 1340.2 1091.9 1345.1 1090.2C1350 1088.5 1358.9 1087 1361.7 1086.4" fill="none" stroke="#000" stroke-width="3.1" stroke-linejoin="round"/>
<path d="M955.83 1297.64C957.8 1298.2 963.8 1300.5 967.9 1300.9C972 1301.3 976.3 1299.7 980.5 1300.2C984.7 1300.7 988.9 1302.5 993 1303.9C997.2 1305.3 1002.3 1308.2 1005.6 1308.5C1009 1308.7 1009.8 1307.6 1013.2 1305.2C1016.5 1302.8 1022.4 1296 1025.7 1293.9C1029.1 1291.8 1030.3 1292 1033.3 1292.6C1036.2 1293.2 1040.4 1296.2 1043.3 1297.6C1046.3 1299.1 1048.8 1301.2 1050.9 1301.4C1053 1301.6 1054 1301.2 1055.9 1298.9C1057.8 1296.6 1060.1 1293 1062.2 1287.6C1064.3 1282.1 1066.6 1273.1 1068.5 1266.2C1070.4 1259.3 1071.8 1252.4 1073.5 1246.1C1075.2 1239.8 1076.7 1232.9 1078.5 1228.5C1080.4 1224.1 1082.7 1220.5 1084.8 1219.7C1086.9 1218.8 1088.8 1219.9 1091.1 1223.5C1093.4 1227 1095.9 1234 1098.7 1241.1C1101.4 1248.1 1105 1261.3 1107.5 1265.7C1110 1270.1 1111.7 1269.5 1113.8 1267.5C1115.8 1265.5 1117.9 1261 1120 1253.6C1122.1 1246.3 1124.4 1231.8 1126.3 1223.5C1128.2 1215.1 1129.7 1208.6 1131.4 1203.3C1133 1198.1 1134.5 1192 1136.4 1192C1138.3 1192 1140.8 1197.7 1142.7 1203.3C1144.6 1209 1146 1217.2 1147.7 1226C1149.4 1234.8 1150.8 1245.3 1152.7 1256.1C1154.6 1267 1156.9 1281.7 1159 1291.4C1161.1 1301 1163.2 1309 1165.3 1314C1167.4 1319 1169.5 1321.1 1171.6 1321.5C1173.7 1322 1176 1319.9 1177.9 1316.5C1179.8 1313.1 1181 1309.4 1182.9 1301.4C1184.8 1293.5 1187.1 1280.5 1189.2 1268.7C1191.3 1257 1193.6 1241.9 1195.5 1231C1197.4 1220.1 1198.7 1210 1200.5 1203.3C1202.3 1196.6 1204.4 1191.6 1206.3 1190.8C1208.2 1189.9 1209.9 1193.7 1211.8 1198.3C1213.8 1202.9 1216 1212.6 1218.1 1218.4C1220.2 1224.2 1222.4 1230.6 1224.4 1233C1226.4 1235.4 1228 1234.6 1229.9 1233C1231.8 1231.4 1233.9 1226.1 1235.7 1223.5C1237.5 1220.8 1238.9 1217 1240.7 1217.2C1242.6 1217.4 1244.9 1219.9 1247 1224.7C1249.1 1229.5 1251.2 1239.2 1253.3 1246.1C1255.4 1253 1257.7 1261 1259.6 1266.2C1261.5 1271.4 1262.8 1275.1 1264.6 1277.5C1266.5 1280 1268.4 1281.2 1270.9 1280.8C1273.4 1280.4 1277 1276.9 1279.7 1275C1282.4 1273.1 1285 1270.2 1287.3 1269.2C1289.6 1268.3 1291.5 1268.1 1293.6 1269.2C1295.7 1270.4 1297.5 1272.8 1299.8 1276.3C1302.1 1279.7 1304.7 1285.5 1307.4 1290.1C1310.1 1294.7 1313.5 1300.8 1316.2 1303.9C1318.9 1307.1 1321.4 1308.3 1323.7 1309C1326 1309.6 1327.7 1309.2 1330 1307.7C1332.3 1306.2 1334.6 1303.3 1337.6 1300.2C1340.5 1297 1344.7 1291.4 1347.6 1288.8C1350.6 1286.2 1352.8 1285.4 1355.2 1284.6C1357.5 1283.7 1360.6 1283.9 1361.7 1283.8" fill="none" stroke="#000" stroke-width="3.1" stroke-linejoin="round"/>
<rect x="955.6" y="720.2" width="406.4" height="614.6" fill="none" stroke="#000" stroke-width="1.8"/>
<path d="M955.6 925.8H1362M955.6 1130.5H1362" stroke="#000" stroke-width="2" fill="none"/>
<text x="984" y="792" font-size="22.5" font-style="italic">p<tspan dy="7.87" font-size="14.85">xy</tspan><tspan dy="-7.87">​</tspan></text>
<path d="M1017.5 787.7H1074" stroke="#000" stroke-width="3.6"/>
<text x="986.5" y="822" font-size="22.5" font-style="italic">p<tspan dy="7.87" font-size="14.85">z</tspan><tspan dy="-7.87">​</tspan></text>
<path d="M1018 817.2H1074.5" stroke="#000" stroke-width="1.5" stroke-dasharray="5.5 2.6"/>
<path d="M1107.97 775.4L1128.03 775.4L1118 792.3z" fill="none" stroke="#000" stroke-width="3.4" stroke-linejoin="miter"/>
<path d="M1218.06 755.3L1235.94 755.3L1227 770z" fill="none" stroke="#ff0000" stroke-width="3.2" stroke-linejoin="miter"/>
<path d="M1271.06 756.1L1288.94 756.1L1280 770.8z" fill="none" stroke="#0000ff" stroke-width="3.2" stroke-linejoin="miter"/>
<path d="M1098.67 937.4L1118.73 937.4L1108.7 954.3z" fill="none" stroke="#000" stroke-width="3.4" stroke-linejoin="miter"/>
<path d="M1274.76 932.8L1292.64 932.8L1283.7 947.5z" fill="none" stroke="#0000ff" stroke-width="3.2" stroke-linejoin="miter"/>
<path d="M1236.76 964.1L1254.64 964.1L1245.7 978.8z" fill="none" stroke="#ff0000" stroke-width="3.2" stroke-linejoin="miter"/>
<path d="M1205.56 981.6L1223.44 981.6L1214.5 996.3z" fill="none" stroke="#ff0000" stroke-width="3.2" stroke-linejoin="miter"/>
<path d="M1075.57 1186.7L1095.63 1186.7L1085.6 1203.6z" fill="none" stroke="#000" stroke-width="3.4" stroke-linejoin="miter"/>
<path d="M1125.87 1161L1145.93 1161L1135.9 1177.9z" fill="none" stroke="#000" stroke-width="3.4" stroke-linejoin="miter"/>
<path d="M1195.26 1160.4L1213.14 1160.4L1204.2 1175.1z" fill="none" stroke="#ff0000" stroke-width="3.2" stroke-linejoin="miter"/>
<path d="M1231.26 1185.3L1249.14 1185.3L1240.2 1200z" fill="none" stroke="#ff0000" stroke-width="3.2" stroke-linejoin="miter"/>
<path d="M1279.06 1142.1L1296.94 1142.1L1288 1156.8z" fill="none" stroke="#0000ff" stroke-width="3.2" stroke-linejoin="miter"/>
<text x="970" y="761.5" font-size="42" font-weight="bold">o</text>
<text x="971" y="966.5" font-size="42" font-weight="bold">r</text>
<text x="969.5" y="1171.5" font-size="42" font-weight="bold">v</text>
<text x="1014.3" y="1365.6" font-size="24.5" text-anchor="middle">1</text>
<text x="1159" y="1365.6" font-size="24.5" text-anchor="middle">1.5</text>
<text x="1303.7" y="1365.6" font-size="24.5" text-anchor="middle">2</text>
<text x="1159" y="1403" font-size="24.5" text-anchor="middle">E–E<tspan dy="7.35" font-size="15.19">F</tspan><tspan dy="-7.35">​</tspan> (eV)</text>
<text transform="translate(939.8 1028.5) rotate(-90)" font-size="24.8" text-anchor="middle">PDOS (a.u.)</text>
</g>
<g id="xy">
<path d="M1558 908.09H2017.2" stroke="#000" stroke-width="3.2" stroke-dasharray="18.5 7" fill="none"/>
<path d="M1568.47 711.6v25M1568.47 987v-25M1722.39 711.6v25M1722.39 987v-25M1778.34 711.6v25M1778.34 987v-25M1914.25 711.6v25M1914.25 987v-25M1988.53 711.6v25M1988.53 987v-25M1528 750.05h26M2043.2 750.05h-26M1528 829.07h26M2043.2 829.07h-26M1528 908.09h26M2043.2 908.09h-26M1528 790.51h14M2043.2 790.51h-14M1528 868.9h14M2043.2 868.9h-14M1528 947.6h14M2043.2 947.6h-14" stroke="#000" stroke-width="4" fill="none"/>
<clipPath id="cx"><rect x="1528" y="711.6" width="515.2" height="275.4"/></clipPath>
<g clip-path="url(#cx)">
<path d="M1665.5 690L1722.4 822.1L1778.3 880L1914.2 880L1988.5 892.3" fill="none" stroke="#0000ff" stroke-width="4.2" stroke-linejoin="round"/><circle cx="1722.39" cy="822.12" r="9.6" fill="#0000ff"/><circle cx="1778.34" cy="879.96" r="9.6" fill="#0000ff"/><circle cx="1914.25" cy="879.96" r="9.6" fill="#0000ff"/><circle cx="1988.53" cy="892.29" r="9.6" fill="#0000ff"/>
<path d="M1568.5 754.2L1722.4 893.2L1778.3 939.7L1914.2 921.7L1988.5 919.8" fill="none" stroke="#ff0000" stroke-width="4.2" stroke-linejoin="round"/><circle cx="1568.47" cy="754.16" r="9.6" fill="#ff0000"/><circle cx="1722.39" cy="893.23" r="9.6" fill="#ff0000"/><circle cx="1778.34" cy="939.7" r="9.6" fill="#ff0000"/><circle cx="1914.25" cy="921.68" r="9.6" fill="#ff0000"/><circle cx="1988.53" cy="919.78" r="9.6" fill="#ff0000"/>
</g>
<rect x="1528" y="711.6" width="515.2" height="275.4" fill="none" stroke="#000" stroke-width="4"/>
<path d="M1771.38 774.39H1849.14" stroke="#0000ff" stroke-width="3.4"/>
<circle cx="1808.37" cy="774.39" r="8.8" fill="#0000ff"/>
<path d="M1771.38 810.11H1849.14" stroke="#ff0000" stroke-width="3.4"/>
<circle cx="1808.37" cy="810.11" r="8.8" fill="#ff0000"/>
<text x="1861.15" y="781.03" font-size="20.5">Without SOC</text>
<text x="1861.15" y="817.06" font-size="20.5">With SOC</text>
<text x="1538.12" y="744.36" font-size="42" font-weight="bold">x</text>
<text x="1515" y="758.25" font-size="24.5" text-anchor="end">0.04</text>
<text x="1515" y="837.27" font-size="24.5" text-anchor="end">0.02</text>
<text x="1515" y="916.29" font-size="24.5" text-anchor="end">0.00</text>
<text x="1515" y="995.31" font-size="24.5" text-anchor="end">–0.02</text>
<text x="1569.73" y="1017.29" font-size="24.5" text-anchor="middle">1a<tspan dy="8.57" font-size="16.17">0</tspan><tspan dy="-8.57">​</tspan></text>
<text x="1718.28" y="1017.29" font-size="24.5" text-anchor="middle">√3a<tspan dy="8.57" font-size="16.17">0</tspan><tspan dy="-8.57">​</tspan></text>
<text x="1774.55" y="1017.29" font-size="24.5" text-anchor="middle">2a<tspan dy="8.57" font-size="16.17">0</tspan><tspan dy="-8.57">​</tspan></text>
<text x="1912.67" y="1017.29" font-size="24.5" text-anchor="middle">√7a<tspan dy="8.57" font-size="16.17">0</tspan><tspan dy="-8.57">​</tspan></text>
<text x="1992" y="1017.29" font-size="24.5" text-anchor="middle">3a<tspan dy="8.57" font-size="16.17">0</tspan><tspan dy="-8.57">​</tspan></text>
<text x="1785.61" y="1058.22" font-size="24.8" text-anchor="middle">Pb–Pb distance</text>
<text transform="translate(1431.5 1019) rotate(-90)" font-size="24.9" text-anchor="middle">Relative adsorption energy (eV/atom)</text>
<path d="M1558 1237.55H2017.2" stroke="#000" stroke-width="3.2" stroke-dasharray="18.5 7" fill="none"/>
<path d="M1571 1079.6v25M1571 1355.4v-25M1656.65 1079.6v25M1656.65 1355.4v-25M1742.94 1079.6v25M1742.94 1355.4v-25M1828.59 1079.6v25M1828.59 1355.4v-25M1914.57 1079.6v25M1914.57 1355.4v-25M1999.91 1079.6v25M1999.91 1355.4v-25M1528 1159.48h26M2043.2 1159.48h-26M1528 1237.55h26M2043.2 1237.55h-26M1528 1316.56h26M2043.2 1316.56h-26M1528 1119.02h14M2043.2 1119.02h-14M1528 1198.04h14M2043.2 1198.04h-14M1528 1276.42h14M2043.2 1276.42h-14" stroke="#000" stroke-width="4" fill="none"/>
<path d="M1572.89 1155.37L1572.89 1178.12" stroke="#000" stroke-width="3" fill="none"/><circle cx="1572.89" cy="1155.37" r="7.2"/><circle cx="1572.89" cy="1178.12" r="7.2"/><path d="M1658.23 1123.44L1658.23 1146.52M1658.23 1146.52L1658.23 1168.96" stroke="#000" stroke-width="3" fill="none"/><circle cx="1658.23" cy="1123.44" r="7.2"/><circle cx="1658.23" cy="1146.52" r="7.2"/><circle cx="1658.23" cy="1168.96" r="7.2"/><path d="M1752.42 1187.92L1732.51 1200.56M1752.42 1187.92L1752.42 1212.26M1752.42 1212.26L1732.51 1223.32M1732.51 1200.56L1732.51 1223.32" stroke="#000" stroke-width="3" fill="none"/><circle cx="1752.42" cy="1187.92" r="7.2"/><circle cx="1732.51" cy="1200.56" r="7.2"/><circle cx="1752.42" cy="1212.26" r="7.2"/><circle cx="1732.51" cy="1223.32" r="7.2"/><path d="M1833.65 1203.73L1813.42 1215.42M1813.42 1215.42L1813.42 1238.49M1813.42 1238.49L1833.65 1249.24M1833.65 1249.24L1853.56 1238.18" stroke="#000" stroke-width="3" fill="none"/><circle cx="1833.65" cy="1203.73" r="7.2"/><circle cx="1813.42" cy="1215.42" r="7.2"/><circle cx="1813.42" cy="1238.49" r="7.2"/><circle cx="1833.65" cy="1249.24" r="7.2"/><circle cx="1853.56" cy="1238.18" r="7.2"/><path d="M1915.2 1180.02L1935.11 1191.71M1935.11 1191.71L1935.11 1214.47M1935.11 1214.47L1915.2 1225.85M1915.2 1225.85L1895.6 1214.47M1895.6 1214.47L1895.6 1191.71M1895.6 1191.71L1915.2 1180.02" stroke="#000" stroke-width="3" fill="none"/><circle cx="1915.2" cy="1180.02" r="7.2"/><circle cx="1935.11" cy="1191.71" r="7.2"/><circle cx="1935.11" cy="1214.47" r="7.2"/><circle cx="1915.2" cy="1225.85" r="7.2"/><circle cx="1895.6" cy="1214.47" r="7.2"/><circle cx="1895.6" cy="1191.71" r="7.2"/><path d="M1996.74 1180.02L2016.66 1191.71M2016.66 1191.71L2016.66 1214.47M2016.66 1214.47L1996.74 1225.85M1996.74 1225.85L1977.15 1214.47M1977.15 1214.47L1977.15 1191.71M1977.15 1191.71L1996.74 1180.02" stroke="#000" stroke-width="3" fill="none"/><circle cx="1996.74" cy="1180.02" r="7.2"/><circle cx="2016.66" cy="1191.71" r="7.2"/><circle cx="2016.66" cy="1214.47" r="7.2"/><circle cx="1996.74" cy="1225.85" r="7.2"/><circle cx="1977.15" cy="1214.47" r="7.2"/><circle cx="1977.15" cy="1191.71" r="7.2"/><circle cx="1996.74" cy="1203.41" r="7.2"/>
<path d="M1571 1209.1L1656.7 1193.9L1742.9 1155.4L1828.6 1171.2L1914.6 1154.7L1999.9 1098.8" fill="none" stroke="#0000ff" stroke-width="4.2" stroke-linejoin="round"/><circle cx="1571" cy="1209.1" r="9.6" fill="#0000ff"/><circle cx="1656.65" cy="1193.93" r="9.6" fill="#0000ff"/><circle cx="1742.94" cy="1155.37" r="9.6" fill="#0000ff"/><circle cx="1828.59" cy="1171.17" r="9.6" fill="#0000ff"/><circle cx="1914.57" cy="1154.73" r="9.6" fill="#0000ff"/><circle cx="1999.91" cy="1098.79" r="9.6" fill="#0000ff"/>
<path d="M1571 1268.5L1656.7 1293.8L1742.9 1303L1828.6 1294.4L1914.6 1305.5L1999.9 1322.9" fill="none" stroke="#ff0000" stroke-width="4.2" stroke-linejoin="round"/><circle cx="1571" cy="1268.52" r="9.6" fill="#ff0000"/><circle cx="1656.65" cy="1293.81" r="9.6" fill="#ff0000"/><circle cx="1742.94" cy="1302.97" r="9.6" fill="#ff0000"/><circle cx="1828.59" cy="1294.44" r="9.6" fill="#ff0000"/><circle cx="1914.57" cy="1305.5" r="9.6" fill="#ff0000"/><circle cx="1999.91" cy="1322.88" r="9.6" fill="#ff0000"/>
<rect x="1528" y="1079.6" width="515.2" height="275.8" fill="none" stroke="#000" stroke-width="4"/>
<text x="1542.86" y="1118.39" font-size="42" font-weight="bold">y</text>
<text x="1514" y="1092.45" font-size="24.5" text-anchor="end">0.04</text>
<text x="1514" y="1169.89" font-size="24.5" text-anchor="end">0.02</text>
<text x="1514" y="1247.96" font-size="24.5" text-anchor="end">0.00</text>
<text x="1514" y="1326.34" font-size="24.5" text-anchor="end">–0.02</text>
<text x="1572" y="1382.31" font-size="24.5" text-anchor="middle">2</text>
<text x="1657.65" y="1382.31" font-size="24.5" text-anchor="middle">3</text>
<text x="1743.94" y="1382.31" font-size="24.5" text-anchor="middle">4</text>
<text x="1829.59" y="1382.31" font-size="24.5" text-anchor="middle">5</text>
<text x="1915.57" y="1382.31" font-size="24.5" text-anchor="middle">6</text>
<text x="2000.91" y="1382.31" font-size="24.5" text-anchor="middle">7</text>
<text x="1798.88" y="1413.91" font-size="24.5" text-anchor="middle">Number of Pb atoms</text>
</g>
</svg>
</body></html>
